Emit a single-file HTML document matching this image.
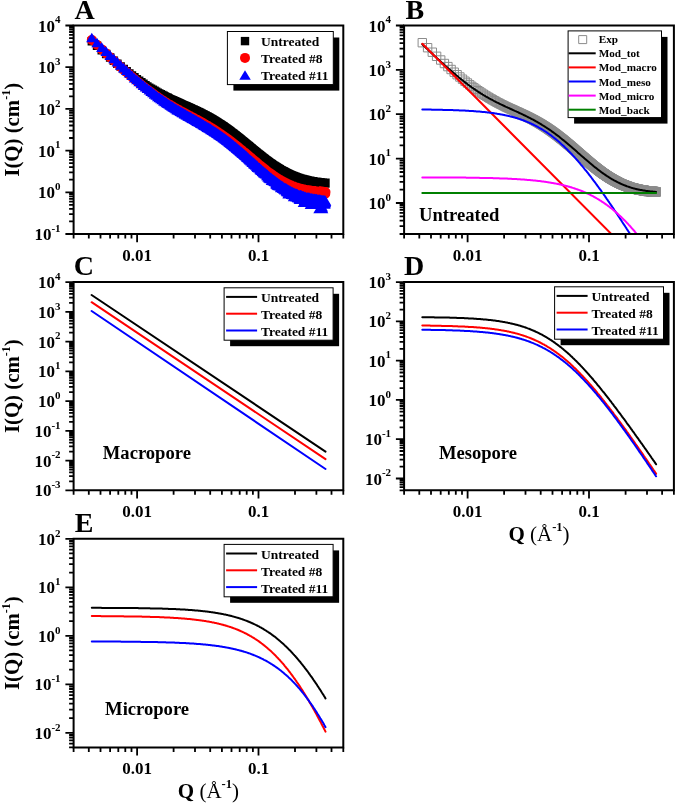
<!DOCTYPE html>
<html><head><meta charset="utf-8"><title>SAXS figure</title><style>html,body{margin:0;padding:0;background:#fff;}svg{display:block;will-change:transform;}</style></head><body>
<svg width="675" height="803" viewBox="0 0 675 803">
<rect width="675" height="803" fill="#fff"/>
<defs>
<clipPath id="cA"><rect x="74.6" y="26.5" width="267.7" height="206.5"/></clipPath>
<clipPath id="cB"><rect x="405.1" y="26.5" width="267.8" height="206.5"/></clipPath>
<clipPath id="cC"><rect x="74.6" y="283.1" width="267.7" height="206.2"/></clipPath>
<clipPath id="cD"><rect x="405.1" y="283.1" width="267.8" height="206.2"/></clipPath>
<clipPath id="cE"><rect x="74.6" y="539.8" width="267.7" height="206.6"/></clipPath>
</defs>
<path d="M87.6 36.9h8.5v8.5h-8.5zM92.8 41.6h8.5v8.5h-8.5zM97.5 45.9h8.5v8.5h-8.5zM101.9 49.8h8.5v8.5h-8.5zM105.9 53.3h8.5v8.5h-8.5zM109.6 56.5h8.5v8.5h-8.5zM113.1 59.4h8.5v8.5h-8.5zM116.4 62.2h8.5v8.5h-8.5zM119.5 64.7h8.5v8.5h-8.5zM122.4 67.1h8.5v8.5h-8.5zM125.1 69.2h8.5v8.5h-8.5zM127.7 71.3h8.5v8.5h-8.5zM130.2 73.1h8.5v8.5h-8.5zM132.6 74.9h8.5v8.5h-8.5zM134.9 76.5h8.5v8.5h-8.5zM137.1 78.1h8.5v8.5h-8.5zM139.2 79.5h8.5v8.5h-8.5zM141.2 80.9h8.5v8.5h-8.5zM143.1 82.2h8.5v8.5h-8.5zM145 83.4h8.5v8.5h-8.5zM146.8 84.5h8.5v8.5h-8.5zM148.6 85.5h8.5v8.5h-8.5zM150.3 86.6h8.5v8.5h-8.5zM151.9 87.5h8.5v8.5h-8.5zM153.5 88.4h8.5v8.5h-8.5zM155 89.2h8.5v8.5h-8.5zM156.5 90.1h8.5v8.5h-8.5zM158 90.8h8.5v8.5h-8.5zM159.4 91.6h8.5v8.5h-8.5zM160.8 92.3h8.5v8.5h-8.5zM162.1 93h8.5v8.5h-8.5zM163.5 93.6h8.5v8.5h-8.5zM164.7 94.3h8.5v8.5h-8.5zM166 94.9h8.5v8.5h-8.5zM167.2 95.5h8.5v8.5h-8.5zM168.4 96h8.5v8.5h-8.5zM169.6 96.5h8.5v8.5h-8.5zM170.7 97.1h8.5v8.5h-8.5zM171.8 97.6h8.5v8.5h-8.5zM172.9 98.1h8.5v8.5h-8.5zM174 98.6h8.5v8.5h-8.5zM175.1 99h8.5v8.5h-8.5zM176.1 99.5h8.5v8.5h-8.5zM177.1 99.9h8.5v8.5h-8.5zM178.1 100.4h8.5v8.5h-8.5zM179.1 100.9h8.5v8.5h-8.5zM180 101.3h8.5v8.5h-8.5zM181 101.7h8.5v8.5h-8.5zM181.9 102.1h8.5v8.5h-8.5zM182.8 102.6h8.5v8.5h-8.5zM183.7 102.9h8.5v8.5h-8.5zM184.6 103.3h8.5v8.5h-8.5zM185.4 103.7h8.5v8.5h-8.5zM186.3 104.1h8.5v8.5h-8.5zM187.1 104.5h8.5v8.5h-8.5zM187.9 104.9h8.5v8.5h-8.5zM188.7 105.2h8.5v8.5h-8.5zM189.5 105.6h8.5v8.5h-8.5zM190.3 106h8.5v8.5h-8.5zM191.1 106.3h8.5v8.5h-8.5zM191.8 106.7h8.5v8.5h-8.5zM192.6 107.1h8.5v8.5h-8.5zM193.3 107.4h8.5v8.5h-8.5zM194.1 107.8h8.5v8.5h-8.5zM194.8 108.1h8.5v8.5h-8.5zM195.5 108.5h8.5v8.5h-8.5zM196.2 108.8h8.5v8.5h-8.5zM196.9 109.2h8.5v8.5h-8.5zM197.6 109.6h8.5v8.5h-8.5zM198.3 109.9h8.5v8.5h-8.5zM198.9 110.2h8.5v8.5h-8.5zM199.6 110.6h8.5v8.5h-8.5zM200.2 110.9h8.5v8.5h-8.5zM200.9 111.2h8.5v8.5h-8.5zM201.5 111.6h8.5v8.5h-8.5zM202.1 111.9h8.5v8.5h-8.5zM202.8 112.3h8.5v8.5h-8.5zM203.4 112.6h8.5v8.5h-8.5zM204 112.9h8.5v8.5h-8.5zM204.6 113.3h8.5v8.5h-8.5zM205.2 113.6h8.5v8.5h-8.5zM205.7 113.9h8.5v8.5h-8.5zM206.3 114.3h8.5v8.5h-8.5zM206.9 114.6h8.5v8.5h-8.5zM207.5 114.9h8.5v8.5h-8.5zM208 115.3h8.5v8.5h-8.5zM208.6 115.6h8.5v8.5h-8.5zM209.1 115.9h8.5v8.5h-8.5zM209.7 116.3h8.5v8.5h-8.5zM210.2 116.6h8.5v8.5h-8.5zM210.7 116.9h8.5v8.5h-8.5zM211.3 117.2h8.5v8.5h-8.5zM211.8 117.6h8.5v8.5h-8.5zM212.3 117.9h8.5v8.5h-8.5zM212.8 118.2h8.5v8.5h-8.5zM213.3 118.5h8.5v8.5h-8.5zM213.8 118.9h8.5v8.5h-8.5zM214.3 119.2h8.5v8.5h-8.5zM214.8 119.5h8.5v8.5h-8.5zM215.3 119.9h8.5v8.5h-8.5zM215.8 120.1h8.5v8.5h-8.5zM216.3 120.5h8.5v8.5h-8.5zM216.7 120.8h8.5v8.5h-8.5zM217.2 121.1h8.5v8.5h-8.5zM217.7 121.4h8.5v8.5h-8.5zM218.1 121.7h8.5v8.5h-8.5zM218.6 122h8.5v8.5h-8.5zM219 122.3h8.5v8.5h-8.5zM219.5 122.6h8.5v8.5h-8.5zM219.9 123h8.5v8.5h-8.5zM220.4 123.3h8.5v8.5h-8.5zM220.8 123.6h8.5v8.5h-8.5zM221.3 123.9h8.5v8.5h-8.5zM221.7 124.2h8.5v8.5h-8.5zM222.1 124.5h8.5v8.5h-8.5zM222.5 124.8h8.5v8.5h-8.5zM223 125.1h8.5v8.5h-8.5zM223.4 125.4h8.5v8.5h-8.5zM223.8 125.7h8.5v8.5h-8.5zM224.2 126h8.5v8.5h-8.5zM224.6 126.3h8.5v8.5h-8.5zM225 126.6h8.5v8.5h-8.5zM225.4 126.9h8.5v8.5h-8.5zM225.8 127.3h8.5v8.5h-8.5zM226.2 127.5h8.5v8.5h-8.5zM226.6 127.8h8.5v8.5h-8.5zM227 128.2h8.5v8.5h-8.5zM227.4 128.4h8.5v8.5h-8.5zM227.8 128.7h8.5v8.5h-8.5zM228.1 129h8.5v8.5h-8.5zM228.5 129.3h8.5v8.5h-8.5zM228.9 129.6h8.5v8.5h-8.5zM229.3 129.8h8.5v8.5h-8.5zM229.6 130.2h8.5v8.5h-8.5zM230 130.5h8.5v8.5h-8.5zM230.4 130.7h8.5v8.5h-8.5zM230.7 131h8.5v8.5h-8.5zM231.1 131.3h8.5v8.5h-8.5zM231.5 131.6h8.5v8.5h-8.5zM231.8 131.9h8.5v8.5h-8.5zM232.2 132.1h8.5v8.5h-8.5zM232.5 132.4h8.5v8.5h-8.5zM232.9 132.7h8.5v8.5h-8.5zM233.2 133h8.5v8.5h-8.5zM233.6 133.2h8.5v8.5h-8.5zM233.9 133.5h8.5v8.5h-8.5zM234.2 133.8h8.5v8.5h-8.5zM234.6 134h8.5v8.5h-8.5zM234.9 134.3h8.5v8.5h-8.5zM235.3 134.6h8.5v8.5h-8.5zM235.6 134.9h8.5v8.5h-8.5zM235.9 135.1h8.5v8.5h-8.5zM236.2 135.4h8.5v8.5h-8.5zM236.6 135.6h8.5v8.5h-8.5zM236.9 135.9h8.5v8.5h-8.5zM237.2 136.2h8.5v8.5h-8.5zM237.5 136.5h8.5v8.5h-8.5zM237.8 136.7h8.5v8.5h-8.5zM238.2 137h8.5v8.5h-8.5zM238.5 137.2h8.5v8.5h-8.5zM238.8 137.5h8.5v8.5h-8.5zM239.1 137.7h8.5v8.5h-8.5zM239.4 138h8.5v8.5h-8.5zM239.7 138.3h8.5v8.5h-8.5zM240 138.5h8.5v8.5h-8.5zM240.3 138.7h8.5v8.5h-8.5zM240.6 139h8.5v8.5h-8.5zM240.9 139.2h8.5v8.5h-8.5zM241.2 139.4h8.5v8.5h-8.5zM241.5 139.7h8.5v8.5h-8.5zM241.8 140h8.5v8.5h-8.5zM242.1 140.2h8.5v8.5h-8.5zM242.4 140.4h8.5v8.5h-8.5zM242.7 140.6h8.5v8.5h-8.5zM243 140.9h8.5v8.5h-8.5zM243.3 141.2h8.5v8.5h-8.5zM243.5 141.4h8.5v8.5h-8.5zM243.8 141.6h8.5v8.5h-8.5zM244.1 141.8h8.5v8.5h-8.5zM244.4 142h8.5v8.5h-8.5zM244.7 142.3h8.5v8.5h-8.5zM244.9 142.5h8.5v8.5h-8.5zM245.2 142.8h8.5v8.5h-8.5zM245.5 143h8.5v8.5h-8.5zM245.8 143.2h8.5v8.5h-8.5zM246 143.4h8.5v8.5h-8.5zM246.3 143.7h8.5v8.5h-8.5zM246.6 143.9h8.5v8.5h-8.5zM246.8 144.1h8.5v8.5h-8.5zM247.1 144.3h8.5v8.5h-8.5zM247.4 144.6h8.5v8.5h-8.5zM247.6 144.8h8.5v8.5h-8.5zM247.9 145h8.5v8.5h-8.5zM248.2 145.2h8.5v8.5h-8.5zM248.4 145.4h8.5v8.5h-8.5zM248.7 145.7h8.5v8.5h-8.5zM248.9 145.9h8.5v8.5h-8.5zM249.2 146.1h8.5v8.5h-8.5zM249.4 146.3h8.5v8.5h-8.5zM249.7 146.6h8.5v8.5h-8.5zM249.9 146.7h8.5v8.5h-8.5zM250.2 146.9h8.5v8.5h-8.5zM250.4 147.1h8.5v8.5h-8.5zM250.7 147.3h8.5v8.5h-8.5zM250.9 147.6h8.5v8.5h-8.5zM251.2 147.8h8.5v8.5h-8.5zM251.4 148h8.5v8.5h-8.5zM251.7 148.2h8.5v8.5h-8.5zM251.9 148.3h8.5v8.5h-8.5zM252.2 148.5h8.5v8.5h-8.5zM252.4 148.6h8.5v8.5h-8.5zM252.6 148.9h8.5v8.5h-8.5zM252.9 149.2h8.5v8.5h-8.5zM253.1 149.4h8.5v8.5h-8.5zM253.4 149.4h8.5v8.5h-8.5zM253.6 149.6h8.5v8.5h-8.5zM253.8 149.8h8.5v8.5h-8.5zM254.1 150h8.5v8.5h-8.5zM254.3 150.2h8.5v8.5h-8.5zM254.5 150.5h8.5v8.5h-8.5zM254.8 150.5h8.5v8.5h-8.5zM255 150.8h8.5v8.5h-8.5zM255.2 151.1h8.5v8.5h-8.5zM255.4 151.1h8.5v8.5h-8.5zM255.7 151.2h8.5v8.5h-8.5zM255.9 151.5h8.5v8.5h-8.5zM256.1 151.7h8.5v8.5h-8.5zM256.3 151.8h8.5v8.5h-8.5zM256.6 152.1h8.5v8.5h-8.5zM256.8 152.2h8.5v8.5h-8.5zM257 152.3h8.5v8.5h-8.5zM257.2 152.6h8.5v8.5h-8.5zM257.4 152.7h8.5v8.5h-8.5zM257.7 152.8h8.5v8.5h-8.5zM257.9 153.2h8.5v8.5h-8.5zM258.1 153.3h8.5v8.5h-8.5zM258.3 153.4h8.5v8.5h-8.5zM258.5 153.5h8.5v8.5h-8.5zM258.7 153.6h8.5v8.5h-8.5zM258.9 154h8.5v8.5h-8.5zM259.2 154h8.5v8.5h-8.5zM259.4 154.2h8.5v8.5h-8.5zM259.6 154.3h8.5v8.5h-8.5zM259.8 154.5h8.5v8.5h-8.5zM260 154.6h8.5v8.5h-8.5zM260.2 154.9h8.5v8.5h-8.5zM260.4 154.9h8.5v8.5h-8.5zM260.6 155.4h8.5v8.5h-8.5zM260.8 155.3h8.5v8.5h-8.5zM261 155.7h8.5v8.5h-8.5zM261.2 156h8.5v8.5h-8.5zM261.4 155.8h8.5v8.5h-8.5zM261.6 156h8.5v8.5h-8.5zM261.8 156h8.5v8.5h-8.5zM262 156.3h8.5v8.5h-8.5zM262.2 156.4h8.5v8.5h-8.5zM262.4 156.6h8.5v8.5h-8.5zM262.6 156.6h8.5v8.5h-8.5zM262.8 156.7h8.5v8.5h-8.5zM263 156.9h8.5v8.5h-8.5zM263.2 157h8.5v8.5h-8.5zM263.4 157.3h8.5v8.5h-8.5zM263.6 157.4h8.5v8.5h-8.5zM263.8 157.5h8.5v8.5h-8.5zM264 157.7h8.5v8.5h-8.5zM264.2 157.8h8.5v8.5h-8.5zM264.4 158h8.5v8.5h-8.5zM264.6 158.2h8.5v8.5h-8.5zM264.8 158.3h8.5v8.5h-8.5zM264.9 158.3h8.5v8.5h-8.5zM265.1 158.4h8.5v8.5h-8.5zM265.3 158.7h8.5v8.5h-8.5zM265.5 158.9h8.5v8.5h-8.5zM265.7 159h8.5v8.5h-8.5zM265.9 159h8.5v8.5h-8.5zM266.1 159.2h8.5v8.5h-8.5zM266.3 159.2h8.5v8.5h-8.5zM266.4 159.7h8.5v8.5h-8.5zM266.6 159.5h8.5v8.5h-8.5zM266.8 159.6h8.5v8.5h-8.5zM267 159.7h8.5v8.5h-8.5zM267.2 160h8.5v8.5h-8.5zM267.4 160h8.5v8.5h-8.5zM267.5 160.1h8.5v8.5h-8.5zM267.7 160.4h8.5v8.5h-8.5zM267.9 160.4h8.5v8.5h-8.5zM268.1 160.4h8.5v8.5h-8.5zM268.2 160.8h8.5v8.5h-8.5zM268.4 160.8h8.5v8.5h-8.5zM268.6 160.9h8.5v8.5h-8.5zM268.8 161.2h8.5v8.5h-8.5zM269 161.3h8.5v8.5h-8.5zM269.1 161.3h8.5v8.5h-8.5zM269.3 161.4h8.5v8.5h-8.5zM269.5 161.5h8.5v8.5h-8.5zM269.6 161.5h8.5v8.5h-8.5zM269.8 161.6h8.5v8.5h-8.5zM270 161.8h8.5v8.5h-8.5zM270.2 161.9h8.5v8.5h-8.5zM270.3 162h8.5v8.5h-8.5zM270.5 162.3h8.5v8.5h-8.5zM270.7 162.3h8.5v8.5h-8.5zM270.8 162.3h8.5v8.5h-8.5zM271 162.5h8.5v8.5h-8.5zM271.2 162.6h8.5v8.5h-8.5zM271.4 162.9h8.5v8.5h-8.5zM271.5 162.8h8.5v8.5h-8.5zM271.7 162.8h8.5v8.5h-8.5zM271.9 163h8.5v8.5h-8.5zM272 163.2h8.5v8.5h-8.5zM272.2 163.1h8.5v8.5h-8.5zM272.3 163.4h8.5v8.5h-8.5zM272.5 163.4h8.5v8.5h-8.5zM272.7 163.5h8.5v8.5h-8.5zM272.8 163.6h8.5v8.5h-8.5zM273 163.7h8.5v8.5h-8.5zM273.2 164.1h8.5v8.5h-8.5zM273.3 163.9h8.5v8.5h-8.5zM273.5 164.1h8.5v8.5h-8.5zM273.6 164.2h8.5v8.5h-8.5zM273.8 164.3h8.5v8.5h-8.5zM274 164.3h8.5v8.5h-8.5zM274.1 164.6h8.5v8.5h-8.5zM274.3 164.5h8.5v8.5h-8.5zM274.4 164.6h8.5v8.5h-8.5zM274.6 164.6h8.5v8.5h-8.5zM274.8 164.7h8.5v8.5h-8.5zM274.9 165h8.5v8.5h-8.5zM275.1 165h8.5v8.5h-8.5zM275.2 165.4h8.5v8.5h-8.5zM275.4 165.1h8.5v8.5h-8.5zM275.5 165.2h8.5v8.5h-8.5zM275.7 165.5h8.5v8.5h-8.5zM275.8 165.4h8.5v8.5h-8.5zM276 165.7h8.5v8.5h-8.5zM276.2 165.8h8.5v8.5h-8.5zM276.3 165.9h8.5v8.5h-8.5zM276.5 165.9h8.5v8.5h-8.5zM276.6 166h8.5v8.5h-8.5zM276.8 166.2h8.5v8.5h-8.5zM276.9 166h8.5v8.5h-8.5zM277.1 166.2h8.5v8.5h-8.5zM277.2 166.6h8.5v8.5h-8.5zM277.4 166.3h8.5v8.5h-8.5zM277.5 166.4h8.5v8.5h-8.5zM277.7 166.7h8.5v8.5h-8.5zM277.8 166.5h8.5v8.5h-8.5zM278 166.9h8.5v8.5h-8.5zM278.1 166.8h8.5v8.5h-8.5zM278.3 166.9h8.5v8.5h-8.5zM278.4 167h8.5v8.5h-8.5zM278.5 167h8.5v8.5h-8.5zM278.7 167h8.5v8.5h-8.5zM278.8 167.1h8.5v8.5h-8.5zM279 167.1h8.5v8.5h-8.5zM279.1 167.2h8.5v8.5h-8.5zM279.3 167.3h8.5v8.5h-8.5zM279.4 167.3h8.5v8.5h-8.5zM279.6 167.5h8.5v8.5h-8.5zM279.7 167.5h8.5v8.5h-8.5zM279.8 167.7h8.5v8.5h-8.5zM280 168.1h8.5v8.5h-8.5zM280.1 167.8h8.5v8.5h-8.5zM280.3 167.8h8.5v8.5h-8.5zM280.4 168.3h8.5v8.5h-8.5zM280.6 168h8.5v8.5h-8.5zM280.7 168.5h8.5v8.5h-8.5zM280.8 168.4h8.5v8.5h-8.5zM281 168.3h8.5v8.5h-8.5zM281.1 168.4h8.5v8.5h-8.5zM281.3 168.3h8.5v8.5h-8.5zM281.4 168.8h8.5v8.5h-8.5zM281.5 168.5h8.5v8.5h-8.5zM281.7 168.7h8.5v8.5h-8.5zM281.8 168.7h8.5v8.5h-8.5zM281.9 169.2h8.5v8.5h-8.5zM282.1 168.8h8.5v8.5h-8.5zM282.2 169h8.5v8.5h-8.5zM282.4 169.1h8.5v8.5h-8.5zM282.5 168.9h8.5v8.5h-8.5zM282.6 169h8.5v8.5h-8.5zM282.8 169.3h8.5v8.5h-8.5zM282.9 169.1h8.5v8.5h-8.5zM283 169.5h8.5v8.5h-8.5zM283.2 169.5h8.5v8.5h-8.5zM283.3 169.6h8.5v8.5h-8.5zM283.4 169.6h8.5v8.5h-8.5zM283.6 169.5h8.5v8.5h-8.5zM283.7 169.6h8.5v8.5h-8.5zM283.8 169.6h8.5v8.5h-8.5zM284 169.7h8.5v8.5h-8.5zM284.1 169.8h8.5v8.5h-8.5zM284.2 170.1h8.5v8.5h-8.5zM284.4 170.2h8.5v8.5h-8.5zM284.5 170.1h8.5v8.5h-8.5zM284.6 170h8.5v8.5h-8.5zM284.7 170h8.5v8.5h-8.5zM284.9 170.3h8.5v8.5h-8.5zM285 170.5h8.5v8.5h-8.5zM285.1 170.3h8.5v8.5h-8.5zM285.3 170.2h8.5v8.5h-8.5zM285.4 170.4h8.5v8.5h-8.5zM285.5 170.4h8.5v8.5h-8.5zM285.6 170.6h8.5v8.5h-8.5zM285.8 170.5h8.5v8.5h-8.5zM285.9 170.8h8.5v8.5h-8.5zM286 170.8h8.5v8.5h-8.5zM286.2 170.8h8.5v8.5h-8.5zM286.3 170.8h8.5v8.5h-8.5zM286.4 171.2h8.5v8.5h-8.5zM286.5 171.1h8.5v8.5h-8.5zM286.7 171h8.5v8.5h-8.5zM286.8 171.2h8.5v8.5h-8.5zM286.9 171h8.5v8.5h-8.5zM287 171.1h8.5v8.5h-8.5zM287.2 171.3h8.5v8.5h-8.5zM287.3 171.8h8.5v8.5h-8.5zM287.4 171.2h8.5v8.5h-8.5zM287.5 171.6h8.5v8.5h-8.5zM287.7 171.4h8.5v8.5h-8.5zM287.8 171.3h8.5v8.5h-8.5zM287.9 171.8h8.5v8.5h-8.5zM288 171.5h8.5v8.5h-8.5zM288.1 171.7h8.5v8.5h-8.5zM288.3 171.8h8.5v8.5h-8.5zM288.4 171.8h8.5v8.5h-8.5zM288.5 171.7h8.5v8.5h-8.5zM288.6 171.9h8.5v8.5h-8.5zM288.7 171.8h8.5v8.5h-8.5zM288.9 171.9h8.5v8.5h-8.5zM289 171.8h8.5v8.5h-8.5zM289.1 172h8.5v8.5h-8.5zM289.2 172.1h8.5v8.5h-8.5zM289.3 172h8.5v8.5h-8.5zM289.5 172.3h8.5v8.5h-8.5zM289.6 172.4h8.5v8.5h-8.5zM289.7 172.1h8.5v8.5h-8.5zM289.8 172.4h8.5v8.5h-8.5zM289.9 172.6h8.5v8.5h-8.5zM290.1 172.2h8.5v8.5h-8.5zM290.2 172.4h8.5v8.5h-8.5zM290.3 172.6h8.5v8.5h-8.5zM290.4 172.6h8.5v8.5h-8.5zM290.5 172.5h8.5v8.5h-8.5zM290.6 172.9h8.5v8.5h-8.5zM290.8 172.7h8.5v8.5h-8.5zM290.9 172.6h8.5v8.5h-8.5zM291 172.6h8.5v8.5h-8.5zM291.1 172.8h8.5v8.5h-8.5zM291.2 172.8h8.5v8.5h-8.5zM291.3 172.7h8.5v8.5h-8.5zM291.4 172.9h8.5v8.5h-8.5zM291.6 172.8h8.5v8.5h-8.5zM291.7 173.1h8.5v8.5h-8.5zM291.8 172.9h8.5v8.5h-8.5zM291.9 172.9h8.5v8.5h-8.5zM292 173.2h8.5v8.5h-8.5zM292.1 173.2h8.5v8.5h-8.5zM292.2 173h8.5v8.5h-8.5zM292.4 173.6h8.5v8.5h-8.5zM292.5 173.3h8.5v8.5h-8.5zM292.6 173.4h8.5v8.5h-8.5zM292.7 173.7h8.5v8.5h-8.5zM292.8 173.2h8.5v8.5h-8.5zM292.9 173.6h8.5v8.5h-8.5zM293 173.7h8.5v8.5h-8.5zM293.1 173.6h8.5v8.5h-8.5zM293.2 173.6h8.5v8.5h-8.5zM293.4 173.7h8.5v8.5h-8.5zM293.5 173.5h8.5v8.5h-8.5zM293.6 173.7h8.5v8.5h-8.5zM293.7 173.7h8.5v8.5h-8.5zM293.8 173.7h8.5v8.5h-8.5zM293.9 173.8h8.5v8.5h-8.5zM294 173.7h8.5v8.5h-8.5zM294.1 173.9h8.5v8.5h-8.5zM294.2 174h8.5v8.5h-8.5zM294.3 174.3h8.5v8.5h-8.5zM294.5 174.3h8.5v8.5h-8.5zM294.6 173.9h8.5v8.5h-8.5zM294.7 173.9h8.5v8.5h-8.5zM294.8 173.8h8.5v8.5h-8.5zM294.9 173.9h8.5v8.5h-8.5zM295 173.9h8.5v8.5h-8.5zM295.1 174.6h8.5v8.5h-8.5zM295.2 174.3h8.5v8.5h-8.5zM295.3 174.5h8.5v8.5h-8.5zM295.4 174.4h8.5v8.5h-8.5zM295.5 174.5h8.5v8.5h-8.5zM295.6 174.3h8.5v8.5h-8.5zM295.7 174.4h8.5v8.5h-8.5zM295.8 174.5h8.5v8.5h-8.5zM295.9 174.7h8.5v8.5h-8.5zM296 174.3h8.5v8.5h-8.5zM296.2 174.7h8.5v8.5h-8.5zM296.3 175.2h8.5v8.5h-8.5zM296.4 174.5h8.5v8.5h-8.5zM296.5 174.7h8.5v8.5h-8.5zM296.6 174.7h8.5v8.5h-8.5zM296.7 174.8h8.5v8.5h-8.5zM296.8 174.5h8.5v8.5h-8.5zM296.9 175h8.5v8.5h-8.5zM297 174.8h8.5v8.5h-8.5zM297.1 175h8.5v8.5h-8.5zM297.2 174.8h8.5v8.5h-8.5zM297.3 174.7h8.5v8.5h-8.5zM297.4 174.9h8.5v8.5h-8.5zM297.5 175.3h8.5v8.5h-8.5zM297.6 174.8h8.5v8.5h-8.5zM297.7 174.7h8.5v8.5h-8.5zM297.8 174.8h8.5v8.5h-8.5zM297.9 174.8h8.5v8.5h-8.5zM298 175.2h8.5v8.5h-8.5zM298.1 174.8h8.5v8.5h-8.5zM298.2 174.9h8.5v8.5h-8.5zM298.3 175.3h8.5v8.5h-8.5zM298.4 175.6h8.5v8.5h-8.5zM298.5 175h8.5v8.5h-8.5zM298.6 175.2h8.5v8.5h-8.5zM298.7 175h8.5v8.5h-8.5zM298.8 175.2h8.5v8.5h-8.5zM298.9 175.3h8.5v8.5h-8.5zM299 175.1h8.5v8.5h-8.5zM299.1 175.5h8.5v8.5h-8.5zM299.2 175.3h8.5v8.5h-8.5zM299.3 175.2h8.5v8.5h-8.5zM299.4 175.2h8.5v8.5h-8.5zM299.5 175.2h8.5v8.5h-8.5zM299.6 175.5h8.5v8.5h-8.5zM299.7 175.6h8.5v8.5h-8.5zM299.8 175.3h8.5v8.5h-8.5zM299.9 175.5h8.5v8.5h-8.5zM300 175.4h8.5v8.5h-8.5zM300.1 175.3h8.5v8.5h-8.5zM300.2 175.8h8.5v8.5h-8.5zM300.3 175.4h8.5v8.5h-8.5zM300.4 175.9h8.5v8.5h-8.5zM300.5 175.6h8.5v8.5h-8.5zM300.6 175.6h8.5v8.5h-8.5zM300.7 176.2h8.5v8.5h-8.5zM300.8 175.5h8.5v8.5h-8.5zM300.9 175.6h8.5v8.5h-8.5zM301 175.6h8.5v8.5h-8.5zM301 175.7h8.5v8.5h-8.5zM301.1 175.7h8.5v8.5h-8.5zM301.2 176h8.5v8.5h-8.5zM301.3 175.7h8.5v8.5h-8.5zM301.4 175.9h8.5v8.5h-8.5zM301.5 175.7h8.5v8.5h-8.5zM301.6 176.1h8.5v8.5h-8.5zM301.7 175.8h8.5v8.5h-8.5zM301.8 175.8h8.5v8.5h-8.5zM301.9 175.8h8.5v8.5h-8.5zM302 175.9h8.5v8.5h-8.5zM302.1 176h8.5v8.5h-8.5zM302.2 176.5h8.5v8.5h-8.5zM302.3 176h8.5v8.5h-8.5zM302.4 176h8.5v8.5h-8.5zM302.5 176h8.5v8.5h-8.5zM302.6 176.1h8.5v8.5h-8.5zM302.6 176.2h8.5v8.5h-8.5zM302.7 176h8.5v8.5h-8.5zM302.8 176.2h8.5v8.5h-8.5zM302.9 176.2h8.5v8.5h-8.5zM303 176.1h8.5v8.5h-8.5zM303.1 176.6h8.5v8.5h-8.5zM303.2 176.3h8.5v8.5h-8.5zM303.3 176.5h8.5v8.5h-8.5zM303.4 176.5h8.5v8.5h-8.5zM303.5 176.2h8.5v8.5h-8.5zM303.6 176.7h8.5v8.5h-8.5zM303.7 176.5h8.5v8.5h-8.5zM303.7 176.2h8.5v8.5h-8.5zM303.8 177.2h8.5v8.5h-8.5zM303.9 176.3h8.5v8.5h-8.5zM304 176.8h8.5v8.5h-8.5zM304.1 176.7h8.5v8.5h-8.5zM304.2 176.5h8.5v8.5h-8.5zM304.3 176.8h8.5v8.5h-8.5zM304.4 176.4h8.5v8.5h-8.5zM304.5 176.4h8.5v8.5h-8.5zM304.6 177h8.5v8.5h-8.5zM304.6 177h8.5v8.5h-8.5zM304.7 176.4h8.5v8.5h-8.5zM304.8 176.5h8.5v8.5h-8.5zM304.9 176.9h8.5v8.5h-8.5zM305 176.7h8.5v8.5h-8.5zM305.1 176.6h8.5v8.5h-8.5zM305.2 176.6h8.5v8.5h-8.5zM305.3 176.5h8.5v8.5h-8.5zM305.3 176.9h8.5v8.5h-8.5zM305.4 176.8h8.5v8.5h-8.5zM305.5 176.5h8.5v8.5h-8.5zM305.6 176.8h8.5v8.5h-8.5zM305.7 176.8h8.5v8.5h-8.5zM305.8 177h8.5v8.5h-8.5zM305.9 176.7h8.5v8.5h-8.5zM306 176.7h8.5v8.5h-8.5zM306 176.8h8.5v8.5h-8.5zM306.1 177h8.5v8.5h-8.5zM306.2 177.3h8.5v8.5h-8.5zM306.3 176.9h8.5v8.5h-8.5zM306.4 176.7h8.5v8.5h-8.5zM306.5 176.8h8.5v8.5h-8.5zM306.6 177.4h8.5v8.5h-8.5zM306.7 176.9h8.5v8.5h-8.5zM306.7 177h8.5v8.5h-8.5zM306.8 177.1h8.5v8.5h-8.5zM306.9 177.7h8.5v8.5h-8.5zM307 176.9h8.5v8.5h-8.5zM307.1 177.2h8.5v8.5h-8.5zM307.2 177h8.5v8.5h-8.5zM307.2 177.1h8.5v8.5h-8.5zM307.3 176.9h8.5v8.5h-8.5zM307.4 177.2h8.5v8.5h-8.5zM307.5 178h8.5v8.5h-8.5zM307.6 177h8.5v8.5h-8.5zM307.7 177.1h8.5v8.5h-8.5zM307.8 177.2h8.5v8.5h-8.5zM307.8 177.6h8.5v8.5h-8.5zM307.9 177.4h8.5v8.5h-8.5zM308 177.1h8.5v8.5h-8.5zM308.1 177.1h8.5v8.5h-8.5zM308.2 177.3h8.5v8.5h-8.5zM308.3 177.2h8.5v8.5h-8.5zM308.3 177h8.5v8.5h-8.5zM308.4 177.4h8.5v8.5h-8.5zM308.5 177.8h8.5v8.5h-8.5zM308.6 177.1h8.5v8.5h-8.5zM308.7 177.1h8.5v8.5h-8.5zM308.8 177.2h8.5v8.5h-8.5zM308.8 177.6h8.5v8.5h-8.5zM308.9 177.1h8.5v8.5h-8.5zM309 177.7h8.5v8.5h-8.5zM309.1 177.5h8.5v8.5h-8.5zM309.2 177.2h8.5v8.5h-8.5zM309.2 177.3h8.5v8.5h-8.5zM309.3 177.5h8.5v8.5h-8.5zM309.4 177.6h8.5v8.5h-8.5zM309.5 177.8h8.5v8.5h-8.5zM309.6 177.6h8.5v8.5h-8.5zM309.7 177.4h8.5v8.5h-8.5zM309.7 177.5h8.5v8.5h-8.5zM309.8 177.9h8.5v8.5h-8.5zM309.9 177.7h8.5v8.5h-8.5zM310 177.5h8.5v8.5h-8.5zM310.1 177.5h8.5v8.5h-8.5zM310.1 177.5h8.5v8.5h-8.5zM310.2 177.7h8.5v8.5h-8.5zM310.3 177.4h8.5v8.5h-8.5zM310.4 177.8h8.5v8.5h-8.5zM310.5 177.7h8.5v8.5h-8.5zM310.5 177.7h8.5v8.5h-8.5zM310.6 177.5h8.5v8.5h-8.5zM310.7 177.7h8.5v8.5h-8.5zM310.8 177.7h8.5v8.5h-8.5zM310.9 177.5h8.5v8.5h-8.5zM310.9 177.8h8.5v8.5h-8.5zM311 177.5h8.5v8.5h-8.5zM311.1 177.6h8.5v8.5h-8.5zM311.2 177.8h8.5v8.5h-8.5zM311.2 177.7h8.5v8.5h-8.5zM311.3 177.7h8.5v8.5h-8.5zM311.4 178h8.5v8.5h-8.5zM311.5 178.4h8.5v8.5h-8.5zM311.6 178.3h8.5v8.5h-8.5zM311.6 177.6h8.5v8.5h-8.5zM311.7 177.6h8.5v8.5h-8.5zM311.8 178.2h8.5v8.5h-8.5zM311.9 177.6h8.5v8.5h-8.5zM312 178h8.5v8.5h-8.5zM312 177.6h8.5v8.5h-8.5zM312.1 177.8h8.5v8.5h-8.5zM312.2 177.9h8.5v8.5h-8.5zM312.3 178.3h8.5v8.5h-8.5zM312.3 178.2h8.5v8.5h-8.5zM312.4 177.9h8.5v8.5h-8.5zM312.5 178h8.5v8.5h-8.5zM312.6 177.7h8.5v8.5h-8.5zM312.6 177.8h8.5v8.5h-8.5zM312.7 177.9h8.5v8.5h-8.5zM312.8 177.8h8.5v8.5h-8.5zM312.9 177.9h8.5v8.5h-8.5zM313 178.1h8.5v8.5h-8.5zM313 177.9h8.5v8.5h-8.5zM313.1 178.1h8.5v8.5h-8.5zM313.2 178.2h8.5v8.5h-8.5zM313.3 177.8h8.5v8.5h-8.5zM313.3 178.1h8.5v8.5h-8.5zM313.4 177.9h8.5v8.5h-8.5zM313.5 177.9h8.5v8.5h-8.5zM313.6 178.1h8.5v8.5h-8.5zM313.6 178.4h8.5v8.5h-8.5zM313.7 178.2h8.5v8.5h-8.5zM313.8 178h8.5v8.5h-8.5zM313.9 178.8h8.5v8.5h-8.5zM313.9 178.2h8.5v8.5h-8.5zM314 177.9h8.5v8.5h-8.5zM314.1 178.1h8.5v8.5h-8.5zM314.2 178.7h8.5v8.5h-8.5zM314.2 178h8.5v8.5h-8.5zM314.3 178h8.5v8.5h-8.5zM314.4 178.4h8.5v8.5h-8.5zM314.5 178.1h8.5v8.5h-8.5zM314.5 178.2h8.5v8.5h-8.5zM314.6 178.1h8.5v8.5h-8.5zM314.7 178.7h8.5v8.5h-8.5zM314.7 178.6h8.5v8.5h-8.5zM314.8 178.2h8.5v8.5h-8.5zM314.9 178.2h8.5v8.5h-8.5zM315 178.8h8.5v8.5h-8.5zM315 178.2h8.5v8.5h-8.5zM315.1 178.1h8.5v8.5h-8.5zM315.2 178.2h8.5v8.5h-8.5zM315.3 178.3h8.5v8.5h-8.5zM315.3 178.1h8.5v8.5h-8.5zM315.4 178.7h8.5v8.5h-8.5zM315.5 178.2h8.5v8.5h-8.5zM315.5 178.3h8.5v8.5h-8.5zM315.6 178.2h8.5v8.5h-8.5zM315.7 178.3h8.5v8.5h-8.5zM315.8 178.2h8.5v8.5h-8.5zM315.8 179h8.5v8.5h-8.5zM315.9 178.6h8.5v8.5h-8.5zM316 178.2h8.5v8.5h-8.5zM316.1 178.5h8.5v8.5h-8.5zM316.1 178.9h8.5v8.5h-8.5zM316.2 178.1h8.5v8.5h-8.5zM316.3 178.8h8.5v8.5h-8.5zM316.3 178.5h8.5v8.5h-8.5zM316.4 178.6h8.5v8.5h-8.5zM316.5 178.3h8.5v8.5h-8.5zM316.6 178.2h8.5v8.5h-8.5zM316.6 178.9h8.5v8.5h-8.5zM316.7 178.3h8.5v8.5h-8.5zM316.8 178.8h8.5v8.5h-8.5zM316.8 178.3h8.5v8.5h-8.5zM316.9 178.2h8.5v8.5h-8.5zM317 178.3h8.5v8.5h-8.5zM317 178.2h8.5v8.5h-8.5zM317.1 178.4h8.5v8.5h-8.5zM317.2 178.4h8.5v8.5h-8.5zM317.3 178.9h8.5v8.5h-8.5zM317.3 178.2h8.5v8.5h-8.5zM317.4 179h8.5v8.5h-8.5zM317.5 179h8.5v8.5h-8.5zM317.5 178.8h8.5v8.5h-8.5zM317.6 178.5h8.5v8.5h-8.5zM317.7 178.5h8.5v8.5h-8.5zM317.7 178.8h8.5v8.5h-8.5zM317.8 178.3h8.5v8.5h-8.5zM317.9 178.3h8.5v8.5h-8.5zM318 178.4h8.5v8.5h-8.5zM318 178.3h8.5v8.5h-8.5zM318.1 178.5h8.5v8.5h-8.5zM318.2 178.3h8.5v8.5h-8.5zM318.2 178.7h8.5v8.5h-8.5zM318.3 178.5h8.5v8.5h-8.5zM318.4 179.2h8.5v8.5h-8.5zM318.4 178.3h8.5v8.5h-8.5zM318.5 178.4h8.5v8.5h-8.5zM318.6 178.5h8.5v8.5h-8.5zM318.6 178.6h8.5v8.5h-8.5zM318.7 178.8h8.5v8.5h-8.5zM318.8 178.4h8.5v8.5h-8.5zM318.8 178.7h8.5v8.5h-8.5zM318.9 178.5h8.5v8.5h-8.5zM319 178.4h8.5v8.5h-8.5zM319.1 179h8.5v8.5h-8.5zM319.1 178.6h8.5v8.5h-8.5zM319.2 178.4h8.5v8.5h-8.5zM319.3 178.6h8.5v8.5h-8.5zM319.3 179h8.5v8.5h-8.5zM319.4 179.2h8.5v8.5h-8.5zM319.5 178.7h8.5v8.5h-8.5zM319.5 178.6h8.5v8.5h-8.5zM319.6 178.7h8.5v8.5h-8.5zM319.7 178.7h8.5v8.5h-8.5zM319.7 179h8.5v8.5h-8.5zM319.8 179.1h8.5v8.5h-8.5zM319.9 178.7h8.5v8.5h-8.5zM319.9 178.6h8.5v8.5h-8.5zM320 178.7h8.5v8.5h-8.5zM320.1 178.7h8.5v8.5h-8.5zM320.1 178.8h8.5v8.5h-8.5zM320.2 179.3h8.5v8.5h-8.5zM320.3 178.6h8.5v8.5h-8.5zM320.3 179.1h8.5v8.5h-8.5zM320.4 178.7h8.5v8.5h-8.5zM320.5 178.6h8.5v8.5h-8.5zM320.5 178.6h8.5v8.5h-8.5zM320.6 179.1h8.5v8.5h-8.5zM320.7 178.6h8.5v8.5h-8.5zM320.7 179.1h8.5v8.5h-8.5zM320.8 178.8h8.5v8.5h-8.5zM320.9 178.9h8.5v8.5h-8.5zM320.9 179h8.5v8.5h-8.5zM321 178.7h8.5v8.5h-8.5zM321 178.8h8.5v8.5h-8.5zM321.1 179.3h8.5v8.5h-8.5zM321.2 178.8h8.5v8.5h-8.5zM321.2 178.6h8.5v8.5h-8.5z" fill="#000"/>
<path d="M86.8 39.9a5 5 0 1 0 10 0a5 5 0 1 0 -10 0zM92 44.8a5 5 0 1 0 10 0a5 5 0 1 0 -10 0zM96.8 49.4a5 5 0 1 0 10 0a5 5 0 1 0 -10 0zM101.1 53.4a5 5 0 1 0 10 0a5 5 0 1 0 -10 0zM105.1 57.3a5 5 0 1 0 10 0a5 5 0 1 0 -10 0zM108.9 60.7a5 5 0 1 0 10 0a5 5 0 1 0 -10 0zM112.4 63.9a5 5 0 1 0 10 0a5 5 0 1 0 -10 0zM115.6 66.9a5 5 0 1 0 10 0a5 5 0 1 0 -10 0zM118.7 69.7a5 5 0 1 0 10 0a5 5 0 1 0 -10 0zM121.6 72.2a5 5 0 1 0 10 0a5 5 0 1 0 -10 0zM124.4 74.6a5 5 0 1 0 10 0a5 5 0 1 0 -10 0zM127 76.9a5 5 0 1 0 10 0a5 5 0 1 0 -10 0zM129.5 79.1a5 5 0 1 0 10 0a5 5 0 1 0 -10 0zM131.9 81.2a5 5 0 1 0 10 0a5 5 0 1 0 -10 0zM134.1 82.9a5 5 0 1 0 10 0a5 5 0 1 0 -10 0zM136.3 84.8a5 5 0 1 0 10 0a5 5 0 1 0 -10 0zM138.4 86.5a5 5 0 1 0 10 0a5 5 0 1 0 -10 0zM140.4 88a5 5 0 1 0 10 0a5 5 0 1 0 -10 0zM142.4 89.5a5 5 0 1 0 10 0a5 5 0 1 0 -10 0zM144.3 91a5 5 0 1 0 10 0a5 5 0 1 0 -10 0zM146.1 92.3a5 5 0 1 0 10 0a5 5 0 1 0 -10 0zM147.8 93.6a5 5 0 1 0 10 0a5 5 0 1 0 -10 0zM149.5 94.8a5 5 0 1 0 10 0a5 5 0 1 0 -10 0zM151.1 96a5 5 0 1 0 10 0a5 5 0 1 0 -10 0zM152.7 97.1a5 5 0 1 0 10 0a5 5 0 1 0 -10 0zM154.3 98.2a5 5 0 1 0 10 0a5 5 0 1 0 -10 0zM155.8 99.3a5 5 0 1 0 10 0a5 5 0 1 0 -10 0zM157.2 100.2a5 5 0 1 0 10 0a5 5 0 1 0 -10 0zM158.7 101a5 5 0 1 0 10 0a5 5 0 1 0 -10 0zM160 102a5 5 0 1 0 10 0a5 5 0 1 0 -10 0zM161.4 102.8a5 5 0 1 0 10 0a5 5 0 1 0 -10 0zM162.7 103.7a5 5 0 1 0 10 0a5 5 0 1 0 -10 0zM164 104.4a5 5 0 1 0 10 0a5 5 0 1 0 -10 0zM165.2 105.1a5 5 0 1 0 10 0a5 5 0 1 0 -10 0zM166.5 105.9a5 5 0 1 0 10 0a5 5 0 1 0 -10 0zM167.7 106.6a5 5 0 1 0 10 0a5 5 0 1 0 -10 0zM168.8 107.2a5 5 0 1 0 10 0a5 5 0 1 0 -10 0zM170 108a5 5 0 1 0 10 0a5 5 0 1 0 -10 0zM171.1 108.6a5 5 0 1 0 10 0a5 5 0 1 0 -10 0zM172.2 109.2a5 5 0 1 0 10 0a5 5 0 1 0 -10 0zM173.3 109.7a5 5 0 1 0 10 0a5 5 0 1 0 -10 0zM174.3 110.3a5 5 0 1 0 10 0a5 5 0 1 0 -10 0zM175.3 111a5 5 0 1 0 10 0a5 5 0 1 0 -10 0zM176.3 111.5a5 5 0 1 0 10 0a5 5 0 1 0 -10 0zM177.3 112a5 5 0 1 0 10 0a5 5 0 1 0 -10 0zM178.3 112.5a5 5 0 1 0 10 0a5 5 0 1 0 -10 0zM179.3 113a5 5 0 1 0 10 0a5 5 0 1 0 -10 0zM180.2 113.6a5 5 0 1 0 10 0a5 5 0 1 0 -10 0zM181.1 114a5 5 0 1 0 10 0a5 5 0 1 0 -10 0zM182 114.5a5 5 0 1 0 10 0a5 5 0 1 0 -10 0zM182.9 115a5 5 0 1 0 10 0a5 5 0 1 0 -10 0zM183.8 115.5a5 5 0 1 0 10 0a5 5 0 1 0 -10 0zM184.7 116a5 5 0 1 0 10 0a5 5 0 1 0 -10 0zM185.5 116.3a5 5 0 1 0 10 0a5 5 0 1 0 -10 0zM186.3 116.9a5 5 0 1 0 10 0a5 5 0 1 0 -10 0zM187.2 117.2a5 5 0 1 0 10 0a5 5 0 1 0 -10 0zM188 117.7a5 5 0 1 0 10 0a5 5 0 1 0 -10 0zM188.8 118.1a5 5 0 1 0 10 0a5 5 0 1 0 -10 0zM189.6 118.5a5 5 0 1 0 10 0a5 5 0 1 0 -10 0zM190.3 119.1a5 5 0 1 0 10 0a5 5 0 1 0 -10 0zM191.1 119.4a5 5 0 1 0 10 0a5 5 0 1 0 -10 0zM191.8 119.8a5 5 0 1 0 10 0a5 5 0 1 0 -10 0zM192.6 120.1a5 5 0 1 0 10 0a5 5 0 1 0 -10 0zM193.3 120.5a5 5 0 1 0 10 0a5 5 0 1 0 -10 0zM194 121a5 5 0 1 0 10 0a5 5 0 1 0 -10 0zM194.8 121.3a5 5 0 1 0 10 0a5 5 0 1 0 -10 0zM195.5 121.8a5 5 0 1 0 10 0a5 5 0 1 0 -10 0zM196.1 122.1a5 5 0 1 0 10 0a5 5 0 1 0 -10 0zM196.8 122.4a5 5 0 1 0 10 0a5 5 0 1 0 -10 0zM197.5 122.8a5 5 0 1 0 10 0a5 5 0 1 0 -10 0zM198.2 123.3a5 5 0 1 0 10 0a5 5 0 1 0 -10 0zM198.8 123.6a5 5 0 1 0 10 0a5 5 0 1 0 -10 0zM199.5 124a5 5 0 1 0 10 0a5 5 0 1 0 -10 0zM200.1 124.4a5 5 0 1 0 10 0a5 5 0 1 0 -10 0zM200.8 124.7a5 5 0 1 0 10 0a5 5 0 1 0 -10 0zM201.4 125.2a5 5 0 1 0 10 0a5 5 0 1 0 -10 0zM202 125.5a5 5 0 1 0 10 0a5 5 0 1 0 -10 0zM202.6 125.8a5 5 0 1 0 10 0a5 5 0 1 0 -10 0zM203.2 126.1a5 5 0 1 0 10 0a5 5 0 1 0 -10 0zM203.8 126.6a5 5 0 1 0 10 0a5 5 0 1 0 -10 0zM204.4 126.9a5 5 0 1 0 10 0a5 5 0 1 0 -10 0zM205 127.2a5 5 0 1 0 10 0a5 5 0 1 0 -10 0zM205.6 127.6a5 5 0 1 0 10 0a5 5 0 1 0 -10 0zM206.1 127.9a5 5 0 1 0 10 0a5 5 0 1 0 -10 0zM206.7 128.3a5 5 0 1 0 10 0a5 5 0 1 0 -10 0zM207.3 128.6a5 5 0 1 0 10 0a5 5 0 1 0 -10 0zM207.8 128.9a5 5 0 1 0 10 0a5 5 0 1 0 -10 0zM208.4 129.3a5 5 0 1 0 10 0a5 5 0 1 0 -10 0zM208.9 129.6a5 5 0 1 0 10 0a5 5 0 1 0 -10 0zM209.5 130a5 5 0 1 0 10 0a5 5 0 1 0 -10 0zM210 130.3a5 5 0 1 0 10 0a5 5 0 1 0 -10 0zM210.5 130.7a5 5 0 1 0 10 0a5 5 0 1 0 -10 0zM211 131a5 5 0 1 0 10 0a5 5 0 1 0 -10 0zM211.5 131.3a5 5 0 1 0 10 0a5 5 0 1 0 -10 0zM212.1 131.7a5 5 0 1 0 10 0a5 5 0 1 0 -10 0zM212.6 132a5 5 0 1 0 10 0a5 5 0 1 0 -10 0zM213.1 132.3a5 5 0 1 0 10 0a5 5 0 1 0 -10 0zM213.6 132.7a5 5 0 1 0 10 0a5 5 0 1 0 -10 0zM214.1 133a5 5 0 1 0 10 0a5 5 0 1 0 -10 0zM214.5 133.4a5 5 0 1 0 10 0a5 5 0 1 0 -10 0zM215 133.7a5 5 0 1 0 10 0a5 5 0 1 0 -10 0zM215.5 133.9a5 5 0 1 0 10 0a5 5 0 1 0 -10 0zM216 134.3a5 5 0 1 0 10 0a5 5 0 1 0 -10 0zM216.4 134.6a5 5 0 1 0 10 0a5 5 0 1 0 -10 0zM216.9 134.9a5 5 0 1 0 10 0a5 5 0 1 0 -10 0zM217.4 135.3a5 5 0 1 0 10 0a5 5 0 1 0 -10 0zM217.8 135.6a5 5 0 1 0 10 0a5 5 0 1 0 -10 0zM218.3 135.9a5 5 0 1 0 10 0a5 5 0 1 0 -10 0zM218.7 136.2a5 5 0 1 0 10 0a5 5 0 1 0 -10 0zM219.2 136.6a5 5 0 1 0 10 0a5 5 0 1 0 -10 0zM219.6 136.8a5 5 0 1 0 10 0a5 5 0 1 0 -10 0zM220.1 137.2a5 5 0 1 0 10 0a5 5 0 1 0 -10 0zM220.5 137.4a5 5 0 1 0 10 0a5 5 0 1 0 -10 0zM220.9 137.8a5 5 0 1 0 10 0a5 5 0 1 0 -10 0zM221.4 138a5 5 0 1 0 10 0a5 5 0 1 0 -10 0zM221.8 138.4a5 5 0 1 0 10 0a5 5 0 1 0 -10 0zM222.2 138.7a5 5 0 1 0 10 0a5 5 0 1 0 -10 0zM222.6 139.1a5 5 0 1 0 10 0a5 5 0 1 0 -10 0zM223 139.3a5 5 0 1 0 10 0a5 5 0 1 0 -10 0zM223.5 139.6a5 5 0 1 0 10 0a5 5 0 1 0 -10 0zM223.9 139.9a5 5 0 1 0 10 0a5 5 0 1 0 -10 0zM224.3 140.2a5 5 0 1 0 10 0a5 5 0 1 0 -10 0zM224.7 140.6a5 5 0 1 0 10 0a5 5 0 1 0 -10 0zM225.1 140.8a5 5 0 1 0 10 0a5 5 0 1 0 -10 0zM225.5 141.1a5 5 0 1 0 10 0a5 5 0 1 0 -10 0zM225.9 141.4a5 5 0 1 0 10 0a5 5 0 1 0 -10 0zM226.2 141.8a5 5 0 1 0 10 0a5 5 0 1 0 -10 0zM226.6 142.1a5 5 0 1 0 10 0a5 5 0 1 0 -10 0zM227 142.4a5 5 0 1 0 10 0a5 5 0 1 0 -10 0zM227.4 142.6a5 5 0 1 0 10 0a5 5 0 1 0 -10 0zM227.8 143a5 5 0 1 0 10 0a5 5 0 1 0 -10 0zM228.2 143.3a5 5 0 1 0 10 0a5 5 0 1 0 -10 0zM228.5 143.5a5 5 0 1 0 10 0a5 5 0 1 0 -10 0zM228.9 143.8a5 5 0 1 0 10 0a5 5 0 1 0 -10 0zM229.3 144.1a5 5 0 1 0 10 0a5 5 0 1 0 -10 0zM229.6 144.4a5 5 0 1 0 10 0a5 5 0 1 0 -10 0zM230 144.7a5 5 0 1 0 10 0a5 5 0 1 0 -10 0zM230.4 144.9a5 5 0 1 0 10 0a5 5 0 1 0 -10 0zM230.7 145.2a5 5 0 1 0 10 0a5 5 0 1 0 -10 0zM231.1 145.5a5 5 0 1 0 10 0a5 5 0 1 0 -10 0zM231.4 145.8a5 5 0 1 0 10 0a5 5 0 1 0 -10 0zM231.8 146.1a5 5 0 1 0 10 0a5 5 0 1 0 -10 0zM232.1 146.3a5 5 0 1 0 10 0a5 5 0 1 0 -10 0zM232.5 146.6a5 5 0 1 0 10 0a5 5 0 1 0 -10 0zM232.8 146.9a5 5 0 1 0 10 0a5 5 0 1 0 -10 0zM233.2 147.2a5 5 0 1 0 10 0a5 5 0 1 0 -10 0zM233.5 147.4a5 5 0 1 0 10 0a5 5 0 1 0 -10 0zM233.8 147.7a5 5 0 1 0 10 0a5 5 0 1 0 -10 0zM234.2 148a5 5 0 1 0 10 0a5 5 0 1 0 -10 0zM234.5 148.3a5 5 0 1 0 10 0a5 5 0 1 0 -10 0zM234.8 148.5a5 5 0 1 0 10 0a5 5 0 1 0 -10 0zM235.2 148.9a5 5 0 1 0 10 0a5 5 0 1 0 -10 0zM235.5 149.2a5 5 0 1 0 10 0a5 5 0 1 0 -10 0zM235.8 149.4a5 5 0 1 0 10 0a5 5 0 1 0 -10 0zM236.1 149.8a5 5 0 1 0 10 0a5 5 0 1 0 -10 0zM236.5 149.9a5 5 0 1 0 10 0a5 5 0 1 0 -10 0zM236.8 150.2a5 5 0 1 0 10 0a5 5 0 1 0 -10 0zM237.1 150.4a5 5 0 1 0 10 0a5 5 0 1 0 -10 0zM237.4 150.8a5 5 0 1 0 10 0a5 5 0 1 0 -10 0zM237.7 151.1a5 5 0 1 0 10 0a5 5 0 1 0 -10 0zM238 151.4a5 5 0 1 0 10 0a5 5 0 1 0 -10 0zM238.3 151.5a5 5 0 1 0 10 0a5 5 0 1 0 -10 0zM238.7 151.7a5 5 0 1 0 10 0a5 5 0 1 0 -10 0zM239 152a5 5 0 1 0 10 0a5 5 0 1 0 -10 0zM239.3 152.2a5 5 0 1 0 10 0a5 5 0 1 0 -10 0zM239.6 152.4a5 5 0 1 0 10 0a5 5 0 1 0 -10 0zM239.9 152.7a5 5 0 1 0 10 0a5 5 0 1 0 -10 0zM240.2 153a5 5 0 1 0 10 0a5 5 0 1 0 -10 0zM240.5 153.1a5 5 0 1 0 10 0a5 5 0 1 0 -10 0zM240.8 153.5a5 5 0 1 0 10 0a5 5 0 1 0 -10 0zM241.1 154a5 5 0 1 0 10 0a5 5 0 1 0 -10 0zM241.3 154a5 5 0 1 0 10 0a5 5 0 1 0 -10 0zM241.6 154.3a5 5 0 1 0 10 0a5 5 0 1 0 -10 0zM241.9 154.5a5 5 0 1 0 10 0a5 5 0 1 0 -10 0zM242.2 154.6a5 5 0 1 0 10 0a5 5 0 1 0 -10 0zM242.5 155a5 5 0 1 0 10 0a5 5 0 1 0 -10 0zM242.8 155.1a5 5 0 1 0 10 0a5 5 0 1 0 -10 0zM243.1 155.5a5 5 0 1 0 10 0a5 5 0 1 0 -10 0zM243.4 155.7a5 5 0 1 0 10 0a5 5 0 1 0 -10 0zM243.6 156.1a5 5 0 1 0 10 0a5 5 0 1 0 -10 0zM243.9 156a5 5 0 1 0 10 0a5 5 0 1 0 -10 0zM244.2 156.3a5 5 0 1 0 10 0a5 5 0 1 0 -10 0zM244.5 156.7a5 5 0 1 0 10 0a5 5 0 1 0 -10 0zM244.7 156.7a5 5 0 1 0 10 0a5 5 0 1 0 -10 0zM245 157.1a5 5 0 1 0 10 0a5 5 0 1 0 -10 0zM245.3 157.2a5 5 0 1 0 10 0a5 5 0 1 0 -10 0zM245.6 157.4a5 5 0 1 0 10 0a5 5 0 1 0 -10 0zM245.8 157.7a5 5 0 1 0 10 0a5 5 0 1 0 -10 0zM246.1 158.1a5 5 0 1 0 10 0a5 5 0 1 0 -10 0zM246.4 158.1a5 5 0 1 0 10 0a5 5 0 1 0 -10 0zM246.6 158.4a5 5 0 1 0 10 0a5 5 0 1 0 -10 0zM246.9 158.6a5 5 0 1 0 10 0a5 5 0 1 0 -10 0zM247.1 158.8a5 5 0 1 0 10 0a5 5 0 1 0 -10 0zM247.4 159.2a5 5 0 1 0 10 0a5 5 0 1 0 -10 0zM247.7 159.4a5 5 0 1 0 10 0a5 5 0 1 0 -10 0zM247.9 159.5a5 5 0 1 0 10 0a5 5 0 1 0 -10 0zM248.2 159.7a5 5 0 1 0 10 0a5 5 0 1 0 -10 0zM248.4 160a5 5 0 1 0 10 0a5 5 0 1 0 -10 0zM248.7 160.1a5 5 0 1 0 10 0a5 5 0 1 0 -10 0zM248.9 160.3a5 5 0 1 0 10 0a5 5 0 1 0 -10 0zM249.2 160.6a5 5 0 1 0 10 0a5 5 0 1 0 -10 0zM249.4 161.2a5 5 0 1 0 10 0a5 5 0 1 0 -10 0zM249.7 161a5 5 0 1 0 10 0a5 5 0 1 0 -10 0zM249.9 161.5a5 5 0 1 0 10 0a5 5 0 1 0 -10 0zM250.2 161.5a5 5 0 1 0 10 0a5 5 0 1 0 -10 0zM250.4 161.7a5 5 0 1 0 10 0a5 5 0 1 0 -10 0zM250.7 161.8a5 5 0 1 0 10 0a5 5 0 1 0 -10 0zM250.9 162a5 5 0 1 0 10 0a5 5 0 1 0 -10 0zM251.2 162.1a5 5 0 1 0 10 0a5 5 0 1 0 -10 0zM251.4 162.3a5 5 0 1 0 10 0a5 5 0 1 0 -10 0zM251.7 162.6a5 5 0 1 0 10 0a5 5 0 1 0 -10 0zM251.9 163.2a5 5 0 1 0 10 0a5 5 0 1 0 -10 0zM252.1 163a5 5 0 1 0 10 0a5 5 0 1 0 -10 0zM252.4 163.7a5 5 0 1 0 10 0a5 5 0 1 0 -10 0zM252.6 163.4a5 5 0 1 0 10 0a5 5 0 1 0 -10 0zM252.8 163.7a5 5 0 1 0 10 0a5 5 0 1 0 -10 0zM253.1 163.9a5 5 0 1 0 10 0a5 5 0 1 0 -10 0zM253.3 164a5 5 0 1 0 10 0a5 5 0 1 0 -10 0zM253.5 164.2a5 5 0 1 0 10 0a5 5 0 1 0 -10 0zM253.8 164.7a5 5 0 1 0 10 0a5 5 0 1 0 -10 0zM254 165a5 5 0 1 0 10 0a5 5 0 1 0 -10 0zM254.2 165a5 5 0 1 0 10 0a5 5 0 1 0 -10 0zM254.5 165.4a5 5 0 1 0 10 0a5 5 0 1 0 -10 0zM254.7 165.3a5 5 0 1 0 10 0a5 5 0 1 0 -10 0zM254.9 165.7a5 5 0 1 0 10 0a5 5 0 1 0 -10 0zM255.1 165.7a5 5 0 1 0 10 0a5 5 0 1 0 -10 0zM255.4 165.8a5 5 0 1 0 10 0a5 5 0 1 0 -10 0zM255.6 166.2a5 5 0 1 0 10 0a5 5 0 1 0 -10 0zM255.8 166a5 5 0 1 0 10 0a5 5 0 1 0 -10 0zM256 166.2a5 5 0 1 0 10 0a5 5 0 1 0 -10 0zM256.2 166.3a5 5 0 1 0 10 0a5 5 0 1 0 -10 0zM256.5 166.7a5 5 0 1 0 10 0a5 5 0 1 0 -10 0zM256.7 167.2a5 5 0 1 0 10 0a5 5 0 1 0 -10 0zM256.9 166.9a5 5 0 1 0 10 0a5 5 0 1 0 -10 0zM257.1 167.1a5 5 0 1 0 10 0a5 5 0 1 0 -10 0zM257.3 167.5a5 5 0 1 0 10 0a5 5 0 1 0 -10 0zM257.6 167.6a5 5 0 1 0 10 0a5 5 0 1 0 -10 0zM257.8 167.6a5 5 0 1 0 10 0a5 5 0 1 0 -10 0zM258 168a5 5 0 1 0 10 0a5 5 0 1 0 -10 0zM258.2 167.9a5 5 0 1 0 10 0a5 5 0 1 0 -10 0zM258.4 168.6a5 5 0 1 0 10 0a5 5 0 1 0 -10 0zM258.6 168.9a5 5 0 1 0 10 0a5 5 0 1 0 -10 0zM258.8 168.5a5 5 0 1 0 10 0a5 5 0 1 0 -10 0zM259 168.8a5 5 0 1 0 10 0a5 5 0 1 0 -10 0zM259.2 168.8a5 5 0 1 0 10 0a5 5 0 1 0 -10 0zM259.4 169.2a5 5 0 1 0 10 0a5 5 0 1 0 -10 0zM259.7 169.1a5 5 0 1 0 10 0a5 5 0 1 0 -10 0zM259.9 169.7a5 5 0 1 0 10 0a5 5 0 1 0 -10 0zM260.1 169.4a5 5 0 1 0 10 0a5 5 0 1 0 -10 0zM260.3 170.4a5 5 0 1 0 10 0a5 5 0 1 0 -10 0zM260.5 170.1a5 5 0 1 0 10 0a5 5 0 1 0 -10 0zM260.7 170.2a5 5 0 1 0 10 0a5 5 0 1 0 -10 0zM260.9 170.3a5 5 0 1 0 10 0a5 5 0 1 0 -10 0zM261.1 170.3a5 5 0 1 0 10 0a5 5 0 1 0 -10 0zM261.3 170.7a5 5 0 1 0 10 0a5 5 0 1 0 -10 0zM261.5 170.8a5 5 0 1 0 10 0a5 5 0 1 0 -10 0zM261.7 170.9a5 5 0 1 0 10 0a5 5 0 1 0 -10 0zM261.9 171.1a5 5 0 1 0 10 0a5 5 0 1 0 -10 0zM262.1 171.2a5 5 0 1 0 10 0a5 5 0 1 0 -10 0zM262.3 171.2a5 5 0 1 0 10 0a5 5 0 1 0 -10 0zM262.5 171.6a5 5 0 1 0 10 0a5 5 0 1 0 -10 0zM262.7 172a5 5 0 1 0 10 0a5 5 0 1 0 -10 0zM262.9 171.8a5 5 0 1 0 10 0a5 5 0 1 0 -10 0zM263 172.5a5 5 0 1 0 10 0a5 5 0 1 0 -10 0zM263.2 172.1a5 5 0 1 0 10 0a5 5 0 1 0 -10 0zM263.4 172.2a5 5 0 1 0 10 0a5 5 0 1 0 -10 0zM263.6 172.3a5 5 0 1 0 10 0a5 5 0 1 0 -10 0zM263.8 173a5 5 0 1 0 10 0a5 5 0 1 0 -10 0zM264 172.9a5 5 0 1 0 10 0a5 5 0 1 0 -10 0zM264.2 173a5 5 0 1 0 10 0a5 5 0 1 0 -10 0zM264.4 173a5 5 0 1 0 10 0a5 5 0 1 0 -10 0zM264.6 173.3a5 5 0 1 0 10 0a5 5 0 1 0 -10 0zM264.8 173.3a5 5 0 1 0 10 0a5 5 0 1 0 -10 0zM264.9 173.5a5 5 0 1 0 10 0a5 5 0 1 0 -10 0zM265.1 173.3a5 5 0 1 0 10 0a5 5 0 1 0 -10 0zM265.3 174a5 5 0 1 0 10 0a5 5 0 1 0 -10 0zM265.5 174.1a5 5 0 1 0 10 0a5 5 0 1 0 -10 0zM265.7 174.6a5 5 0 1 0 10 0a5 5 0 1 0 -10 0zM265.9 174.2a5 5 0 1 0 10 0a5 5 0 1 0 -10 0zM266.1 174a5 5 0 1 0 10 0a5 5 0 1 0 -10 0zM266.2 174.1a5 5 0 1 0 10 0a5 5 0 1 0 -10 0zM266.4 174.2a5 5 0 1 0 10 0a5 5 0 1 0 -10 0zM266.6 174.4a5 5 0 1 0 10 0a5 5 0 1 0 -10 0zM266.8 174.5a5 5 0 1 0 10 0a5 5 0 1 0 -10 0zM267 175a5 5 0 1 0 10 0a5 5 0 1 0 -10 0zM267.1 175.6a5 5 0 1 0 10 0a5 5 0 1 0 -10 0zM267.3 174.8a5 5 0 1 0 10 0a5 5 0 1 0 -10 0zM267.5 175.3a5 5 0 1 0 10 0a5 5 0 1 0 -10 0zM267.7 175.1a5 5 0 1 0 10 0a5 5 0 1 0 -10 0zM267.9 175.3a5 5 0 1 0 10 0a5 5 0 1 0 -10 0zM268 175.7a5 5 0 1 0 10 0a5 5 0 1 0 -10 0zM268.2 175.7a5 5 0 1 0 10 0a5 5 0 1 0 -10 0zM268.4 175.9a5 5 0 1 0 10 0a5 5 0 1 0 -10 0zM268.6 175.8a5 5 0 1 0 10 0a5 5 0 1 0 -10 0zM268.7 176.1a5 5 0 1 0 10 0a5 5 0 1 0 -10 0zM268.9 176.8a5 5 0 1 0 10 0a5 5 0 1 0 -10 0zM269.1 177.1a5 5 0 1 0 10 0a5 5 0 1 0 -10 0zM269.2 176.8a5 5 0 1 0 10 0a5 5 0 1 0 -10 0zM269.4 176.4a5 5 0 1 0 10 0a5 5 0 1 0 -10 0zM269.6 177.6a5 5 0 1 0 10 0a5 5 0 1 0 -10 0zM269.8 176.9a5 5 0 1 0 10 0a5 5 0 1 0 -10 0zM269.9 176.7a5 5 0 1 0 10 0a5 5 0 1 0 -10 0zM270.1 176.8a5 5 0 1 0 10 0a5 5 0 1 0 -10 0zM270.3 177.1a5 5 0 1 0 10 0a5 5 0 1 0 -10 0zM270.4 177.1a5 5 0 1 0 10 0a5 5 0 1 0 -10 0zM270.6 177.3a5 5 0 1 0 10 0a5 5 0 1 0 -10 0zM270.8 177.5a5 5 0 1 0 10 0a5 5 0 1 0 -10 0zM270.9 177.5a5 5 0 1 0 10 0a5 5 0 1 0 -10 0zM271.1 177.6a5 5 0 1 0 10 0a5 5 0 1 0 -10 0zM271.3 178.1a5 5 0 1 0 10 0a5 5 0 1 0 -10 0zM271.4 177.7a5 5 0 1 0 10 0a5 5 0 1 0 -10 0zM271.6 178.2a5 5 0 1 0 10 0a5 5 0 1 0 -10 0zM271.8 177.9a5 5 0 1 0 10 0a5 5 0 1 0 -10 0zM271.9 178.5a5 5 0 1 0 10 0a5 5 0 1 0 -10 0zM272.1 178.2a5 5 0 1 0 10 0a5 5 0 1 0 -10 0zM272.3 178.4a5 5 0 1 0 10 0a5 5 0 1 0 -10 0zM272.4 178.4a5 5 0 1 0 10 0a5 5 0 1 0 -10 0zM272.6 178.4a5 5 0 1 0 10 0a5 5 0 1 0 -10 0zM272.7 178.5a5 5 0 1 0 10 0a5 5 0 1 0 -10 0zM272.9 178.7a5 5 0 1 0 10 0a5 5 0 1 0 -10 0zM273.1 179.1a5 5 0 1 0 10 0a5 5 0 1 0 -10 0zM273.2 179.3a5 5 0 1 0 10 0a5 5 0 1 0 -10 0zM273.4 179.6a5 5 0 1 0 10 0a5 5 0 1 0 -10 0zM273.5 179a5 5 0 1 0 10 0a5 5 0 1 0 -10 0zM273.7 179.5a5 5 0 1 0 10 0a5 5 0 1 0 -10 0zM273.9 179.4a5 5 0 1 0 10 0a5 5 0 1 0 -10 0zM274 179.6a5 5 0 1 0 10 0a5 5 0 1 0 -10 0zM274.2 179.4a5 5 0 1 0 10 0a5 5 0 1 0 -10 0zM274.3 179.8a5 5 0 1 0 10 0a5 5 0 1 0 -10 0zM274.5 180.2a5 5 0 1 0 10 0a5 5 0 1 0 -10 0zM274.6 180.1a5 5 0 1 0 10 0a5 5 0 1 0 -10 0zM274.8 180.9a5 5 0 1 0 10 0a5 5 0 1 0 -10 0zM274.9 180.2a5 5 0 1 0 10 0a5 5 0 1 0 -10 0zM275.1 181a5 5 0 1 0 10 0a5 5 0 1 0 -10 0zM275.3 180a5 5 0 1 0 10 0a5 5 0 1 0 -10 0zM275.4 180.7a5 5 0 1 0 10 0a5 5 0 1 0 -10 0zM275.6 180.6a5 5 0 1 0 10 0a5 5 0 1 0 -10 0zM275.7 181a5 5 0 1 0 10 0a5 5 0 1 0 -10 0zM275.9 180.8a5 5 0 1 0 10 0a5 5 0 1 0 -10 0zM276 181.4a5 5 0 1 0 10 0a5 5 0 1 0 -10 0zM276.2 180.7a5 5 0 1 0 10 0a5 5 0 1 0 -10 0zM276.3 180.7a5 5 0 1 0 10 0a5 5 0 1 0 -10 0zM276.5 181.3a5 5 0 1 0 10 0a5 5 0 1 0 -10 0zM276.6 182.2a5 5 0 1 0 10 0a5 5 0 1 0 -10 0zM276.8 181.6a5 5 0 1 0 10 0a5 5 0 1 0 -10 0zM276.9 181.1a5 5 0 1 0 10 0a5 5 0 1 0 -10 0zM277.1 181.3a5 5 0 1 0 10 0a5 5 0 1 0 -10 0zM277.2 181.5a5 5 0 1 0 10 0a5 5 0 1 0 -10 0zM277.4 181.6a5 5 0 1 0 10 0a5 5 0 1 0 -10 0zM277.5 181.9a5 5 0 1 0 10 0a5 5 0 1 0 -10 0zM277.6 181.4a5 5 0 1 0 10 0a5 5 0 1 0 -10 0zM277.8 182a5 5 0 1 0 10 0a5 5 0 1 0 -10 0zM277.9 181.6a5 5 0 1 0 10 0a5 5 0 1 0 -10 0zM278.1 181.7a5 5 0 1 0 10 0a5 5 0 1 0 -10 0zM278.2 183.1a5 5 0 1 0 10 0a5 5 0 1 0 -10 0zM278.4 182.3a5 5 0 1 0 10 0a5 5 0 1 0 -10 0zM278.5 182a5 5 0 1 0 10 0a5 5 0 1 0 -10 0zM278.7 182.1a5 5 0 1 0 10 0a5 5 0 1 0 -10 0zM278.8 182.3a5 5 0 1 0 10 0a5 5 0 1 0 -10 0zM279 182.7a5 5 0 1 0 10 0a5 5 0 1 0 -10 0zM279.1 182.5a5 5 0 1 0 10 0a5 5 0 1 0 -10 0zM279.2 182.8a5 5 0 1 0 10 0a5 5 0 1 0 -10 0zM279.4 183.3a5 5 0 1 0 10 0a5 5 0 1 0 -10 0zM279.5 183a5 5 0 1 0 10 0a5 5 0 1 0 -10 0zM279.7 182.8a5 5 0 1 0 10 0a5 5 0 1 0 -10 0zM279.8 182.6a5 5 0 1 0 10 0a5 5 0 1 0 -10 0zM279.9 183.2a5 5 0 1 0 10 0a5 5 0 1 0 -10 0zM280.1 182.9a5 5 0 1 0 10 0a5 5 0 1 0 -10 0zM280.2 182.8a5 5 0 1 0 10 0a5 5 0 1 0 -10 0zM280.4 183.2a5 5 0 1 0 10 0a5 5 0 1 0 -10 0zM280.5 183.3a5 5 0 1 0 10 0a5 5 0 1 0 -10 0zM280.6 183.1a5 5 0 1 0 10 0a5 5 0 1 0 -10 0zM280.8 184.2a5 5 0 1 0 10 0a5 5 0 1 0 -10 0zM280.9 183.8a5 5 0 1 0 10 0a5 5 0 1 0 -10 0zM281.1 184.2a5 5 0 1 0 10 0a5 5 0 1 0 -10 0zM281.2 184.6a5 5 0 1 0 10 0a5 5 0 1 0 -10 0zM281.3 183.5a5 5 0 1 0 10 0a5 5 0 1 0 -10 0zM281.5 183.5a5 5 0 1 0 10 0a5 5 0 1 0 -10 0zM281.6 183.7a5 5 0 1 0 10 0a5 5 0 1 0 -10 0zM281.7 184a5 5 0 1 0 10 0a5 5 0 1 0 -10 0zM281.9 183.6a5 5 0 1 0 10 0a5 5 0 1 0 -10 0zM282 183.7a5 5 0 1 0 10 0a5 5 0 1 0 -10 0zM282.1 183.8a5 5 0 1 0 10 0a5 5 0 1 0 -10 0zM282.3 185a5 5 0 1 0 10 0a5 5 0 1 0 -10 0zM282.4 184a5 5 0 1 0 10 0a5 5 0 1 0 -10 0zM282.5 184.5a5 5 0 1 0 10 0a5 5 0 1 0 -10 0zM282.7 184.3a5 5 0 1 0 10 0a5 5 0 1 0 -10 0zM282.8 184.2a5 5 0 1 0 10 0a5 5 0 1 0 -10 0zM282.9 184.5a5 5 0 1 0 10 0a5 5 0 1 0 -10 0zM283.1 184.8a5 5 0 1 0 10 0a5 5 0 1 0 -10 0zM283.2 184.6a5 5 0 1 0 10 0a5 5 0 1 0 -10 0zM283.3 184.9a5 5 0 1 0 10 0a5 5 0 1 0 -10 0zM283.5 185.1a5 5 0 1 0 10 0a5 5 0 1 0 -10 0zM283.6 185.2a5 5 0 1 0 10 0a5 5 0 1 0 -10 0zM283.7 185.4a5 5 0 1 0 10 0a5 5 0 1 0 -10 0zM283.9 184.6a5 5 0 1 0 10 0a5 5 0 1 0 -10 0zM284 184.7a5 5 0 1 0 10 0a5 5 0 1 0 -10 0zM284.1 185.2a5 5 0 1 0 10 0a5 5 0 1 0 -10 0zM284.3 185.6a5 5 0 1 0 10 0a5 5 0 1 0 -10 0zM284.4 184.9a5 5 0 1 0 10 0a5 5 0 1 0 -10 0zM284.5 185.2a5 5 0 1 0 10 0a5 5 0 1 0 -10 0zM284.6 185.1a5 5 0 1 0 10 0a5 5 0 1 0 -10 0zM284.8 186.1a5 5 0 1 0 10 0a5 5 0 1 0 -10 0zM284.9 185.6a5 5 0 1 0 10 0a5 5 0 1 0 -10 0zM285 185.1a5 5 0 1 0 10 0a5 5 0 1 0 -10 0zM285.2 185.7a5 5 0 1 0 10 0a5 5 0 1 0 -10 0zM285.3 185.8a5 5 0 1 0 10 0a5 5 0 1 0 -10 0zM285.4 185.3a5 5 0 1 0 10 0a5 5 0 1 0 -10 0zM285.5 185.4a5 5 0 1 0 10 0a5 5 0 1 0 -10 0zM285.7 185.9a5 5 0 1 0 10 0a5 5 0 1 0 -10 0zM285.8 185.6a5 5 0 1 0 10 0a5 5 0 1 0 -10 0zM285.9 185.6a5 5 0 1 0 10 0a5 5 0 1 0 -10 0zM286 185.9a5 5 0 1 0 10 0a5 5 0 1 0 -10 0zM286.2 186.7a5 5 0 1 0 10 0a5 5 0 1 0 -10 0zM286.3 185.6a5 5 0 1 0 10 0a5 5 0 1 0 -10 0zM286.4 186.7a5 5 0 1 0 10 0a5 5 0 1 0 -10 0zM286.5 186.3a5 5 0 1 0 10 0a5 5 0 1 0 -10 0zM286.7 186.7a5 5 0 1 0 10 0a5 5 0 1 0 -10 0zM286.8 186.6a5 5 0 1 0 10 0a5 5 0 1 0 -10 0zM286.9 186.7a5 5 0 1 0 10 0a5 5 0 1 0 -10 0zM287 186a5 5 0 1 0 10 0a5 5 0 1 0 -10 0zM287.1 187a5 5 0 1 0 10 0a5 5 0 1 0 -10 0zM287.3 186.4a5 5 0 1 0 10 0a5 5 0 1 0 -10 0zM287.4 186.9a5 5 0 1 0 10 0a5 5 0 1 0 -10 0zM287.5 186.3a5 5 0 1 0 10 0a5 5 0 1 0 -10 0zM287.6 186.6a5 5 0 1 0 10 0a5 5 0 1 0 -10 0zM287.8 186.4a5 5 0 1 0 10 0a5 5 0 1 0 -10 0zM287.9 186.4a5 5 0 1 0 10 0a5 5 0 1 0 -10 0zM288 186.7a5 5 0 1 0 10 0a5 5 0 1 0 -10 0zM288.1 187.1a5 5 0 1 0 10 0a5 5 0 1 0 -10 0zM288.2 187.2a5 5 0 1 0 10 0a5 5 0 1 0 -10 0zM288.4 187.2a5 5 0 1 0 10 0a5 5 0 1 0 -10 0zM288.5 187.4a5 5 0 1 0 10 0a5 5 0 1 0 -10 0zM288.6 186.9a5 5 0 1 0 10 0a5 5 0 1 0 -10 0zM288.7 187.6a5 5 0 1 0 10 0a5 5 0 1 0 -10 0zM288.8 186.6a5 5 0 1 0 10 0a5 5 0 1 0 -10 0zM289 186.8a5 5 0 1 0 10 0a5 5 0 1 0 -10 0zM289.1 186.9a5 5 0 1 0 10 0a5 5 0 1 0 -10 0zM289.2 187.4a5 5 0 1 0 10 0a5 5 0 1 0 -10 0zM289.3 187a5 5 0 1 0 10 0a5 5 0 1 0 -10 0zM289.4 187.5a5 5 0 1 0 10 0a5 5 0 1 0 -10 0zM289.5 187.9a5 5 0 1 0 10 0a5 5 0 1 0 -10 0zM289.7 187.3a5 5 0 1 0 10 0a5 5 0 1 0 -10 0zM289.8 187.1a5 5 0 1 0 10 0a5 5 0 1 0 -10 0zM289.9 187.6a5 5 0 1 0 10 0a5 5 0 1 0 -10 0zM290 187.8a5 5 0 1 0 10 0a5 5 0 1 0 -10 0zM290.1 187.3a5 5 0 1 0 10 0a5 5 0 1 0 -10 0zM290.2 188.9a5 5 0 1 0 10 0a5 5 0 1 0 -10 0zM290.4 187.6a5 5 0 1 0 10 0a5 5 0 1 0 -10 0zM290.5 187.5a5 5 0 1 0 10 0a5 5 0 1 0 -10 0zM290.6 187.9a5 5 0 1 0 10 0a5 5 0 1 0 -10 0zM290.7 187.4a5 5 0 1 0 10 0a5 5 0 1 0 -10 0zM290.8 188.2a5 5 0 1 0 10 0a5 5 0 1 0 -10 0zM290.9 187.6a5 5 0 1 0 10 0a5 5 0 1 0 -10 0zM291 188.2a5 5 0 1 0 10 0a5 5 0 1 0 -10 0zM291.2 188.9a5 5 0 1 0 10 0a5 5 0 1 0 -10 0zM291.3 187.7a5 5 0 1 0 10 0a5 5 0 1 0 -10 0zM291.4 188.4a5 5 0 1 0 10 0a5 5 0 1 0 -10 0zM291.5 187.6a5 5 0 1 0 10 0a5 5 0 1 0 -10 0zM291.6 187.8a5 5 0 1 0 10 0a5 5 0 1 0 -10 0zM291.7 188.1a5 5 0 1 0 10 0a5 5 0 1 0 -10 0zM291.8 188.2a5 5 0 1 0 10 0a5 5 0 1 0 -10 0zM291.9 188a5 5 0 1 0 10 0a5 5 0 1 0 -10 0zM292.1 188.4a5 5 0 1 0 10 0a5 5 0 1 0 -10 0zM292.2 187.8a5 5 0 1 0 10 0a5 5 0 1 0 -10 0zM292.3 188.3a5 5 0 1 0 10 0a5 5 0 1 0 -10 0zM292.4 188.2a5 5 0 1 0 10 0a5 5 0 1 0 -10 0zM292.5 188a5 5 0 1 0 10 0a5 5 0 1 0 -10 0zM292.6 187.9a5 5 0 1 0 10 0a5 5 0 1 0 -10 0zM292.7 190.1a5 5 0 1 0 10 0a5 5 0 1 0 -10 0zM292.8 188.4a5 5 0 1 0 10 0a5 5 0 1 0 -10 0zM292.9 189a5 5 0 1 0 10 0a5 5 0 1 0 -10 0zM293 188a5 5 0 1 0 10 0a5 5 0 1 0 -10 0zM293.2 188.1a5 5 0 1 0 10 0a5 5 0 1 0 -10 0zM293.3 188.6a5 5 0 1 0 10 0a5 5 0 1 0 -10 0zM293.4 188.8a5 5 0 1 0 10 0a5 5 0 1 0 -10 0zM293.5 189.1a5 5 0 1 0 10 0a5 5 0 1 0 -10 0zM293.6 188.4a5 5 0 1 0 10 0a5 5 0 1 0 -10 0zM293.7 188.6a5 5 0 1 0 10 0a5 5 0 1 0 -10 0zM293.8 188.6a5 5 0 1 0 10 0a5 5 0 1 0 -10 0zM293.9 188.6a5 5 0 1 0 10 0a5 5 0 1 0 -10 0zM294 188.7a5 5 0 1 0 10 0a5 5 0 1 0 -10 0zM294.1 189.4a5 5 0 1 0 10 0a5 5 0 1 0 -10 0zM294.2 188.6a5 5 0 1 0 10 0a5 5 0 1 0 -10 0zM294.3 189.2a5 5 0 1 0 10 0a5 5 0 1 0 -10 0zM294.5 189.6a5 5 0 1 0 10 0a5 5 0 1 0 -10 0zM294.6 188.5a5 5 0 1 0 10 0a5 5 0 1 0 -10 0zM294.7 189.6a5 5 0 1 0 10 0a5 5 0 1 0 -10 0zM294.8 189.4a5 5 0 1 0 10 0a5 5 0 1 0 -10 0zM294.9 189.6a5 5 0 1 0 10 0a5 5 0 1 0 -10 0zM295 189.8a5 5 0 1 0 10 0a5 5 0 1 0 -10 0zM295.1 189.2a5 5 0 1 0 10 0a5 5 0 1 0 -10 0zM295.2 189.6a5 5 0 1 0 10 0a5 5 0 1 0 -10 0zM295.3 189.1a5 5 0 1 0 10 0a5 5 0 1 0 -10 0zM295.4 190a5 5 0 1 0 10 0a5 5 0 1 0 -10 0zM295.5 189.5a5 5 0 1 0 10 0a5 5 0 1 0 -10 0zM295.6 188.7a5 5 0 1 0 10 0a5 5 0 1 0 -10 0zM295.7 188.8a5 5 0 1 0 10 0a5 5 0 1 0 -10 0zM295.8 188.8a5 5 0 1 0 10 0a5 5 0 1 0 -10 0zM295.9 188.9a5 5 0 1 0 10 0a5 5 0 1 0 -10 0zM296 189.2a5 5 0 1 0 10 0a5 5 0 1 0 -10 0zM296.1 188.8a5 5 0 1 0 10 0a5 5 0 1 0 -10 0zM296.2 190.2a5 5 0 1 0 10 0a5 5 0 1 0 -10 0zM296.3 190.3a5 5 0 1 0 10 0a5 5 0 1 0 -10 0zM296.4 189.1a5 5 0 1 0 10 0a5 5 0 1 0 -10 0zM296.5 189.7a5 5 0 1 0 10 0a5 5 0 1 0 -10 0zM296.6 189.1a5 5 0 1 0 10 0a5 5 0 1 0 -10 0zM296.7 189.6a5 5 0 1 0 10 0a5 5 0 1 0 -10 0zM296.8 189a5 5 0 1 0 10 0a5 5 0 1 0 -10 0zM296.9 189.6a5 5 0 1 0 10 0a5 5 0 1 0 -10 0zM297.1 190.4a5 5 0 1 0 10 0a5 5 0 1 0 -10 0zM297.2 190a5 5 0 1 0 10 0a5 5 0 1 0 -10 0zM297.3 189.6a5 5 0 1 0 10 0a5 5 0 1 0 -10 0zM297.4 189.6a5 5 0 1 0 10 0a5 5 0 1 0 -10 0zM297.5 189.2a5 5 0 1 0 10 0a5 5 0 1 0 -10 0zM297.6 191.4a5 5 0 1 0 10 0a5 5 0 1 0 -10 0zM297.7 189.8a5 5 0 1 0 10 0a5 5 0 1 0 -10 0zM297.8 189.4a5 5 0 1 0 10 0a5 5 0 1 0 -10 0zM297.9 190.6a5 5 0 1 0 10 0a5 5 0 1 0 -10 0zM298 189.5a5 5 0 1 0 10 0a5 5 0 1 0 -10 0zM298.1 189.5a5 5 0 1 0 10 0a5 5 0 1 0 -10 0zM298.2 190.5a5 5 0 1 0 10 0a5 5 0 1 0 -10 0zM298.3 190.5a5 5 0 1 0 10 0a5 5 0 1 0 -10 0zM298.4 190.9a5 5 0 1 0 10 0a5 5 0 1 0 -10 0zM298.5 189.3a5 5 0 1 0 10 0a5 5 0 1 0 -10 0zM298.6 189.5a5 5 0 1 0 10 0a5 5 0 1 0 -10 0zM298.6 190.8a5 5 0 1 0 10 0a5 5 0 1 0 -10 0zM298.7 190.2a5 5 0 1 0 10 0a5 5 0 1 0 -10 0zM298.8 191.8a5 5 0 1 0 10 0a5 5 0 1 0 -10 0zM298.9 190.1a5 5 0 1 0 10 0a5 5 0 1 0 -10 0zM299 190.6a5 5 0 1 0 10 0a5 5 0 1 0 -10 0zM299.1 189.9a5 5 0 1 0 10 0a5 5 0 1 0 -10 0zM299.2 190.4a5 5 0 1 0 10 0a5 5 0 1 0 -10 0zM299.3 190.7a5 5 0 1 0 10 0a5 5 0 1 0 -10 0zM299.4 190.6a5 5 0 1 0 10 0a5 5 0 1 0 -10 0zM299.5 189.7a5 5 0 1 0 10 0a5 5 0 1 0 -10 0zM299.6 189.8a5 5 0 1 0 10 0a5 5 0 1 0 -10 0zM299.7 190.4a5 5 0 1 0 10 0a5 5 0 1 0 -10 0zM299.8 190a5 5 0 1 0 10 0a5 5 0 1 0 -10 0zM299.9 190a5 5 0 1 0 10 0a5 5 0 1 0 -10 0zM300 190.3a5 5 0 1 0 10 0a5 5 0 1 0 -10 0zM300.1 190.8a5 5 0 1 0 10 0a5 5 0 1 0 -10 0zM300.2 189.7a5 5 0 1 0 10 0a5 5 0 1 0 -10 0zM300.3 190.3a5 5 0 1 0 10 0a5 5 0 1 0 -10 0zM300.4 190.9a5 5 0 1 0 10 0a5 5 0 1 0 -10 0zM300.5 190.9a5 5 0 1 0 10 0a5 5 0 1 0 -10 0zM300.6 190.2a5 5 0 1 0 10 0a5 5 0 1 0 -10 0zM300.7 191.5a5 5 0 1 0 10 0a5 5 0 1 0 -10 0zM300.8 191a5 5 0 1 0 10 0a5 5 0 1 0 -10 0zM300.9 191.3a5 5 0 1 0 10 0a5 5 0 1 0 -10 0zM301 190a5 5 0 1 0 10 0a5 5 0 1 0 -10 0zM301.1 190.2a5 5 0 1 0 10 0a5 5 0 1 0 -10 0zM301.1 191.7a5 5 0 1 0 10 0a5 5 0 1 0 -10 0zM301.2 191.3a5 5 0 1 0 10 0a5 5 0 1 0 -10 0zM301.3 190.5a5 5 0 1 0 10 0a5 5 0 1 0 -10 0zM301.4 190.8a5 5 0 1 0 10 0a5 5 0 1 0 -10 0zM301.5 190.1a5 5 0 1 0 10 0a5 5 0 1 0 -10 0zM301.6 190.2a5 5 0 1 0 10 0a5 5 0 1 0 -10 0zM301.7 191.6a5 5 0 1 0 10 0a5 5 0 1 0 -10 0zM301.8 190.3a5 5 0 1 0 10 0a5 5 0 1 0 -10 0zM301.9 191.1a5 5 0 1 0 10 0a5 5 0 1 0 -10 0zM302 191.3a5 5 0 1 0 10 0a5 5 0 1 0 -10 0zM302.1 190.3a5 5 0 1 0 10 0a5 5 0 1 0 -10 0zM302.2 190.3a5 5 0 1 0 10 0a5 5 0 1 0 -10 0zM302.3 191.4a5 5 0 1 0 10 0a5 5 0 1 0 -10 0zM302.4 191a5 5 0 1 0 10 0a5 5 0 1 0 -10 0zM302.4 190.6a5 5 0 1 0 10 0a5 5 0 1 0 -10 0zM302.5 190.6a5 5 0 1 0 10 0a5 5 0 1 0 -10 0zM302.6 190.7a5 5 0 1 0 10 0a5 5 0 1 0 -10 0zM302.7 190.7a5 5 0 1 0 10 0a5 5 0 1 0 -10 0zM302.8 190.7a5 5 0 1 0 10 0a5 5 0 1 0 -10 0zM302.9 191.9a5 5 0 1 0 10 0a5 5 0 1 0 -10 0zM303 190.5a5 5 0 1 0 10 0a5 5 0 1 0 -10 0zM303.1 190.6a5 5 0 1 0 10 0a5 5 0 1 0 -10 0zM303.2 190.8a5 5 0 1 0 10 0a5 5 0 1 0 -10 0zM303.3 192.3a5 5 0 1 0 10 0a5 5 0 1 0 -10 0zM303.4 190.5a5 5 0 1 0 10 0a5 5 0 1 0 -10 0zM303.4 191a5 5 0 1 0 10 0a5 5 0 1 0 -10 0zM303.5 191.8a5 5 0 1 0 10 0a5 5 0 1 0 -10 0zM303.6 192.4a5 5 0 1 0 10 0a5 5 0 1 0 -10 0zM303.7 192.9a5 5 0 1 0 10 0a5 5 0 1 0 -10 0zM303.8 191.4a5 5 0 1 0 10 0a5 5 0 1 0 -10 0zM303.9 191.3a5 5 0 1 0 10 0a5 5 0 1 0 -10 0zM304 191.5a5 5 0 1 0 10 0a5 5 0 1 0 -10 0zM304.1 191.3a5 5 0 1 0 10 0a5 5 0 1 0 -10 0zM304.2 190.5a5 5 0 1 0 10 0a5 5 0 1 0 -10 0zM304.2 191.5a5 5 0 1 0 10 0a5 5 0 1 0 -10 0zM304.3 191a5 5 0 1 0 10 0a5 5 0 1 0 -10 0zM304.4 191.1a5 5 0 1 0 10 0a5 5 0 1 0 -10 0zM304.5 192.9a5 5 0 1 0 10 0a5 5 0 1 0 -10 0zM304.6 193.2a5 5 0 1 0 10 0a5 5 0 1 0 -10 0zM304.7 191.1a5 5 0 1 0 10 0a5 5 0 1 0 -10 0zM304.8 192.3a5 5 0 1 0 10 0a5 5 0 1 0 -10 0zM304.9 191.4a5 5 0 1 0 10 0a5 5 0 1 0 -10 0zM305 191.9a5 5 0 1 0 10 0a5 5 0 1 0 -10 0zM305 192.1a5 5 0 1 0 10 0a5 5 0 1 0 -10 0zM305.1 192.1a5 5 0 1 0 10 0a5 5 0 1 0 -10 0zM305.2 190.5a5 5 0 1 0 10 0a5 5 0 1 0 -10 0zM305.3 191.7a5 5 0 1 0 10 0a5 5 0 1 0 -10 0zM305.4 190.7a5 5 0 1 0 10 0a5 5 0 1 0 -10 0zM305.5 192.8a5 5 0 1 0 10 0a5 5 0 1 0 -10 0zM305.6 192.3a5 5 0 1 0 10 0a5 5 0 1 0 -10 0zM305.6 190.7a5 5 0 1 0 10 0a5 5 0 1 0 -10 0zM305.7 191.6a5 5 0 1 0 10 0a5 5 0 1 0 -10 0zM305.8 190.8a5 5 0 1 0 10 0a5 5 0 1 0 -10 0zM305.9 190.7a5 5 0 1 0 10 0a5 5 0 1 0 -10 0zM306 192.6a5 5 0 1 0 10 0a5 5 0 1 0 -10 0zM306.1 191.9a5 5 0 1 0 10 0a5 5 0 1 0 -10 0zM306.2 190.7a5 5 0 1 0 10 0a5 5 0 1 0 -10 0zM306.2 191.9a5 5 0 1 0 10 0a5 5 0 1 0 -10 0zM306.3 191.5a5 5 0 1 0 10 0a5 5 0 1 0 -10 0zM306.4 191a5 5 0 1 0 10 0a5 5 0 1 0 -10 0zM306.5 191.6a5 5 0 1 0 10 0a5 5 0 1 0 -10 0zM306.6 192a5 5 0 1 0 10 0a5 5 0 1 0 -10 0zM306.7 191a5 5 0 1 0 10 0a5 5 0 1 0 -10 0zM306.8 192.1a5 5 0 1 0 10 0a5 5 0 1 0 -10 0zM306.8 190.9a5 5 0 1 0 10 0a5 5 0 1 0 -10 0zM306.9 192.4a5 5 0 1 0 10 0a5 5 0 1 0 -10 0zM307 191.5a5 5 0 1 0 10 0a5 5 0 1 0 -10 0zM307.1 191a5 5 0 1 0 10 0a5 5 0 1 0 -10 0zM307.2 191.7a5 5 0 1 0 10 0a5 5 0 1 0 -10 0zM307.3 192a5 5 0 1 0 10 0a5 5 0 1 0 -10 0zM307.3 192.1a5 5 0 1 0 10 0a5 5 0 1 0 -10 0zM307.4 192.3a5 5 0 1 0 10 0a5 5 0 1 0 -10 0zM307.5 193.2a5 5 0 1 0 10 0a5 5 0 1 0 -10 0zM307.6 191.3a5 5 0 1 0 10 0a5 5 0 1 0 -10 0zM307.7 191.6a5 5 0 1 0 10 0a5 5 0 1 0 -10 0zM307.8 191.6a5 5 0 1 0 10 0a5 5 0 1 0 -10 0zM307.8 191.2a5 5 0 1 0 10 0a5 5 0 1 0 -10 0zM307.9 191.7a5 5 0 1 0 10 0a5 5 0 1 0 -10 0zM308 191.2a5 5 0 1 0 10 0a5 5 0 1 0 -10 0zM308.1 191.2a5 5 0 1 0 10 0a5 5 0 1 0 -10 0zM308.2 191.5a5 5 0 1 0 10 0a5 5 0 1 0 -10 0zM308.3 191.5a5 5 0 1 0 10 0a5 5 0 1 0 -10 0zM308.3 191.4a5 5 0 1 0 10 0a5 5 0 1 0 -10 0zM308.4 192.7a5 5 0 1 0 10 0a5 5 0 1 0 -10 0zM308.5 191.4a5 5 0 1 0 10 0a5 5 0 1 0 -10 0zM308.6 192.4a5 5 0 1 0 10 0a5 5 0 1 0 -10 0zM308.7 191.1a5 5 0 1 0 10 0a5 5 0 1 0 -10 0zM308.7 192a5 5 0 1 0 10 0a5 5 0 1 0 -10 0zM308.8 191.1a5 5 0 1 0 10 0a5 5 0 1 0 -10 0zM308.9 191.5a5 5 0 1 0 10 0a5 5 0 1 0 -10 0zM309 192.4a5 5 0 1 0 10 0a5 5 0 1 0 -10 0zM309.1 191.9a5 5 0 1 0 10 0a5 5 0 1 0 -10 0zM309.1 192a5 5 0 1 0 10 0a5 5 0 1 0 -10 0zM309.2 191.8a5 5 0 1 0 10 0a5 5 0 1 0 -10 0zM309.3 192.8a5 5 0 1 0 10 0a5 5 0 1 0 -10 0zM309.4 191.9a5 5 0 1 0 10 0a5 5 0 1 0 -10 0zM309.5 191.4a5 5 0 1 0 10 0a5 5 0 1 0 -10 0zM309.5 192.6a5 5 0 1 0 10 0a5 5 0 1 0 -10 0zM309.6 192.6a5 5 0 1 0 10 0a5 5 0 1 0 -10 0zM309.7 192.6a5 5 0 1 0 10 0a5 5 0 1 0 -10 0zM309.8 191.8a5 5 0 1 0 10 0a5 5 0 1 0 -10 0zM309.9 193.9a5 5 0 1 0 10 0a5 5 0 1 0 -10 0zM309.9 193.8a5 5 0 1 0 10 0a5 5 0 1 0 -10 0zM310 192.7a5 5 0 1 0 10 0a5 5 0 1 0 -10 0zM310.1 192.2a5 5 0 1 0 10 0a5 5 0 1 0 -10 0zM310.2 191.3a5 5 0 1 0 10 0a5 5 0 1 0 -10 0zM310.3 191.4a5 5 0 1 0 10 0a5 5 0 1 0 -10 0zM310.3 191.3a5 5 0 1 0 10 0a5 5 0 1 0 -10 0zM310.4 192.7a5 5 0 1 0 10 0a5 5 0 1 0 -10 0zM310.5 191.9a5 5 0 1 0 10 0a5 5 0 1 0 -10 0zM310.6 191.7a5 5 0 1 0 10 0a5 5 0 1 0 -10 0zM310.7 191.4a5 5 0 1 0 10 0a5 5 0 1 0 -10 0zM310.7 192.4a5 5 0 1 0 10 0a5 5 0 1 0 -10 0zM310.8 191.3a5 5 0 1 0 10 0a5 5 0 1 0 -10 0zM310.9 193.6a5 5 0 1 0 10 0a5 5 0 1 0 -10 0zM311 192a5 5 0 1 0 10 0a5 5 0 1 0 -10 0zM311 191.5a5 5 0 1 0 10 0a5 5 0 1 0 -10 0zM311.1 193.2a5 5 0 1 0 10 0a5 5 0 1 0 -10 0zM311.2 192.5a5 5 0 1 0 10 0a5 5 0 1 0 -10 0zM311.3 192.6a5 5 0 1 0 10 0a5 5 0 1 0 -10 0zM311.4 192.2a5 5 0 1 0 10 0a5 5 0 1 0 -10 0zM311.4 191.8a5 5 0 1 0 10 0a5 5 0 1 0 -10 0zM311.5 191.4a5 5 0 1 0 10 0a5 5 0 1 0 -10 0zM311.6 192.4a5 5 0 1 0 10 0a5 5 0 1 0 -10 0zM311.7 191.7a5 5 0 1 0 10 0a5 5 0 1 0 -10 0zM311.7 191.8a5 5 0 1 0 10 0a5 5 0 1 0 -10 0zM311.8 191.8a5 5 0 1 0 10 0a5 5 0 1 0 -10 0zM311.9 192.1a5 5 0 1 0 10 0a5 5 0 1 0 -10 0zM312 192a5 5 0 1 0 10 0a5 5 0 1 0 -10 0zM312 191.9a5 5 0 1 0 10 0a5 5 0 1 0 -10 0zM312.1 192.3a5 5 0 1 0 10 0a5 5 0 1 0 -10 0zM312.2 191.7a5 5 0 1 0 10 0a5 5 0 1 0 -10 0zM312.3 191.5a5 5 0 1 0 10 0a5 5 0 1 0 -10 0zM312.4 192.4a5 5 0 1 0 10 0a5 5 0 1 0 -10 0zM312.4 194.1a5 5 0 1 0 10 0a5 5 0 1 0 -10 0zM312.5 192.2a5 5 0 1 0 10 0a5 5 0 1 0 -10 0zM312.6 191.4a5 5 0 1 0 10 0a5 5 0 1 0 -10 0zM312.7 191.6a5 5 0 1 0 10 0a5 5 0 1 0 -10 0zM312.7 192.3a5 5 0 1 0 10 0a5 5 0 1 0 -10 0zM312.8 192.3a5 5 0 1 0 10 0a5 5 0 1 0 -10 0zM312.9 192.4a5 5 0 1 0 10 0a5 5 0 1 0 -10 0zM313 191.8a5 5 0 1 0 10 0a5 5 0 1 0 -10 0zM313 191.9a5 5 0 1 0 10 0a5 5 0 1 0 -10 0zM313.1 192.2a5 5 0 1 0 10 0a5 5 0 1 0 -10 0zM313.2 191.9a5 5 0 1 0 10 0a5 5 0 1 0 -10 0zM313.3 191.7a5 5 0 1 0 10 0a5 5 0 1 0 -10 0zM313.3 192.7a5 5 0 1 0 10 0a5 5 0 1 0 -10 0zM313.4 193.1a5 5 0 1 0 10 0a5 5 0 1 0 -10 0zM313.5 192a5 5 0 1 0 10 0a5 5 0 1 0 -10 0zM313.6 193.3a5 5 0 1 0 10 0a5 5 0 1 0 -10 0zM313.6 192.3a5 5 0 1 0 10 0a5 5 0 1 0 -10 0zM313.7 193a5 5 0 1 0 10 0a5 5 0 1 0 -10 0zM313.8 191.8a5 5 0 1 0 10 0a5 5 0 1 0 -10 0zM313.8 192.2a5 5 0 1 0 10 0a5 5 0 1 0 -10 0zM313.9 194.2a5 5 0 1 0 10 0a5 5 0 1 0 -10 0zM314 192.8a5 5 0 1 0 10 0a5 5 0 1 0 -10 0zM314.1 192.7a5 5 0 1 0 10 0a5 5 0 1 0 -10 0zM314.1 193.3a5 5 0 1 0 10 0a5 5 0 1 0 -10 0zM314.2 192a5 5 0 1 0 10 0a5 5 0 1 0 -10 0zM314.3 192.3a5 5 0 1 0 10 0a5 5 0 1 0 -10 0zM314.4 192.9a5 5 0 1 0 10 0a5 5 0 1 0 -10 0zM314.4 192.2a5 5 0 1 0 10 0a5 5 0 1 0 -10 0zM314.5 192a5 5 0 1 0 10 0a5 5 0 1 0 -10 0zM314.6 192.5a5 5 0 1 0 10 0a5 5 0 1 0 -10 0zM314.7 192.3a5 5 0 1 0 10 0a5 5 0 1 0 -10 0zM314.7 192.2a5 5 0 1 0 10 0a5 5 0 1 0 -10 0zM314.8 191.8a5 5 0 1 0 10 0a5 5 0 1 0 -10 0zM314.9 191.8a5 5 0 1 0 10 0a5 5 0 1 0 -10 0zM314.9 192.1a5 5 0 1 0 10 0a5 5 0 1 0 -10 0zM315 193.1a5 5 0 1 0 10 0a5 5 0 1 0 -10 0zM315.1 193.7a5 5 0 1 0 10 0a5 5 0 1 0 -10 0zM315.2 192.8a5 5 0 1 0 10 0a5 5 0 1 0 -10 0zM315.2 192.4a5 5 0 1 0 10 0a5 5 0 1 0 -10 0zM315.3 192a5 5 0 1 0 10 0a5 5 0 1 0 -10 0zM315.4 191.7a5 5 0 1 0 10 0a5 5 0 1 0 -10 0zM315.4 192.2a5 5 0 1 0 10 0a5 5 0 1 0 -10 0zM315.5 192.1a5 5 0 1 0 10 0a5 5 0 1 0 -10 0zM315.6 193.4a5 5 0 1 0 10 0a5 5 0 1 0 -10 0zM315.7 192.4a5 5 0 1 0 10 0a5 5 0 1 0 -10 0zM315.7 194.7a5 5 0 1 0 10 0a5 5 0 1 0 -10 0zM315.8 193.6a5 5 0 1 0 10 0a5 5 0 1 0 -10 0zM315.9 192.7a5 5 0 1 0 10 0a5 5 0 1 0 -10 0zM315.9 192.1a5 5 0 1 0 10 0a5 5 0 1 0 -10 0zM316 191.8a5 5 0 1 0 10 0a5 5 0 1 0 -10 0zM316.1 193.1a5 5 0 1 0 10 0a5 5 0 1 0 -10 0zM316.2 192.9a5 5 0 1 0 10 0a5 5 0 1 0 -10 0zM316.2 191.9a5 5 0 1 0 10 0a5 5 0 1 0 -10 0zM316.3 193.2a5 5 0 1 0 10 0a5 5 0 1 0 -10 0zM316.4 191.9a5 5 0 1 0 10 0a5 5 0 1 0 -10 0zM316.4 192.2a5 5 0 1 0 10 0a5 5 0 1 0 -10 0zM316.5 191.9a5 5 0 1 0 10 0a5 5 0 1 0 -10 0zM316.6 192.2a5 5 0 1 0 10 0a5 5 0 1 0 -10 0zM316.7 193.3a5 5 0 1 0 10 0a5 5 0 1 0 -10 0zM316.7 192.7a5 5 0 1 0 10 0a5 5 0 1 0 -10 0zM316.8 192.7a5 5 0 1 0 10 0a5 5 0 1 0 -10 0zM316.9 193a5 5 0 1 0 10 0a5 5 0 1 0 -10 0zM316.9 192.5a5 5 0 1 0 10 0a5 5 0 1 0 -10 0zM317 191.9a5 5 0 1 0 10 0a5 5 0 1 0 -10 0zM317.1 194.4a5 5 0 1 0 10 0a5 5 0 1 0 -10 0zM317.1 191.8a5 5 0 1 0 10 0a5 5 0 1 0 -10 0zM317.2 192.9a5 5 0 1 0 10 0a5 5 0 1 0 -10 0zM317.3 192.2a5 5 0 1 0 10 0a5 5 0 1 0 -10 0zM317.3 193.4a5 5 0 1 0 10 0a5 5 0 1 0 -10 0zM317.4 192.9a5 5 0 1 0 10 0a5 5 0 1 0 -10 0zM317.5 192.9a5 5 0 1 0 10 0a5 5 0 1 0 -10 0zM317.6 193.3a5 5 0 1 0 10 0a5 5 0 1 0 -10 0zM317.6 191.9a5 5 0 1 0 10 0a5 5 0 1 0 -10 0zM317.7 193.4a5 5 0 1 0 10 0a5 5 0 1 0 -10 0zM317.8 192.2a5 5 0 1 0 10 0a5 5 0 1 0 -10 0zM317.8 192.7a5 5 0 1 0 10 0a5 5 0 1 0 -10 0zM317.9 191.9a5 5 0 1 0 10 0a5 5 0 1 0 -10 0zM318 193.1a5 5 0 1 0 10 0a5 5 0 1 0 -10 0zM318 192.8a5 5 0 1 0 10 0a5 5 0 1 0 -10 0zM318.1 191.8a5 5 0 1 0 10 0a5 5 0 1 0 -10 0zM318.2 191.9a5 5 0 1 0 10 0a5 5 0 1 0 -10 0zM318.2 192a5 5 0 1 0 10 0a5 5 0 1 0 -10 0zM318.3 192.5a5 5 0 1 0 10 0a5 5 0 1 0 -10 0zM318.4 193.8a5 5 0 1 0 10 0a5 5 0 1 0 -10 0zM318.4 191.9a5 5 0 1 0 10 0a5 5 0 1 0 -10 0zM318.5 193a5 5 0 1 0 10 0a5 5 0 1 0 -10 0zM318.6 192.4a5 5 0 1 0 10 0a5 5 0 1 0 -10 0zM318.6 192.6a5 5 0 1 0 10 0a5 5 0 1 0 -10 0zM318.7 192.5a5 5 0 1 0 10 0a5 5 0 1 0 -10 0zM318.8 192a5 5 0 1 0 10 0a5 5 0 1 0 -10 0zM318.8 192.6a5 5 0 1 0 10 0a5 5 0 1 0 -10 0zM318.9 191.9a5 5 0 1 0 10 0a5 5 0 1 0 -10 0zM319 193.6a5 5 0 1 0 10 0a5 5 0 1 0 -10 0zM319 193.2a5 5 0 1 0 10 0a5 5 0 1 0 -10 0zM319.1 192.7a5 5 0 1 0 10 0a5 5 0 1 0 -10 0zM319.2 192.4a5 5 0 1 0 10 0a5 5 0 1 0 -10 0zM319.2 192.3a5 5 0 1 0 10 0a5 5 0 1 0 -10 0zM319.3 193.2a5 5 0 1 0 10 0a5 5 0 1 0 -10 0zM319.4 192.6a5 5 0 1 0 10 0a5 5 0 1 0 -10 0zM319.4 191.9a5 5 0 1 0 10 0a5 5 0 1 0 -10 0zM319.5 194.1a5 5 0 1 0 10 0a5 5 0 1 0 -10 0zM319.6 192.6a5 5 0 1 0 10 0a5 5 0 1 0 -10 0zM319.6 192.3a5 5 0 1 0 10 0a5 5 0 1 0 -10 0zM319.7 192.7a5 5 0 1 0 10 0a5 5 0 1 0 -10 0zM319.8 192.4a5 5 0 1 0 10 0a5 5 0 1 0 -10 0zM319.8 192.8a5 5 0 1 0 10 0a5 5 0 1 0 -10 0zM319.9 192a5 5 0 1 0 10 0a5 5 0 1 0 -10 0zM320 192.1a5 5 0 1 0 10 0a5 5 0 1 0 -10 0zM320 194a5 5 0 1 0 10 0a5 5 0 1 0 -10 0zM320.1 192.1a5 5 0 1 0 10 0a5 5 0 1 0 -10 0zM320.2 192.3a5 5 0 1 0 10 0a5 5 0 1 0 -10 0zM320.2 192.4a5 5 0 1 0 10 0a5 5 0 1 0 -10 0zM320.3 193.7a5 5 0 1 0 10 0a5 5 0 1 0 -10 0zM320.4 192.3a5 5 0 1 0 10 0a5 5 0 1 0 -10 0zM320.4 192a5 5 0 1 0 10 0a5 5 0 1 0 -10 0zM320.5 192.1a5 5 0 1 0 10 0a5 5 0 1 0 -10 0z" fill="#f00"/>
<path d="M91.8 32.7l5.8 9.6h-11.5zM97 37.7l5.8 9.6h-11.5zM101.8 42.3l5.8 9.6h-11.5zM106.1 46.3l5.8 9.6h-11.5zM110.1 50.3l5.8 9.6h-11.5zM113.9 53.7l5.8 9.6h-11.5zM117.4 57l5.8 9.6h-11.5zM120.6 60.1l5.8 9.6h-11.5zM123.7 62.8l5.8 9.6h-11.5zM126.6 65.4l5.8 9.6h-11.5zM129.4 67.9l5.8 9.6h-11.5zM132 70.4l5.8 9.6h-11.5zM134.5 72.9l5.8 9.6h-11.5zM136.9 74.7l5.8 9.6h-11.5zM139.1 76.7l5.8 9.6h-11.5zM141.3 78.6l5.8 9.6h-11.5zM143.4 80.3l5.8 9.6h-11.5zM145.4 81.9l5.8 9.6h-11.5zM147.4 83.4l5.8 9.6h-11.5zM149.3 85l5.8 9.6h-11.5zM151.1 86.3l5.8 9.6h-11.5zM152.8 87.7l5.8 9.6h-11.5zM154.5 89.1l5.8 9.6h-11.5zM156.1 90.2l5.8 9.6h-11.5zM157.7 91.7l5.8 9.6h-11.5zM159.3 92.6l5.8 9.6h-11.5zM160.8 93.7l5.8 9.6h-11.5zM162.2 94.6l5.8 9.6h-11.5zM163.7 95.8l5.8 9.6h-11.5zM165 96.6l5.8 9.6h-11.5zM166.4 97.6l5.8 9.6h-11.5zM167.7 98.5l5.8 9.6h-11.5zM169 99.2l5.8 9.6h-11.5zM170.2 100.2l5.8 9.6h-11.5zM171.5 100.9l5.8 9.6h-11.5zM172.7 101.6l5.8 9.6h-11.5zM173.8 102.5l5.8 9.6h-11.5zM175 103.2l5.8 9.6h-11.5zM176.1 103.8l5.8 9.6h-11.5zM177.2 104.8l5.8 9.6h-11.5zM178.3 105.1l5.8 9.6h-11.5zM179.3 105.7l5.8 9.6h-11.5zM180.3 106.4l5.8 9.6h-11.5zM181.3 106.9l5.8 9.6h-11.5zM182.3 107.6l5.8 9.6h-11.5zM183.3 108l5.8 9.6h-11.5zM184.3 109l5.8 9.6h-11.5zM185.2 109.1l5.8 9.6h-11.5zM186.1 109.9l5.8 9.6h-11.5zM187 110.2l5.8 9.6h-11.5zM187.9 110.8l5.8 9.6h-11.5zM188.8 111.4l5.8 9.6h-11.5zM189.7 111.7l5.8 9.6h-11.5zM190.5 112.1l5.8 9.6h-11.5zM191.3 112.6l5.8 9.6h-11.5zM192.2 113.5l5.8 9.6h-11.5zM193 113.7l5.8 9.6h-11.5zM193.8 114l5.8 9.6h-11.5zM194.6 114.5l5.8 9.6h-11.5zM195.3 114.9l5.8 9.6h-11.5zM196.1 115.3l5.8 9.6h-11.5zM196.8 115.8l5.8 9.6h-11.5zM197.6 116.4l5.8 9.6h-11.5zM198.3 116.7l5.8 9.6h-11.5zM199 117l5.8 9.6h-11.5zM199.8 117.4l5.8 9.6h-11.5zM200.5 117.8l5.8 9.6h-11.5zM201.1 118.3l5.8 9.6h-11.5zM201.8 118.7l5.8 9.6h-11.5zM202.5 119l5.8 9.6h-11.5zM203.2 119.6l5.8 9.6h-11.5zM203.8 119.9l5.8 9.6h-11.5zM204.5 120.4l5.8 9.6h-11.5zM205.1 120.7l5.8 9.6h-11.5zM205.8 121l5.8 9.6h-11.5zM206.4 121.4l5.8 9.6h-11.5zM207 121.9l5.8 9.6h-11.5zM207.6 122.3l5.8 9.6h-11.5zM208.2 122.6l5.8 9.6h-11.5zM208.8 122.8l5.8 9.6h-11.5zM209.4 123.2l5.8 9.6h-11.5zM210 123.6l5.8 9.6h-11.5zM210.6 123.8l5.8 9.6h-11.5zM211.1 124.6l5.8 9.6h-11.5zM211.7 124.6l5.8 9.6h-11.5zM212.3 125.2l5.8 9.6h-11.5zM212.8 125.4l5.8 9.6h-11.5zM213.4 125.7l5.8 9.6h-11.5zM213.9 126.2l5.8 9.6h-11.5zM214.5 126.6l5.8 9.6h-11.5zM215 126.8l5.8 9.6h-11.5zM215.5 127l5.8 9.6h-11.5zM216 127.4l5.8 9.6h-11.5zM216.5 127.8l5.8 9.6h-11.5zM217.1 128.2l5.8 9.6h-11.5zM217.6 128.5l5.8 9.6h-11.5zM218.1 128.9l5.8 9.6h-11.5zM218.6 129.1l5.8 9.6h-11.5zM219.1 129.8l5.8 9.6h-11.5zM219.5 129.9l5.8 9.6h-11.5zM220 130.1l5.8 9.6h-11.5zM220.5 130.5l5.8 9.6h-11.5zM221 130.8l5.8 9.6h-11.5zM221.4 131.2l5.8 9.6h-11.5zM221.9 131.4l5.8 9.6h-11.5zM222.4 131.9l5.8 9.6h-11.5zM222.8 132l5.8 9.6h-11.5zM223.3 132.6l5.8 9.6h-11.5zM223.7 132.9l5.8 9.6h-11.5zM224.2 133l5.8 9.6h-11.5zM224.6 133.6l5.8 9.6h-11.5zM225.1 133.7l5.8 9.6h-11.5zM225.5 134l5.8 9.6h-11.5zM225.9 134.5l5.8 9.6h-11.5zM226.4 134.7l5.8 9.6h-11.5zM226.8 135.1l5.8 9.6h-11.5zM227.2 135.5l5.8 9.6h-11.5zM227.6 135.7l5.8 9.6h-11.5zM228 135.9l5.8 9.6h-11.5zM228.5 136.2l5.8 9.6h-11.5zM228.9 136.9l5.8 9.6h-11.5zM229.3 136.8l5.8 9.6h-11.5zM229.7 137.3l5.8 9.6h-11.5zM230.1 137.6l5.8 9.6h-11.5zM230.5 137.8l5.8 9.6h-11.5zM230.9 138.5l5.8 9.6h-11.5zM231.2 138.5l5.8 9.6h-11.5zM231.6 138.8l5.8 9.6h-11.5zM232 139.1l5.8 9.6h-11.5zM232.4 139.6l5.8 9.6h-11.5zM232.8 139.7l5.8 9.6h-11.5zM233.2 139.9l5.8 9.6h-11.5zM233.5 140.3l5.8 9.6h-11.5zM233.9 140.7l5.8 9.6h-11.5zM234.3 140.9l5.8 9.6h-11.5zM234.6 141.5l5.8 9.6h-11.5zM235 141.6l5.8 9.6h-11.5zM235.4 141.8l5.8 9.6h-11.5zM235.7 142l5.8 9.6h-11.5zM236.1 142.5l5.8 9.6h-11.5zM236.4 142.8l5.8 9.6h-11.5zM236.8 143.2l5.8 9.6h-11.5zM237.1 143.3l5.8 9.6h-11.5zM237.5 143.8l5.8 9.6h-11.5zM237.8 144l5.8 9.6h-11.5zM238.2 144.2l5.8 9.6h-11.5zM238.5 144.5l5.8 9.6h-11.5zM238.8 144.8l5.8 9.6h-11.5zM239.2 145.1l5.8 9.6h-11.5zM239.5 145.2l5.8 9.6h-11.5zM239.8 145.7l5.8 9.6h-11.5zM240.2 146l5.8 9.6h-11.5zM240.5 146.2l5.8 9.6h-11.5zM240.8 146.4l5.8 9.6h-11.5zM241.1 147.1l5.8 9.6h-11.5zM241.5 146.8l5.8 9.6h-11.5zM241.8 147.2l5.8 9.6h-11.5zM242.1 147.6l5.8 9.6h-11.5zM242.4 148.1l5.8 9.6h-11.5zM242.7 148l5.8 9.6h-11.5zM243 148.5l5.8 9.6h-11.5zM243.3 148.5l5.8 9.6h-11.5zM243.7 149.1l5.8 9.6h-11.5zM244 149.1l5.8 9.6h-11.5zM244.3 149.4l5.8 9.6h-11.5zM244.6 149.8l5.8 9.6h-11.5zM244.9 149.8l5.8 9.6h-11.5zM245.2 150.4l5.8 9.6h-11.5zM245.5 150.4l5.8 9.6h-11.5zM245.8 150.8l5.8 9.6h-11.5zM246.1 150.8l5.8 9.6h-11.5zM246.3 151l5.8 9.6h-11.5zM246.6 151.7l5.8 9.6h-11.5zM246.9 151.8l5.8 9.6h-11.5zM247.2 152.4l5.8 9.6h-11.5zM247.5 152.2l5.8 9.6h-11.5zM247.8 152.6l5.8 9.6h-11.5zM248.1 152.7l5.8 9.6h-11.5zM248.4 153.2l5.8 9.6h-11.5zM248.6 153.2l5.8 9.6h-11.5zM248.9 153.7l5.8 9.6h-11.5zM249.2 153.9l5.8 9.6h-11.5zM249.5 154.2l5.8 9.6h-11.5zM249.7 155l5.8 9.6h-11.5zM250 154.7l5.8 9.6h-11.5zM250.3 154.8l5.8 9.6h-11.5zM250.6 154.9l5.8 9.6h-11.5zM250.8 155.7l5.8 9.6h-11.5zM251.1 155.9l5.8 9.6h-11.5zM251.4 156l5.8 9.6h-11.5zM251.6 155.8l5.8 9.6h-11.5zM251.9 156.1l5.8 9.6h-11.5zM252.1 157.4l5.8 9.6h-11.5zM252.4 156.8l5.8 9.6h-11.5zM252.7 157.2l5.8 9.6h-11.5zM252.9 157.4l5.8 9.6h-11.5zM253.2 157.4l5.8 9.6h-11.5zM253.4 157.3l5.8 9.6h-11.5zM253.7 158.4l5.8 9.6h-11.5zM253.9 158.8l5.8 9.6h-11.5zM254.2 158.5l5.8 9.6h-11.5zM254.4 158.3l5.8 9.6h-11.5zM254.7 158.5l5.8 9.6h-11.5zM254.9 159.5l5.8 9.6h-11.5zM255.2 159.1l5.8 9.6h-11.5zM255.4 159.7l5.8 9.6h-11.5zM255.7 159.8l5.8 9.6h-11.5zM255.9 160.2l5.8 9.6h-11.5zM256.2 160.2l5.8 9.6h-11.5zM256.4 160.2l5.8 9.6h-11.5zM256.7 161.4l5.8 9.6h-11.5zM256.9 160.6l5.8 9.6h-11.5zM257.1 160.6l5.8 9.6h-11.5zM257.4 162.3l5.8 9.6h-11.5zM257.6 161.2l5.8 9.6h-11.5zM257.8 161.8l5.8 9.6h-11.5zM258.1 161.9l5.8 9.6h-11.5zM258.3 162.5l5.8 9.6h-11.5zM258.5 162.6l5.8 9.6h-11.5zM258.8 162.9l5.8 9.6h-11.5zM259 162.7l5.8 9.6h-11.5zM259.2 162.9l5.8 9.6h-11.5zM259.5 162.8l5.8 9.6h-11.5zM259.7 162.9l5.8 9.6h-11.5zM259.9 163.8l5.8 9.6h-11.5zM260.1 163.7l5.8 9.6h-11.5zM260.4 165l5.8 9.6h-11.5zM260.6 164l5.8 9.6h-11.5zM260.8 164.2l5.8 9.6h-11.5zM261 164.3l5.8 9.6h-11.5zM261.2 164.5l5.8 9.6h-11.5zM261.5 165.4l5.8 9.6h-11.5zM261.7 165.1l5.8 9.6h-11.5zM261.9 165l5.8 9.6h-11.5zM262.1 165.5l5.8 9.6h-11.5zM262.3 166.3l5.8 9.6h-11.5zM262.6 166.4l5.8 9.6h-11.5zM262.8 165.9l5.8 9.6h-11.5zM263 166.6l5.8 9.6h-11.5zM263.2 166l5.8 9.6h-11.5zM263.4 167l5.8 9.6h-11.5zM263.6 167.2l5.8 9.6h-11.5zM263.8 167.8l5.8 9.6h-11.5zM264 166.9l5.8 9.6h-11.5zM264.2 167.8l5.8 9.6h-11.5zM264.4 167.9l5.8 9.6h-11.5zM264.7 167.5l5.8 9.6h-11.5zM264.9 168.4l5.8 9.6h-11.5zM265.1 167.6l5.8 9.6h-11.5zM265.3 168.8l5.8 9.6h-11.5zM265.5 168.7l5.8 9.6h-11.5zM265.7 168.8l5.8 9.6h-11.5zM265.9 168.7l5.8 9.6h-11.5zM266.1 168.8l5.8 9.6h-11.5zM266.3 168.8l5.8 9.6h-11.5zM266.5 169l5.8 9.6h-11.5zM266.7 169.9l5.8 9.6h-11.5zM266.9 169.6l5.8 9.6h-11.5zM267.1 171l5.8 9.6h-11.5zM267.3 169.6l5.8 9.6h-11.5zM267.5 170.6l5.8 9.6h-11.5zM267.7 169.9l5.8 9.6h-11.5zM267.9 170.2l5.8 9.6h-11.5zM268 172.1l5.8 9.6h-11.5zM268.2 170.6l5.8 9.6h-11.5zM268.4 171.7l5.8 9.6h-11.5zM268.6 171.3l5.8 9.6h-11.5zM268.8 171.1l5.8 9.6h-11.5zM269 173.1l5.8 9.6h-11.5zM269.2 171.3l5.8 9.6h-11.5zM269.4 172.2l5.8 9.6h-11.5zM269.6 172.4l5.8 9.6h-11.5zM269.8 171.9l5.8 9.6h-11.5zM269.9 172.4l5.8 9.6h-11.5zM270.1 173.7l5.8 9.6h-11.5zM270.3 172.7l5.8 9.6h-11.5zM270.5 172.8l5.8 9.6h-11.5zM270.7 172.6l5.8 9.6h-11.5zM270.9 173.5l5.8 9.6h-11.5zM271.1 172.6l5.8 9.6h-11.5zM271.2 173l5.8 9.6h-11.5zM271.4 175.4l5.8 9.6h-11.5zM271.6 173.7l5.8 9.6h-11.5zM271.8 173.8l5.8 9.6h-11.5zM272 173.8l5.8 9.6h-11.5zM272.1 175l5.8 9.6h-11.5zM272.3 175.3l5.8 9.6h-11.5zM272.5 174.1l5.8 9.6h-11.5zM272.7 175l5.8 9.6h-11.5zM272.9 175.6l5.8 9.6h-11.5zM273 174.8l5.8 9.6h-11.5zM273.2 175.2l5.8 9.6h-11.5zM273.4 174.7l5.8 9.6h-11.5zM273.6 174.7l5.8 9.6h-11.5zM273.7 174.8l5.8 9.6h-11.5zM273.9 174.9l5.8 9.6h-11.5zM274.1 176.3l5.8 9.6h-11.5zM274.2 175.3l5.8 9.6h-11.5zM274.4 175.4l5.8 9.6h-11.5zM274.6 175.7l5.8 9.6h-11.5zM274.8 175.9l5.8 9.6h-11.5zM274.9 176.7l5.8 9.6h-11.5zM275.1 176.4l5.8 9.6h-11.5zM275.3 176l5.8 9.6h-11.5zM275.4 176.7l5.8 9.6h-11.5zM275.6 176.3l5.8 9.6h-11.5zM275.8 177l5.8 9.6h-11.5zM275.9 178.9l5.8 9.6h-11.5zM276.1 178.2l5.8 9.6h-11.5zM276.3 177.2l5.8 9.6h-11.5zM276.4 176.9l5.8 9.6h-11.5zM276.6 179.7l5.8 9.6h-11.5zM276.8 177.4l5.8 9.6h-11.5zM276.9 177.3l5.8 9.6h-11.5zM277.1 177.7l5.8 9.6h-11.5zM277.3 177.8l5.8 9.6h-11.5zM277.4 179.3l5.8 9.6h-11.5zM277.6 177.7l5.8 9.6h-11.5zM277.7 180.5l5.8 9.6h-11.5zM277.9 179l5.8 9.6h-11.5zM278.1 178.9l5.8 9.6h-11.5zM278.2 179.4l5.8 9.6h-11.5zM278.4 180.6l5.8 9.6h-11.5zM278.5 178.8l5.8 9.6h-11.5zM278.7 178.5l5.8 9.6h-11.5zM278.9 179.8l5.8 9.6h-11.5zM279 180.3l5.8 9.6h-11.5zM279.2 180.3l5.8 9.6h-11.5zM279.3 179.4l5.8 9.6h-11.5zM279.5 180.9l5.8 9.6h-11.5zM279.6 179.3l5.8 9.6h-11.5zM279.8 179.3l5.8 9.6h-11.5zM279.9 179.8l5.8 9.6h-11.5zM280.1 180.4l5.8 9.6h-11.5zM280.3 180.1l5.8 9.6h-11.5zM280.4 180.7l5.8 9.6h-11.5zM280.6 180.5l5.8 9.6h-11.5zM280.7 182l5.8 9.6h-11.5zM280.9 182.7l5.8 9.6h-11.5zM281 180.2l5.8 9.6h-11.5zM281.2 180.7l5.8 9.6h-11.5zM281.3 181l5.8 9.6h-11.5zM281.5 181.7l5.8 9.6h-11.5zM281.6 180.7l5.8 9.6h-11.5zM281.8 182l5.8 9.6h-11.5zM281.9 181.7l5.8 9.6h-11.5zM282.1 180.9l5.8 9.6h-11.5zM282.2 181.1l5.8 9.6h-11.5zM282.4 181.5l5.8 9.6h-11.5zM282.5 181.4l5.8 9.6h-11.5zM282.6 183.4l5.8 9.6h-11.5zM282.8 182.1l5.8 9.6h-11.5zM282.9 181.8l5.8 9.6h-11.5zM283.1 181.6l5.8 9.6h-11.5zM283.2 183l5.8 9.6h-11.5zM283.4 183.4l5.8 9.6h-11.5zM283.5 183.3l5.8 9.6h-11.5zM283.7 183l5.8 9.6h-11.5zM283.8 184.2l5.8 9.6h-11.5zM284 184.1l5.8 9.6h-11.5zM284.1 183.2l5.8 9.6h-11.5zM284.2 184l5.8 9.6h-11.5zM284.4 183.2l5.8 9.6h-11.5zM284.5 183.1l5.8 9.6h-11.5zM284.7 184.9l5.8 9.6h-11.5zM284.8 182.5l5.8 9.6h-11.5zM284.9 184.6l5.8 9.6h-11.5zM285.1 184.6l5.8 9.6h-11.5zM285.2 184.2l5.8 9.6h-11.5zM285.4 183.9l5.8 9.6h-11.5zM285.5 183l5.8 9.6h-11.5zM285.6 184l5.8 9.6h-11.5zM285.8 184.4l5.8 9.6h-11.5zM285.9 183.7l5.8 9.6h-11.5zM286.1 183.3l5.8 9.6h-11.5zM286.2 184.7l5.8 9.6h-11.5zM286.3 186.2l5.8 9.6h-11.5zM286.5 184.5l5.8 9.6h-11.5zM286.6 185.4l5.8 9.6h-11.5zM286.7 183.7l5.8 9.6h-11.5zM286.9 184.9l5.8 9.6h-11.5zM287 184.6l5.8 9.6h-11.5zM287.1 186.9l5.8 9.6h-11.5zM287.3 186.2l5.8 9.6h-11.5zM287.4 184.9l5.8 9.6h-11.5zM287.5 184.3l5.8 9.6h-11.5zM287.7 186.3l5.8 9.6h-11.5zM287.8 184.7l5.8 9.6h-11.5zM287.9 184.6l5.8 9.6h-11.5zM288.1 188.9l5.8 9.6h-11.5zM288.2 184.7l5.8 9.6h-11.5zM288.3 188.1l5.8 9.6h-11.5zM288.5 185.8l5.8 9.6h-11.5zM288.6 184.9l5.8 9.6h-11.5zM288.7 186.9l5.8 9.6h-11.5zM288.9 186.3l5.8 9.6h-11.5zM289 185.5l5.8 9.6h-11.5zM289.1 185.6l5.8 9.6h-11.5zM289.3 185.3l5.8 9.6h-11.5zM289.4 186.7l5.8 9.6h-11.5zM289.5 186.6l5.8 9.6h-11.5zM289.6 186.2l5.8 9.6h-11.5zM289.8 186.2l5.8 9.6h-11.5zM289.9 187.8l5.8 9.6h-11.5zM290 186.8l5.8 9.6h-11.5zM290.2 186.7l5.8 9.6h-11.5zM290.3 188.4l5.8 9.6h-11.5zM290.4 185.8l5.8 9.6h-11.5zM290.5 187l5.8 9.6h-11.5zM290.7 186.5l5.8 9.6h-11.5zM290.8 186.3l5.8 9.6h-11.5zM290.9 187.9l5.8 9.6h-11.5zM291 188.3l5.8 9.6h-11.5zM291.2 188l5.8 9.6h-11.5zM291.3 186.5l5.8 9.6h-11.5zM291.4 189.3l5.8 9.6h-11.5zM291.5 188.1l5.8 9.6h-11.5zM291.7 188.1l5.8 9.6h-11.5zM291.8 189.5l5.8 9.6h-11.5zM291.9 187l5.8 9.6h-11.5zM292 188.8l5.8 9.6h-11.5zM292.1 187.6l5.8 9.6h-11.5zM292.3 186.9l5.8 9.6h-11.5zM292.4 186.7l5.8 9.6h-11.5zM292.5 187.5l5.8 9.6h-11.5zM292.6 189.6l5.8 9.6h-11.5zM292.8 188.6l5.8 9.6h-11.5zM292.9 189.3l5.8 9.6h-11.5zM293 189.1l5.8 9.6h-11.5zM293.1 189.5l5.8 9.6h-11.5zM293.2 187.7l5.8 9.6h-11.5zM293.4 188.3l5.8 9.6h-11.5zM293.5 191.6l5.8 9.6h-11.5zM293.6 188.7l5.8 9.6h-11.5zM293.7 187.6l5.8 9.6h-11.5zM293.8 188.2l5.8 9.6h-11.5zM294 191.4l5.8 9.6h-11.5zM294.1 187.7l5.8 9.6h-11.5zM294.2 188.9l5.8 9.6h-11.5zM294.3 187.7l5.8 9.6h-11.5zM294.4 189.6l5.8 9.6h-11.5zM294.5 189.1l5.8 9.6h-11.5zM294.7 188.4l5.8 9.6h-11.5zM294.8 188.8l5.8 9.6h-11.5zM294.9 188.7l5.8 9.6h-11.5zM295 191.1l5.8 9.6h-11.5zM295.1 189.6l5.8 9.6h-11.5zM295.2 189.5l5.8 9.6h-11.5zM295.4 189l5.8 9.6h-11.5zM295.5 189l5.8 9.6h-11.5zM295.6 191l5.8 9.6h-11.5zM295.7 188.2l5.8 9.6h-11.5zM295.8 191.9l5.8 9.6h-11.5zM295.9 190.1l5.8 9.6h-11.5zM296 188.8l5.8 9.6h-11.5zM296.2 191.1l5.8 9.6h-11.5zM296.3 189.1l5.8 9.6h-11.5zM296.4 189.5l5.8 9.6h-11.5zM296.5 191.4l5.8 9.6h-11.5zM296.6 189.9l5.8 9.6h-11.5zM296.7 188.6l5.8 9.6h-11.5zM296.8 189.3l5.8 9.6h-11.5zM296.9 190.2l5.8 9.6h-11.5zM297.1 191.1l5.8 9.6h-11.5zM297.2 188.9l5.8 9.6h-11.5zM297.3 192.3l5.8 9.6h-11.5zM297.4 189l5.8 9.6h-11.5zM297.5 188.9l5.8 9.6h-11.5zM297.6 190.3l5.8 9.6h-11.5zM297.7 191l5.8 9.6h-11.5zM297.8 191.9l5.8 9.6h-11.5zM297.9 192.9l5.8 9.6h-11.5zM298 191.9l5.8 9.6h-11.5zM298.2 192.4l5.8 9.6h-11.5zM298.3 190.4l5.8 9.6h-11.5zM298.4 190l5.8 9.6h-11.5zM298.5 191.7l5.8 9.6h-11.5zM298.6 191.5l5.8 9.6h-11.5zM298.7 193l5.8 9.6h-11.5zM298.8 191.3l5.8 9.6h-11.5zM298.9 190l5.8 9.6h-11.5zM299 191.7l5.8 9.6h-11.5zM299.1 190.2l5.8 9.6h-11.5zM299.2 193.8l5.8 9.6h-11.5zM299.3 190.8l5.8 9.6h-11.5zM299.5 190.8l5.8 9.6h-11.5zM299.6 192.3l5.8 9.6h-11.5zM299.7 194.2l5.8 9.6h-11.5zM299.8 191.3l5.8 9.6h-11.5zM299.9 194.5l5.8 9.6h-11.5zM300 190l5.8 9.6h-11.5zM300.1 190.1l5.8 9.6h-11.5zM300.2 194l5.8 9.6h-11.5zM300.3 190.6l5.8 9.6h-11.5zM300.4 189.9l5.8 9.6h-11.5zM300.5 191.3l5.8 9.6h-11.5zM300.6 193.5l5.8 9.6h-11.5zM300.7 190.2l5.8 9.6h-11.5zM300.8 192.4l5.8 9.6h-11.5zM300.9 191.2l5.8 9.6h-11.5zM301 190.8l5.8 9.6h-11.5zM301.1 190.3l5.8 9.6h-11.5zM301.2 190.3l5.8 9.6h-11.5zM301.3 192.3l5.8 9.6h-11.5zM301.4 193l5.8 9.6h-11.5zM301.5 193.4l5.8 9.6h-11.5zM301.6 193l5.8 9.6h-11.5zM301.7 192.5l5.8 9.6h-11.5zM301.8 190.6l5.8 9.6h-11.5zM301.9 192.2l5.8 9.6h-11.5zM302.1 191l5.8 9.6h-11.5zM302.2 191.6l5.8 9.6h-11.5zM302.3 192.2l5.8 9.6h-11.5zM302.4 191.2l5.8 9.6h-11.5zM302.5 192.9l5.8 9.6h-11.5zM302.6 191.9l5.8 9.6h-11.5zM302.7 191.2l5.8 9.6h-11.5zM302.8 194.3l5.8 9.6h-11.5zM302.9 192.5l5.8 9.6h-11.5zM303 191.1l5.8 9.6h-11.5zM303.1 191.7l5.8 9.6h-11.5zM303.2 193.5l5.8 9.6h-11.5zM303.3 192.4l5.8 9.6h-11.5zM303.4 197.4l5.8 9.6h-11.5zM303.5 191l5.8 9.6h-11.5zM303.6 194.3l5.8 9.6h-11.5zM303.6 193.4l5.8 9.6h-11.5zM303.7 196.8l5.8 9.6h-11.5zM303.8 192.2l5.8 9.6h-11.5zM303.9 191.2l5.8 9.6h-11.5zM304 191.6l5.8 9.6h-11.5zM304.1 191.9l5.8 9.6h-11.5zM304.2 192.6l5.8 9.6h-11.5zM304.3 194.2l5.8 9.6h-11.5zM304.4 193.5l5.8 9.6h-11.5zM304.5 194.9l5.8 9.6h-11.5zM304.6 193.4l5.8 9.6h-11.5zM304.7 191.9l5.8 9.6h-11.5zM304.8 194l5.8 9.6h-11.5zM304.9 193l5.8 9.6h-11.5zM305 193.6l5.8 9.6h-11.5zM305.1 193l5.8 9.6h-11.5zM305.2 192.5l5.8 9.6h-11.5zM305.3 191.5l5.8 9.6h-11.5zM305.4 194.2l5.8 9.6h-11.5zM305.5 194.6l5.8 9.6h-11.5zM305.6 192.6l5.8 9.6h-11.5zM305.7 193l5.8 9.6h-11.5zM305.8 192.9l5.8 9.6h-11.5zM305.9 192.7l5.8 9.6h-11.5zM306 195.3l5.8 9.6h-11.5zM306.1 192.8l5.8 9.6h-11.5zM306.1 193.7l5.8 9.6h-11.5zM306.2 193l5.8 9.6h-11.5zM306.3 196.1l5.8 9.6h-11.5zM306.4 196.4l5.8 9.6h-11.5zM306.5 194.9l5.8 9.6h-11.5zM306.6 192.4l5.8 9.6h-11.5zM306.7 192.4l5.8 9.6h-11.5zM306.8 194.2l5.8 9.6h-11.5zM306.9 196.5l5.8 9.6h-11.5zM307 192.8l5.8 9.6h-11.5zM307.1 193.6l5.8 9.6h-11.5zM307.2 193.1l5.8 9.6h-11.5zM307.3 195.6l5.8 9.6h-11.5zM307.4 195.5l5.8 9.6h-11.5zM307.4 192.6l5.8 9.6h-11.5zM307.5 192.6l5.8 9.6h-11.5zM307.6 193.8l5.8 9.6h-11.5zM307.7 194l5.8 9.6h-11.5zM307.8 194.9l5.8 9.6h-11.5zM307.9 193.4l5.8 9.6h-11.5zM308 192l5.8 9.6h-11.5zM308.1 192.5l5.8 9.6h-11.5zM308.2 195.7l5.8 9.6h-11.5zM308.3 192.8l5.8 9.6h-11.5zM308.4 194.4l5.8 9.6h-11.5zM308.4 192.5l5.8 9.6h-11.5zM308.5 197l5.8 9.6h-11.5zM308.6 193.8l5.8 9.6h-11.5zM308.7 193l5.8 9.6h-11.5zM308.8 196.4l5.8 9.6h-11.5zM308.9 195.9l5.8 9.6h-11.5zM309 196.6l5.8 9.6h-11.5zM309.1 194.2l5.8 9.6h-11.5zM309.2 194.3l5.8 9.6h-11.5zM309.2 192.5l5.8 9.6h-11.5zM309.3 194l5.8 9.6h-11.5zM309.4 192.6l5.8 9.6h-11.5zM309.5 196l5.8 9.6h-11.5zM309.6 194.2l5.8 9.6h-11.5zM309.7 193.3l5.8 9.6h-11.5zM309.8 194.5l5.8 9.6h-11.5zM309.9 194.7l5.8 9.6h-11.5zM310 195.2l5.8 9.6h-11.5zM310 195.5l5.8 9.6h-11.5zM310.1 196.1l5.8 9.6h-11.5zM310.2 196.2l5.8 9.6h-11.5zM310.3 193.8l5.8 9.6h-11.5zM310.4 199.3l5.8 9.6h-11.5zM310.5 195.2l5.8 9.6h-11.5zM310.6 195.1l5.8 9.6h-11.5zM310.6 193.3l5.8 9.6h-11.5zM310.7 195.5l5.8 9.6h-11.5zM310.8 193.4l5.8 9.6h-11.5zM310.9 193.3l5.8 9.6h-11.5zM311 194.5l5.8 9.6h-11.5zM311.1 197.8l5.8 9.6h-11.5zM311.2 197.7l5.8 9.6h-11.5zM311.2 193.8l5.8 9.6h-11.5zM311.3 193.7l5.8 9.6h-11.5zM311.4 194.3l5.8 9.6h-11.5zM311.5 193.2l5.8 9.6h-11.5zM311.6 195.2l5.8 9.6h-11.5zM311.7 193.3l5.8 9.6h-11.5zM311.8 194l5.8 9.6h-11.5zM311.8 194.7l5.8 9.6h-11.5zM311.9 198.2l5.8 9.6h-11.5zM312 196.8l5.8 9.6h-11.5zM312.1 198.9l5.8 9.6h-11.5zM312.2 195.5l5.8 9.6h-11.5zM312.3 195.7l5.8 9.6h-11.5zM312.3 196.7l5.8 9.6h-11.5zM312.4 193.4l5.8 9.6h-11.5zM312.5 195.2l5.8 9.6h-11.5zM312.6 194.6l5.8 9.6h-11.5zM312.7 195.6l5.8 9.6h-11.5zM312.8 195.2l5.8 9.6h-11.5zM312.8 193.5l5.8 9.6h-11.5zM312.9 198.1l5.8 9.6h-11.5zM313 193.6l5.8 9.6h-11.5zM313.1 193.4l5.8 9.6h-11.5zM313.2 195l5.8 9.6h-11.5zM313.3 195.1l5.8 9.6h-11.5zM313.3 198.1l5.8 9.6h-11.5zM313.4 196.4l5.8 9.6h-11.5zM313.5 196l5.8 9.6h-11.5zM313.6 195.4l5.8 9.6h-11.5zM313.7 196.4l5.8 9.6h-11.5zM313.7 198.8l5.8 9.6h-11.5zM313.8 194.2l5.8 9.6h-11.5zM313.9 195.2l5.8 9.6h-11.5zM314 194.5l5.8 9.6h-11.5zM314.1 196.1l5.8 9.6h-11.5zM314.1 195.8l5.8 9.6h-11.5zM314.2 197.2l5.8 9.6h-11.5zM314.3 197.1l5.8 9.6h-11.5zM314.4 193.6l5.8 9.6h-11.5zM314.5 195.1l5.8 9.6h-11.5zM314.5 195.4l5.8 9.6h-11.5zM314.6 197.5l5.8 9.6h-11.5zM314.7 196.2l5.8 9.6h-11.5zM314.8 196.6l5.8 9.6h-11.5zM314.9 194.5l5.8 9.6h-11.5zM314.9 195.5l5.8 9.6h-11.5zM315 193.8l5.8 9.6h-11.5zM315.1 194.1l5.8 9.6h-11.5zM315.2 196.2l5.8 9.6h-11.5zM315.3 197.8l5.8 9.6h-11.5zM315.3 196.1l5.8 9.6h-11.5zM315.4 197.4l5.8 9.6h-11.5zM315.5 198.7l5.8 9.6h-11.5zM315.6 195.4l5.8 9.6h-11.5zM315.7 196.8l5.8 9.6h-11.5zM315.7 195l5.8 9.6h-11.5zM315.8 193.9l5.8 9.6h-11.5zM315.9 194.5l5.8 9.6h-11.5zM316 196.5l5.8 9.6h-11.5zM316 196.3l5.8 9.6h-11.5zM316.1 194l5.8 9.6h-11.5zM316.2 194.6l5.8 9.6h-11.5zM316.3 196.5l5.8 9.6h-11.5zM316.4 194.8l5.8 9.6h-11.5zM316.4 194.5l5.8 9.6h-11.5zM316.5 196.5l5.8 9.6h-11.5zM316.6 193.8l5.8 9.6h-11.5zM316.7 194.6l5.8 9.6h-11.5zM316.7 194.2l5.8 9.6h-11.5zM316.8 194.3l5.8 9.6h-11.5zM316.9 195.6l5.8 9.6h-11.5zM317 194.9l5.8 9.6h-11.5zM317 195.9l5.8 9.6h-11.5zM317.1 195.6l5.8 9.6h-11.5zM317.2 197.3l5.8 9.6h-11.5zM317.3 198.3l5.8 9.6h-11.5zM317.4 195l5.8 9.6h-11.5zM317.4 195l5.8 9.6h-11.5zM317.5 194.4l5.8 9.6h-11.5zM317.6 195.2l5.8 9.6h-11.5zM317.7 195.3l5.8 9.6h-11.5zM317.7 196.1l5.8 9.6h-11.5zM317.8 194.5l5.8 9.6h-11.5zM317.9 197.1l5.8 9.6h-11.5zM318 197.5l5.8 9.6h-11.5zM318 196.7l5.8 9.6h-11.5zM318.1 195.6l5.8 9.6h-11.5zM318.2 196.2l5.8 9.6h-11.5zM318.3 196l5.8 9.6h-11.5zM318.3 197l5.8 9.6h-11.5zM318.4 194.7l5.8 9.6h-11.5zM318.5 196.2l5.8 9.6h-11.5zM318.6 195.1l5.8 9.6h-11.5zM318.6 196.1l5.8 9.6h-11.5zM318.7 194.7l5.8 9.6h-11.5zM318.8 194.6l5.8 9.6h-11.5zM318.8 194.3l5.8 9.6h-11.5zM318.9 195.6l5.8 9.6h-11.5zM319 203.7l5.8 9.6h-11.5zM319.1 194.5l5.8 9.6h-11.5zM319.1 199.2l5.8 9.6h-11.5zM319.2 194.9l5.8 9.6h-11.5zM319.3 197.2l5.8 9.6h-11.5zM319.4 195l5.8 9.6h-11.5zM319.4 195.3l5.8 9.6h-11.5zM319.5 194.7l5.8 9.6h-11.5zM319.6 194.6l5.8 9.6h-11.5zM319.7 195.7l5.8 9.6h-11.5zM319.7 195.8l5.8 9.6h-11.5zM319.8 196.7l5.8 9.6h-11.5zM319.9 197.4l5.8 9.6h-11.5zM319.9 194.4l5.8 9.6h-11.5zM320 196.8l5.8 9.6h-11.5zM320.1 195l5.8 9.6h-11.5zM320.2 194.6l5.8 9.6h-11.5zM320.2 194.8l5.8 9.6h-11.5zM320.3 195.6l5.8 9.6h-11.5zM320.4 196.5l5.8 9.6h-11.5zM320.4 195l5.8 9.6h-11.5zM320.5 196.2l5.8 9.6h-11.5zM320.6 196.5l5.8 9.6h-11.5zM320.7 198.7l5.8 9.6h-11.5zM320.7 195.2l5.8 9.6h-11.5zM320.8 195.2l5.8 9.6h-11.5zM320.9 198.3l5.8 9.6h-11.5zM320.9 197.3l5.8 9.6h-11.5zM321 195.9l5.8 9.6h-11.5zM321.1 195.5l5.8 9.6h-11.5zM321.2 200.6l5.8 9.6h-11.5zM321.2 195.5l5.8 9.6h-11.5zM321.3 195.9l5.8 9.6h-11.5zM321.4 195l5.8 9.6h-11.5zM321.4 198.2l5.8 9.6h-11.5zM321.5 198l5.8 9.6h-11.5zM321.6 195.6l5.8 9.6h-11.5zM321.7 195.6l5.8 9.6h-11.5zM321.7 195.2l5.8 9.6h-11.5zM321.8 197.6l5.8 9.6h-11.5zM321.9 198.3l5.8 9.6h-11.5zM321.9 195.4l5.8 9.6h-11.5zM322 198.4l5.8 9.6h-11.5zM322.1 196.9l5.8 9.6h-11.5zM322.1 197.6l5.8 9.6h-11.5zM322.2 202l5.8 9.6h-11.5zM322.3 196.9l5.8 9.6h-11.5zM322.3 196.2l5.8 9.6h-11.5zM322.4 196.9l5.8 9.6h-11.5zM322.5 203.6l5.8 9.6h-11.5zM322.6 196.2l5.8 9.6h-11.5zM322.6 195.1l5.8 9.6h-11.5zM322.7 197.2l5.8 9.6h-11.5zM322.8 196.3l5.8 9.6h-11.5zM322.8 196.2l5.8 9.6h-11.5zM322.9 195.3l5.8 9.6h-11.5zM323 196.4l5.8 9.6h-11.5zM323 198.5l5.8 9.6h-11.5zM323.1 197.5l5.8 9.6h-11.5zM323.2 195.9l5.8 9.6h-11.5zM323.2 198.4l5.8 9.6h-11.5zM323.3 199l5.8 9.6h-11.5zM323.4 198.1l5.8 9.6h-11.5zM323.4 196.7l5.8 9.6h-11.5zM323.5 197.9l5.8 9.6h-11.5zM323.6 195.2l5.8 9.6h-11.5zM323.6 195.4l5.8 9.6h-11.5zM323.7 195l5.8 9.6h-11.5zM323.8 195.3l5.8 9.6h-11.5zM323.8 196.2l5.8 9.6h-11.5zM323.9 195.8l5.8 9.6h-11.5zM324 197l5.8 9.6h-11.5zM324 195.5l5.8 9.6h-11.5zM324.1 195.6l5.8 9.6h-11.5zM324.2 195.1l5.8 9.6h-11.5zM324.2 196l5.8 9.6h-11.5zM324.3 197l5.8 9.6h-11.5zM324.4 195.6l5.8 9.6h-11.5zM324.4 195.6l5.8 9.6h-11.5zM324.5 195.9l5.8 9.6h-11.5zM324.6 198.7l5.8 9.6h-11.5zM324.6 197.2l5.8 9.6h-11.5zM324.7 197.6l5.8 9.6h-11.5zM324.8 196.7l5.8 9.6h-11.5zM324.8 196l5.8 9.6h-11.5zM324.9 199.2l5.8 9.6h-11.5zM325 197.4l5.8 9.6h-11.5zM325 196.3l5.8 9.6h-11.5zM325.1 197.1l5.8 9.6h-11.5zM325.2 198l5.8 9.6h-11.5zM325.2 196.9l5.8 9.6h-11.5zM325.3 195.6l5.8 9.6h-11.5zM325.4 196l5.8 9.6h-11.5zM325.4 196.1l5.8 9.6h-11.5zM325.5 195.8l5.8 9.6h-11.5z" fill="#00f"/>
<path d="M418.1 38.5h8.4v8.4h-8.4zM423.4 43.5h8.4v8.4h-8.4zM428.1 48h8.4v8.4h-8.4zM432.4 52.1h8.4v8.4h-8.4zM436.5 55.8h8.4v8.4h-8.4zM440.2 59.3h8.4v8.4h-8.4zM443.7 62.4h8.4v8.4h-8.4zM446.9 65.3h8.4v8.4h-8.4zM450 68h8.4v8.4h-8.4zM452.9 70.5h8.4v8.4h-8.4zM455.7 72.8h8.4v8.4h-8.4zM458.3 75h8.4v8.4h-8.4zM460.8 77h8.4v8.4h-8.4zM463.2 78.8h8.4v8.4h-8.4zM465.5 80.6h8.4v8.4h-8.4zM467.6 82.2h8.4v8.4h-8.4zM469.7 83.7h8.4v8.4h-8.4zM471.8 85.1h8.4v8.4h-8.4zM473.7 86.5h8.4v8.4h-8.4zM475.6 87.7h8.4v8.4h-8.4zM477.4 88.9h8.4v8.4h-8.4zM479.1 90h8.4v8.4h-8.4zM480.8 91.1h8.4v8.4h-8.4zM482.5 92.1h8.4v8.4h-8.4zM484.1 93.1h8.4v8.4h-8.4zM485.6 94h8.4v8.4h-8.4zM487.1 94.8h8.4v8.4h-8.4zM488.6 95.7h8.4v8.4h-8.4zM490 96.5h8.4v8.4h-8.4zM491.4 97.2h8.4v8.4h-8.4zM492.7 98h8.4v8.4h-8.4zM494 98.7h8.4v8.4h-8.4zM495.3 99.3h8.4v8.4h-8.4zM496.6 100h8.4v8.4h-8.4zM497.8 100.6h8.4v8.4h-8.4zM499 101.2h8.4v8.4h-8.4zM500.2 101.8h8.4v8.4h-8.4zM501.3 102.4h8.4v8.4h-8.4zM502.4 102.9h8.4v8.4h-8.4zM503.5 103.4h8.4v8.4h-8.4zM504.6 103.9h8.4v8.4h-8.4zM505.6 104.4h8.4v8.4h-8.4zM506.7 104.8h8.4v8.4h-8.4zM507.7 105.3h8.4v8.4h-8.4zM508.7 105.7h8.4v8.4h-8.4zM509.7 106.2h8.4v8.4h-8.4zM510.6 106.6h8.4v8.4h-8.4zM511.5 107h8.4v8.4h-8.4zM512.5 107.5h8.4v8.4h-8.4zM513.4 107.9h8.4v8.4h-8.4zM514.3 108.3h8.4v8.4h-8.4zM515.1 108.7h8.4v8.4h-8.4zM516 109.1h8.4v8.4h-8.4zM516.9 109.5h8.4v8.4h-8.4zM517.7 109.9h8.4v8.4h-8.4zM518.5 110.3h8.4v8.4h-8.4zM519.3 110.7h8.4v8.4h-8.4zM520.1 111h8.4v8.4h-8.4zM520.9 111.4h8.4v8.4h-8.4zM521.7 111.8h8.4v8.4h-8.4zM522.4 112.2h8.4v8.4h-8.4zM523.2 112.5h8.4v8.4h-8.4zM523.9 112.9h8.4v8.4h-8.4zM524.7 113.3h8.4v8.4h-8.4zM525.4 113.7h8.4v8.4h-8.4zM526.1 114h8.4v8.4h-8.4zM526.8 114.4h8.4v8.4h-8.4zM527.5 114.8h8.4v8.4h-8.4zM528.2 115.1h8.4v8.4h-8.4zM528.9 115.5h8.4v8.4h-8.4zM529.5 115.8h8.4v8.4h-8.4zM530.2 116.2h8.4v8.4h-8.4zM530.8 116.6h8.4v8.4h-8.4zM531.5 116.9h8.4v8.4h-8.4zM532.1 117.3h8.4v8.4h-8.4zM532.7 117.6h8.4v8.4h-8.4zM533.4 118h8.4v8.4h-8.4zM534 118.3h8.4v8.4h-8.4zM534.6 118.7h8.4v8.4h-8.4zM535.2 119h8.4v8.4h-8.4zM535.8 119.4h8.4v8.4h-8.4zM536.3 119.7h8.4v8.4h-8.4zM536.9 120.1h8.4v8.4h-8.4zM537.5 120.4h8.4v8.4h-8.4zM538.1 120.8h8.4v8.4h-8.4zM538.6 121.1h8.4v8.4h-8.4zM539.2 121.5h8.4v8.4h-8.4zM539.7 121.8h8.4v8.4h-8.4zM540.3 122.2h8.4v8.4h-8.4zM540.8 122.5h8.4v8.4h-8.4zM541.3 122.9h8.4v8.4h-8.4zM541.9 123.2h8.4v8.4h-8.4zM542.4 123.5h8.4v8.4h-8.4zM542.9 123.9h8.4v8.4h-8.4zM543.4 124.2h8.4v8.4h-8.4zM543.9 124.6h8.4v8.4h-8.4zM544.4 124.9h8.4v8.4h-8.4zM544.9 125.3h8.4v8.4h-8.4zM545.4 125.6h8.4v8.4h-8.4zM545.9 125.9h8.4v8.4h-8.4zM546.4 126.3h8.4v8.4h-8.4zM546.9 126.6h8.4v8.4h-8.4zM547.3 126.9h8.4v8.4h-8.4zM547.8 127.3h8.4v8.4h-8.4zM548.3 127.6h8.4v8.4h-8.4zM548.7 127.9h8.4v8.4h-8.4zM549.2 128.3h8.4v8.4h-8.4zM549.6 128.6h8.4v8.4h-8.4zM550.1 128.9h8.4v8.4h-8.4zM550.5 129.3h8.4v8.4h-8.4zM551 129.6h8.4v8.4h-8.4zM551.4 129.9h8.4v8.4h-8.4zM551.9 130.2h8.4v8.4h-8.4zM552.3 130.6h8.4v8.4h-8.4zM552.7 130.9h8.4v8.4h-8.4zM553.1 131.2h8.4v8.4h-8.4zM553.6 131.5h8.4v8.4h-8.4zM554 131.9h8.4v8.4h-8.4zM554.4 132.2h8.4v8.4h-8.4zM554.8 132.5h8.4v8.4h-8.4zM555.2 132.8h8.4v8.4h-8.4zM555.6 133.2h8.4v8.4h-8.4zM556 133.5h8.4v8.4h-8.4zM556.4 133.8h8.4v8.4h-8.4zM556.8 134.1h8.4v8.4h-8.4zM557.2 134.4h8.4v8.4h-8.4zM557.6 134.7h8.4v8.4h-8.4zM558 135h8.4v8.4h-8.4zM558.4 135.3h8.4v8.4h-8.4zM558.8 135.6h8.4v8.4h-8.4zM559.1 135.9h8.4v8.4h-8.4zM559.5 136.3h8.4v8.4h-8.4zM559.9 136.6h8.4v8.4h-8.4zM560.3 136.9h8.4v8.4h-8.4zM560.6 137.2h8.4v8.4h-8.4zM561 137.5h8.4v8.4h-8.4zM561.4 137.8h8.4v8.4h-8.4zM561.7 138.1h8.4v8.4h-8.4zM562.1 138.4h8.4v8.4h-8.4zM562.4 138.7h8.4v8.4h-8.4zM562.8 139h8.4v8.4h-8.4zM563.1 139.3h8.4v8.4h-8.4zM563.5 139.6h8.4v8.4h-8.4zM563.8 139.9h8.4v8.4h-8.4zM564.2 140.1h8.4v8.4h-8.4zM564.5 140.4h8.4v8.4h-8.4zM564.9 140.7h8.4v8.4h-8.4zM565.2 141h8.4v8.4h-8.4zM565.5 141.3h8.4v8.4h-8.4zM565.9 141.6h8.4v8.4h-8.4zM566.2 141.9h8.4v8.4h-8.4zM566.5 142.1h8.4v8.4h-8.4zM566.9 142.4h8.4v8.4h-8.4zM567.2 142.7h8.4v8.4h-8.4zM567.5 143h8.4v8.4h-8.4zM567.8 143.3h8.4v8.4h-8.4zM568.1 143.5h8.4v8.4h-8.4zM568.5 143.8h8.4v8.4h-8.4zM568.8 144.1h8.4v8.4h-8.4zM569.1 144.4h8.4v8.4h-8.4zM569.4 144.7h8.4v8.4h-8.4zM569.7 144.9h8.4v8.4h-8.4zM570 145.2h8.4v8.4h-8.4zM570.3 145.4h8.4v8.4h-8.4zM570.6 145.7h8.4v8.4h-8.4zM570.9 146h8.4v8.4h-8.4zM571.2 146.2h8.4v8.4h-8.4zM571.5 146.5h8.4v8.4h-8.4zM571.8 146.8h8.4v8.4h-8.4zM572.1 147h8.4v8.4h-8.4zM572.4 147.3h8.4v8.4h-8.4zM572.7 147.6h8.4v8.4h-8.4zM573 147.8h8.4v8.4h-8.4zM573.3 148h8.4v8.4h-8.4zM573.6 148.3h8.4v8.4h-8.4zM573.9 148.6h8.4v8.4h-8.4zM574.2 148.8h8.4v8.4h-8.4zM574.4 149h8.4v8.4h-8.4zM574.7 149.3h8.4v8.4h-8.4zM575 149.5h8.4v8.4h-8.4zM575.3 149.8h8.4v8.4h-8.4zM575.6 150h8.4v8.4h-8.4zM575.8 150.3h8.4v8.4h-8.4zM576.1 150.5h8.4v8.4h-8.4zM576.4 150.7h8.4v8.4h-8.4zM576.6 151h8.4v8.4h-8.4zM576.9 151.2h8.4v8.4h-8.4zM577.2 151.4h8.4v8.4h-8.4zM577.5 151.7h8.4v8.4h-8.4zM577.7 152h8.4v8.4h-8.4zM578 152.2h8.4v8.4h-8.4zM578.2 152.4h8.4v8.4h-8.4zM578.5 152.7h8.4v8.4h-8.4zM578.8 152.8h8.4v8.4h-8.4zM579 153.1h8.4v8.4h-8.4zM579.3 153.3h8.4v8.4h-8.4zM579.5 153.5h8.4v8.4h-8.4zM579.8 153.7h8.4v8.4h-8.4zM580.1 153.9h8.4v8.4h-8.4zM580.3 154.2h8.4v8.4h-8.4zM580.6 154.4h8.4v8.4h-8.4zM580.8 154.6h8.4v8.4h-8.4zM581.1 154.9h8.4v8.4h-8.4zM581.3 155.1h8.4v8.4h-8.4zM581.6 155.3h8.4v8.4h-8.4zM581.8 155.5h8.4v8.4h-8.4zM582.1 155.7h8.4v8.4h-8.4zM582.3 155.9h8.4v8.4h-8.4zM582.5 156.1h8.4v8.4h-8.4zM582.8 156.3h8.4v8.4h-8.4zM583 156.5h8.4v8.4h-8.4zM583.3 156.7h8.4v8.4h-8.4zM583.5 157h8.4v8.4h-8.4zM583.7 157.1h8.4v8.4h-8.4zM584 157.3h8.4v8.4h-8.4zM584.2 157.5h8.4v8.4h-8.4zM584.4 157.7h8.4v8.4h-8.4zM584.7 158h8.4v8.4h-8.4zM584.9 158.1h8.4v8.4h-8.4zM585.1 158.3h8.4v8.4h-8.4zM585.4 158.5h8.4v8.4h-8.4zM585.6 158.7h8.4v8.4h-8.4zM585.8 158.9h8.4v8.4h-8.4zM586.1 159.1h8.4v8.4h-8.4zM586.3 159.3h8.4v8.4h-8.4zM586.5 159.5h8.4v8.4h-8.4zM586.7 159.8h8.4v8.4h-8.4zM587 159.8h8.4v8.4h-8.4zM587.2 160.1h8.4v8.4h-8.4zM587.4 160.2h8.4v8.4h-8.4zM587.6 160.4h8.4v8.4h-8.4zM587.8 160.6h8.4v8.4h-8.4zM588.1 160.9h8.4v8.4h-8.4zM588.3 160.9h8.4v8.4h-8.4zM588.5 161.1h8.4v8.4h-8.4zM588.7 161.3h8.4v8.4h-8.4zM588.9 161.6h8.4v8.4h-8.4zM589.1 161.6h8.4v8.4h-8.4zM589.3 161.9h8.4v8.4h-8.4zM589.6 162h8.4v8.4h-8.4zM589.8 162.2h8.4v8.4h-8.4zM590 162.4h8.4v8.4h-8.4zM590.2 162.6h8.4v8.4h-8.4zM590.4 162.7h8.4v8.4h-8.4zM590.6 162.8h8.4v8.4h-8.4zM590.8 163h8.4v8.4h-8.4zM591 163.2h8.4v8.4h-8.4zM591.2 163.4h8.4v8.4h-8.4zM591.4 163.5h8.4v8.4h-8.4zM591.6 163.7h8.4v8.4h-8.4zM591.8 163.8h8.4v8.4h-8.4zM592 164h8.4v8.4h-8.4zM592.2 164.1h8.4v8.4h-8.4zM592.5 164.3h8.4v8.4h-8.4zM592.7 164.5h8.4v8.4h-8.4zM592.9 164.6h8.4v8.4h-8.4zM593 164.9h8.4v8.4h-8.4zM593.2 164.9h8.4v8.4h-8.4zM593.4 165h8.4v8.4h-8.4zM593.6 165.3h8.4v8.4h-8.4zM593.8 165.4h8.4v8.4h-8.4zM594 165.5h8.4v8.4h-8.4zM594.2 165.8h8.4v8.4h-8.4zM594.4 165.8h8.4v8.4h-8.4zM594.6 166h8.4v8.4h-8.4zM594.8 166.1h8.4v8.4h-8.4zM595 166.3h8.4v8.4h-8.4zM595.2 166.4h8.4v8.4h-8.4zM595.4 166.6h8.4v8.4h-8.4zM595.6 166.9h8.4v8.4h-8.4zM595.8 166.9h8.4v8.4h-8.4zM595.9 167h8.4v8.4h-8.4zM596.1 167.1h8.4v8.4h-8.4zM596.3 167.3h8.4v8.4h-8.4zM596.5 167.4h8.4v8.4h-8.4zM596.7 167.5h8.4v8.4h-8.4zM596.9 167.7h8.4v8.4h-8.4zM597.1 167.8h8.4v8.4h-8.4zM597.2 167.9h8.4v8.4h-8.4zM597.4 168.1h8.4v8.4h-8.4zM597.6 168.3h8.4v8.4h-8.4zM597.8 168.4h8.4v8.4h-8.4zM598 168.5h8.4v8.4h-8.4zM598.2 168.6h8.4v8.4h-8.4zM598.3 168.8h8.4v8.4h-8.4zM598.5 168.9h8.4v8.4h-8.4zM598.7 169h8.4v8.4h-8.4zM598.9 169.1h8.4v8.4h-8.4zM599 169.3h8.4v8.4h-8.4zM599.2 169.5h8.4v8.4h-8.4zM599.4 169.5h8.4v8.4h-8.4zM599.6 169.6h8.4v8.4h-8.4zM599.8 169.8h8.4v8.4h-8.4zM599.9 169.8h8.4v8.4h-8.4zM600.1 170.1h8.4v8.4h-8.4zM600.3 170.1h8.4v8.4h-8.4zM600.4 170.2h8.4v8.4h-8.4zM600.6 170.3h8.4v8.4h-8.4zM600.8 170.4h8.4v8.4h-8.4zM601 170.6h8.4v8.4h-8.4zM601.1 170.7h8.4v8.4h-8.4zM601.3 170.8h8.4v8.4h-8.4zM601.5 170.9h8.4v8.4h-8.4zM601.6 171.1h8.4v8.4h-8.4zM601.8 171.1h8.4v8.4h-8.4zM602 171.3h8.4v8.4h-8.4zM602.1 171.5h8.4v8.4h-8.4zM602.3 171.5h8.4v8.4h-8.4zM602.5 171.7h8.4v8.4h-8.4zM602.6 171.7h8.4v8.4h-8.4zM602.8 171.8h8.4v8.4h-8.4zM603 172h8.4v8.4h-8.4zM603.1 172.1h8.4v8.4h-8.4zM603.3 172.1h8.4v8.4h-8.4zM603.5 172.2h8.4v8.4h-8.4zM603.6 172.4h8.4v8.4h-8.4zM603.8 172.5h8.4v8.4h-8.4zM604 172.6h8.4v8.4h-8.4zM604.1 172.6h8.4v8.4h-8.4zM604.3 172.7h8.4v8.4h-8.4zM604.4 172.9h8.4v8.4h-8.4zM604.6 173.1h8.4v8.4h-8.4zM604.8 173.2h8.4v8.4h-8.4zM604.9 173.2h8.4v8.4h-8.4zM605.1 173.2h8.4v8.4h-8.4zM605.2 173.4h8.4v8.4h-8.4zM605.4 173.6h8.4v8.4h-8.4zM605.5 173.6h8.4v8.4h-8.4zM605.7 173.6h8.4v8.4h-8.4zM605.9 173.7h8.4v8.4h-8.4zM606 173.9h8.4v8.4h-8.4zM606.2 173.9h8.4v8.4h-8.4zM606.3 174.1h8.4v8.4h-8.4zM606.5 174.1h8.4v8.4h-8.4zM606.6 174.2h8.4v8.4h-8.4zM606.8 174.4h8.4v8.4h-8.4zM606.9 174.4h8.4v8.4h-8.4zM607.1 174.4h8.4v8.4h-8.4zM607.2 174.6h8.4v8.4h-8.4zM607.4 174.8h8.4v8.4h-8.4zM607.5 174.8h8.4v8.4h-8.4zM607.7 174.8h8.4v8.4h-8.4zM607.8 174.9h8.4v8.4h-8.4zM608 175h8.4v8.4h-8.4zM608.1 175.1h8.4v8.4h-8.4zM608.3 175.2h8.4v8.4h-8.4zM608.4 175.2h8.4v8.4h-8.4zM608.6 175.4h8.4v8.4h-8.4zM608.7 175.6h8.4v8.4h-8.4zM608.9 175.5h8.4v8.4h-8.4zM609 175.7h8.4v8.4h-8.4zM609.2 175.7h8.4v8.4h-8.4zM609.3 175.8h8.4v8.4h-8.4zM609.5 175.9h8.4v8.4h-8.4zM609.6 176h8.4v8.4h-8.4zM609.8 176h8.4v8.4h-8.4zM609.9 176.1h8.4v8.4h-8.4zM610 176.2h8.4v8.4h-8.4zM610.2 176.3h8.4v8.4h-8.4zM610.3 176.3h8.4v8.4h-8.4zM610.5 176.5h8.4v8.4h-8.4zM610.6 176.4h8.4v8.4h-8.4zM610.8 176.7h8.4v8.4h-8.4zM610.9 176.7h8.4v8.4h-8.4zM611 176.8h8.4v8.4h-8.4zM611.2 176.9h8.4v8.4h-8.4zM611.3 177h8.4v8.4h-8.4zM611.5 177h8.4v8.4h-8.4zM611.6 177.2h8.4v8.4h-8.4zM611.7 177.1h8.4v8.4h-8.4zM611.9 177.1h8.4v8.4h-8.4zM612 177.2h8.4v8.4h-8.4zM612.2 177.3h8.4v8.4h-8.4zM612.3 177.3h8.4v8.4h-8.4zM612.4 177.4h8.4v8.4h-8.4zM612.6 177.6h8.4v8.4h-8.4zM612.7 177.6h8.4v8.4h-8.4zM612.8 177.7h8.4v8.4h-8.4zM613 177.8h8.4v8.4h-8.4zM613.1 177.8h8.4v8.4h-8.4zM613.3 178h8.4v8.4h-8.4zM613.4 178h8.4v8.4h-8.4zM613.5 178.1h8.4v8.4h-8.4zM613.7 178.1h8.4v8.4h-8.4zM613.8 178.3h8.4v8.4h-8.4zM613.9 178.3h8.4v8.4h-8.4zM614.1 178.2h8.4v8.4h-8.4zM614.2 178.3h8.4v8.4h-8.4zM614.3 178.5h8.4v8.4h-8.4zM614.5 178.5h8.4v8.4h-8.4zM614.6 178.6h8.4v8.4h-8.4zM614.7 178.6h8.4v8.4h-8.4zM614.9 178.7h8.4v8.4h-8.4zM615 178.8h8.4v8.4h-8.4zM615.1 178.9h8.4v8.4h-8.4zM615.2 178.9h8.4v8.4h-8.4zM615.4 178.9h8.4v8.4h-8.4zM615.5 178.9h8.4v8.4h-8.4zM615.6 179.1h8.4v8.4h-8.4zM615.8 179.1h8.4v8.4h-8.4zM615.9 179.2h8.4v8.4h-8.4zM616 179.3h8.4v8.4h-8.4zM616.1 179.4h8.4v8.4h-8.4zM616.3 179.4h8.4v8.4h-8.4zM616.4 179.7h8.4v8.4h-8.4zM616.5 179.6h8.4v8.4h-8.4zM616.7 179.6h8.4v8.4h-8.4zM616.8 179.5h8.4v8.4h-8.4zM616.9 179.6h8.4v8.4h-8.4zM617 179.6h8.4v8.4h-8.4zM617.2 179.8h8.4v8.4h-8.4zM617.3 179.7h8.4v8.4h-8.4zM617.4 179.9h8.4v8.4h-8.4zM617.5 179.8h8.4v8.4h-8.4zM617.7 180h8.4v8.4h-8.4zM617.8 180.3h8.4v8.4h-8.4zM617.9 180.1h8.4v8.4h-8.4zM618 180.2h8.4v8.4h-8.4zM618.2 180.2h8.4v8.4h-8.4zM618.3 180.2h8.4v8.4h-8.4zM618.4 180.4h8.4v8.4h-8.4zM618.5 180.4h8.4v8.4h-8.4zM618.7 180.4h8.4v8.4h-8.4zM618.8 180.5h8.4v8.4h-8.4zM618.9 180.5h8.4v8.4h-8.4zM619 180.6h8.4v8.4h-8.4zM619.1 180.7h8.4v8.4h-8.4zM619.3 180.7h8.4v8.4h-8.4zM619.4 180.6h8.4v8.4h-8.4zM619.5 180.7h8.4v8.4h-8.4zM619.6 180.9h8.4v8.4h-8.4zM619.7 180.8h8.4v8.4h-8.4zM619.9 181h8.4v8.4h-8.4zM620 180.9h8.4v8.4h-8.4zM620.1 180.9h8.4v8.4h-8.4zM620.2 181.2h8.4v8.4h-8.4zM620.3 181.2h8.4v8.4h-8.4zM620.5 181.1h8.4v8.4h-8.4zM620.6 181.3h8.4v8.4h-8.4zM620.7 181.2h8.4v8.4h-8.4zM620.8 181.3h8.4v8.4h-8.4zM620.9 181.3h8.4v8.4h-8.4zM621 181.3h8.4v8.4h-8.4zM621.2 181.4h8.4v8.4h-8.4zM621.3 181.5h8.4v8.4h-8.4zM621.4 181.4h8.4v8.4h-8.4zM621.5 181.5h8.4v8.4h-8.4zM621.6 181.5h8.4v8.4h-8.4zM621.7 181.6h8.4v8.4h-8.4zM621.9 181.6h8.4v8.4h-8.4zM622 181.7h8.4v8.4h-8.4zM622.1 181.9h8.4v8.4h-8.4zM622.2 181.7h8.4v8.4h-8.4zM622.3 181.7h8.4v8.4h-8.4zM622.4 182h8.4v8.4h-8.4zM622.5 182h8.4v8.4h-8.4zM622.6 181.9h8.4v8.4h-8.4zM622.8 182h8.4v8.4h-8.4zM622.9 182.1h8.4v8.4h-8.4zM623 182.1h8.4v8.4h-8.4zM623.1 182.4h8.4v8.4h-8.4zM623.2 182.3h8.4v8.4h-8.4zM623.3 182.4h8.4v8.4h-8.4zM623.4 182.2h8.4v8.4h-8.4zM623.5 182.3h8.4v8.4h-8.4zM623.7 182.4h8.4v8.4h-8.4zM623.8 182.3h8.4v8.4h-8.4zM623.9 182.3h8.4v8.4h-8.4zM624 182.4h8.4v8.4h-8.4zM624.1 182.7h8.4v8.4h-8.4zM624.2 182.5h8.4v8.4h-8.4zM624.3 182.6h8.4v8.4h-8.4zM624.4 182.6h8.4v8.4h-8.4zM624.5 182.6h8.4v8.4h-8.4zM624.6 182.6h8.4v8.4h-8.4zM624.8 182.7h8.4v8.4h-8.4zM624.9 182.6h8.4v8.4h-8.4zM625 182.7h8.4v8.4h-8.4zM625.1 182.7h8.4v8.4h-8.4zM625.2 182.8h8.4v8.4h-8.4zM625.3 182.9h8.4v8.4h-8.4zM625.4 182.9h8.4v8.4h-8.4zM625.5 183h8.4v8.4h-8.4zM625.6 183.2h8.4v8.4h-8.4zM625.7 183h8.4v8.4h-8.4zM625.8 183.2h8.4v8.4h-8.4zM625.9 183.4h8.4v8.4h-8.4zM626 183.1h8.4v8.4h-8.4zM626.2 183.2h8.4v8.4h-8.4zM626.3 183.3h8.4v8.4h-8.4zM626.4 183.5h8.4v8.4h-8.4zM626.5 183.6h8.4v8.4h-8.4zM626.6 183.4h8.4v8.4h-8.4zM626.7 183.5h8.4v8.4h-8.4zM626.8 183.4h8.4v8.4h-8.4zM626.9 183.3h8.4v8.4h-8.4zM627 183.4h8.4v8.4h-8.4zM627.1 183.5h8.4v8.4h-8.4zM627.2 183.5h8.4v8.4h-8.4zM627.3 183.6h8.4v8.4h-8.4zM627.4 183.5h8.4v8.4h-8.4zM627.5 183.6h8.4v8.4h-8.4zM627.6 183.7h8.4v8.4h-8.4zM627.7 183.6h8.4v8.4h-8.4zM627.8 183.6h8.4v8.4h-8.4zM627.9 183.8h8.4v8.4h-8.4zM628 183.8h8.4v8.4h-8.4zM628.1 183.7h8.4v8.4h-8.4zM628.2 183.9h8.4v8.4h-8.4zM628.3 183.7h8.4v8.4h-8.4zM628.4 183.9h8.4v8.4h-8.4zM628.5 183.9h8.4v8.4h-8.4zM628.6 183.8h8.4v8.4h-8.4zM628.7 183.9h8.4v8.4h-8.4zM628.8 184h8.4v8.4h-8.4zM628.9 184h8.4v8.4h-8.4zM629 184.1h8.4v8.4h-8.4zM629.1 183.9h8.4v8.4h-8.4zM629.2 184.1h8.4v8.4h-8.4zM629.3 184.1h8.4v8.4h-8.4zM629.4 184.1h8.4v8.4h-8.4zM629.5 184.2h8.4v8.4h-8.4zM629.6 184.2h8.4v8.4h-8.4zM629.7 184.2h8.4v8.4h-8.4zM629.8 184.5h8.4v8.4h-8.4zM629.9 184.4h8.4v8.4h-8.4zM630 184.2h8.4v8.4h-8.4zM630.1 184.2h8.4v8.4h-8.4zM630.2 184.3h8.4v8.4h-8.4zM630.3 184.2h8.4v8.4h-8.4zM630.4 184.5h8.4v8.4h-8.4zM630.5 184.5h8.4v8.4h-8.4zM630.6 184.5h8.4v8.4h-8.4zM630.7 184.5h8.4v8.4h-8.4zM630.8 184.6h8.4v8.4h-8.4zM630.9 184.4h8.4v8.4h-8.4zM631 184.4h8.4v8.4h-8.4zM631.1 184.6h8.4v8.4h-8.4zM631.2 184.5h8.4v8.4h-8.4zM631.3 184.5h8.4v8.4h-8.4zM631.4 184.6h8.4v8.4h-8.4zM631.5 184.9h8.4v8.4h-8.4zM631.6 184.7h8.4v8.4h-8.4zM631.7 184.8h8.4v8.4h-8.4zM631.8 184.7h8.4v8.4h-8.4zM631.9 184.8h8.4v8.4h-8.4zM632 184.8h8.4v8.4h-8.4zM632.1 184.7h8.4v8.4h-8.4zM632.2 184.7h8.4v8.4h-8.4zM632.3 185h8.4v8.4h-8.4zM632.3 184.7h8.4v8.4h-8.4zM632.4 185h8.4v8.4h-8.4zM632.5 184.8h8.4v8.4h-8.4zM632.6 184.9h8.4v8.4h-8.4zM632.7 184.8h8.4v8.4h-8.4zM632.8 185.2h8.4v8.4h-8.4zM632.9 185h8.4v8.4h-8.4zM633 185h8.4v8.4h-8.4zM633.1 184.9h8.4v8.4h-8.4zM633.2 185h8.4v8.4h-8.4zM633.3 185.1h8.4v8.4h-8.4zM633.4 185.2h8.4v8.4h-8.4zM633.5 185.2h8.4v8.4h-8.4zM633.6 185.2h8.4v8.4h-8.4zM633.6 185.1h8.4v8.4h-8.4zM633.7 185.2h8.4v8.4h-8.4zM633.8 185.2h8.4v8.4h-8.4zM633.9 185.3h8.4v8.4h-8.4zM634 185.3h8.4v8.4h-8.4zM634.1 185.5h8.4v8.4h-8.4zM634.2 185.2h8.4v8.4h-8.4zM634.3 185.4h8.4v8.4h-8.4zM634.4 185.2h8.4v8.4h-8.4zM634.5 185.3h8.4v8.4h-8.4zM634.6 185.6h8.4v8.4h-8.4zM634.7 185.7h8.4v8.4h-8.4zM634.7 185.6h8.4v8.4h-8.4zM634.8 185.3h8.4v8.4h-8.4zM634.9 185.3h8.4v8.4h-8.4zM635 185.4h8.4v8.4h-8.4zM635.1 185.4h8.4v8.4h-8.4zM635.2 185.5h8.4v8.4h-8.4zM635.3 185.8h8.4v8.4h-8.4zM635.4 185.4h8.4v8.4h-8.4zM635.5 185.6h8.4v8.4h-8.4zM635.5 185.7h8.4v8.4h-8.4zM635.6 185.5h8.4v8.4h-8.4zM635.7 185.5h8.4v8.4h-8.4zM635.8 185.5h8.4v8.4h-8.4zM635.9 185.8h8.4v8.4h-8.4zM636 185.6h8.4v8.4h-8.4zM636.1 185.9h8.4v8.4h-8.4zM636.2 185.7h8.4v8.4h-8.4zM636.3 185.9h8.4v8.4h-8.4zM636.3 185.6h8.4v8.4h-8.4zM636.4 185.7h8.4v8.4h-8.4zM636.5 185.7h8.4v8.4h-8.4zM636.6 185.8h8.4v8.4h-8.4zM636.7 185.8h8.4v8.4h-8.4zM636.8 185.8h8.4v8.4h-8.4zM636.9 185.9h8.4v8.4h-8.4zM636.9 185.8h8.4v8.4h-8.4zM637 185.7h8.4v8.4h-8.4zM637.1 185.9h8.4v8.4h-8.4zM637.2 185.9h8.4v8.4h-8.4zM637.3 185.8h8.4v8.4h-8.4zM637.4 186h8.4v8.4h-8.4zM637.5 185.8h8.4v8.4h-8.4zM637.5 186h8.4v8.4h-8.4zM637.6 186.1h8.4v8.4h-8.4zM637.7 186.1h8.4v8.4h-8.4zM637.8 186h8.4v8.4h-8.4zM637.9 186.1h8.4v8.4h-8.4zM638 185.9h8.4v8.4h-8.4zM638.1 185.9h8.4v8.4h-8.4zM638.1 186h8.4v8.4h-8.4zM638.2 186h8.4v8.4h-8.4zM638.3 186.2h8.4v8.4h-8.4zM638.4 186.5h8.4v8.4h-8.4zM638.5 186.1h8.4v8.4h-8.4zM638.6 186.4h8.4v8.4h-8.4zM638.6 186h8.4v8.4h-8.4zM638.7 186h8.4v8.4h-8.4zM638.8 186.2h8.4v8.4h-8.4zM638.9 186.4h8.4v8.4h-8.4zM639 186.3h8.4v8.4h-8.4zM639.1 186.1h8.4v8.4h-8.4zM639.1 186.1h8.4v8.4h-8.4zM639.2 186.2h8.4v8.4h-8.4zM639.3 186.1h8.4v8.4h-8.4zM639.4 186.2h8.4v8.4h-8.4zM639.5 186.2h8.4v8.4h-8.4zM639.6 186.2h8.4v8.4h-8.4zM639.6 186.3h8.4v8.4h-8.4zM639.7 186.3h8.4v8.4h-8.4zM639.8 186.2h8.4v8.4h-8.4zM639.9 186.2h8.4v8.4h-8.4zM640 186.4h8.4v8.4h-8.4zM640 186.5h8.4v8.4h-8.4zM640.1 186.3h8.4v8.4h-8.4zM640.2 186.5h8.4v8.4h-8.4zM640.3 186.5h8.4v8.4h-8.4zM640.4 186.4h8.4v8.4h-8.4zM640.5 186.4h8.4v8.4h-8.4zM640.5 186.3h8.4v8.4h-8.4zM640.6 186.4h8.4v8.4h-8.4zM640.7 186.4h8.4v8.4h-8.4zM640.8 186.4h8.4v8.4h-8.4zM640.9 186.4h8.4v8.4h-8.4zM640.9 186.8h8.4v8.4h-8.4zM641 186.8h8.4v8.4h-8.4zM641.1 186.4h8.4v8.4h-8.4zM641.2 186.5h8.4v8.4h-8.4zM641.3 186.6h8.4v8.4h-8.4zM641.3 186.7h8.4v8.4h-8.4zM641.4 186.9h8.4v8.4h-8.4zM641.5 186.5h8.4v8.4h-8.4zM641.6 186.9h8.4v8.4h-8.4zM641.7 186.6h8.4v8.4h-8.4zM641.7 186.5h8.4v8.4h-8.4zM641.8 186.6h8.4v8.4h-8.4zM641.9 186.6h8.4v8.4h-8.4zM642 186.7h8.4v8.4h-8.4zM642 186.6h8.4v8.4h-8.4zM642.1 186.6h8.4v8.4h-8.4zM642.2 186.6h8.4v8.4h-8.4zM642.3 186.8h8.4v8.4h-8.4zM642.4 186.7h8.4v8.4h-8.4zM642.4 186.8h8.4v8.4h-8.4zM642.5 186.7h8.4v8.4h-8.4zM642.6 186.7h8.4v8.4h-8.4zM642.7 186.7h8.4v8.4h-8.4zM642.7 186.7h8.4v8.4h-8.4zM642.8 186.8h8.4v8.4h-8.4zM642.9 186.7h8.4v8.4h-8.4zM643 186.7h8.4v8.4h-8.4zM643.1 186.9h8.4v8.4h-8.4zM643.1 186.7h8.4v8.4h-8.4zM643.2 187.1h8.4v8.4h-8.4zM643.3 186.7h8.4v8.4h-8.4zM643.4 187.3h8.4v8.4h-8.4zM643.4 186.9h8.4v8.4h-8.4zM643.5 186.8h8.4v8.4h-8.4zM643.6 186.8h8.4v8.4h-8.4zM643.7 187.3h8.4v8.4h-8.4zM643.7 186.8h8.4v8.4h-8.4zM643.8 186.8h8.4v8.4h-8.4zM643.9 187.1h8.4v8.4h-8.4zM644 187h8.4v8.4h-8.4zM644 187.2h8.4v8.4h-8.4zM644.1 186.8h8.4v8.4h-8.4zM644.2 186.9h8.4v8.4h-8.4zM644.3 187.3h8.4v8.4h-8.4zM644.3 186.8h8.4v8.4h-8.4zM644.4 186.9h8.4v8.4h-8.4zM644.5 187h8.4v8.4h-8.4zM644.6 186.9h8.4v8.4h-8.4zM644.6 187.1h8.4v8.4h-8.4zM644.7 187.1h8.4v8.4h-8.4zM644.8 187h8.4v8.4h-8.4zM644.9 187h8.4v8.4h-8.4zM644.9 187.1h8.4v8.4h-8.4zM645 187.1h8.4v8.4h-8.4zM645.1 186.9h8.4v8.4h-8.4zM645.2 187.2h8.4v8.4h-8.4zM645.2 187.2h8.4v8.4h-8.4zM645.3 187.2h8.4v8.4h-8.4zM645.4 187.1h8.4v8.4h-8.4zM645.5 187h8.4v8.4h-8.4zM645.5 187h8.4v8.4h-8.4zM645.6 187h8.4v8.4h-8.4zM645.7 187h8.4v8.4h-8.4zM645.8 187.1h8.4v8.4h-8.4zM645.8 187.1h8.4v8.4h-8.4zM645.9 187.4h8.4v8.4h-8.4zM646 187.1h8.4v8.4h-8.4zM646 187.1h8.4v8.4h-8.4zM646.1 187.3h8.4v8.4h-8.4zM646.2 187.2h8.4v8.4h-8.4zM646.3 187.2h8.4v8.4h-8.4zM646.3 187.2h8.4v8.4h-8.4zM646.4 187.1h8.4v8.4h-8.4zM646.5 187.1h8.4v8.4h-8.4zM646.6 187.1h8.4v8.4h-8.4zM646.6 187.3h8.4v8.4h-8.4zM646.7 187.3h8.4v8.4h-8.4zM646.8 187.2h8.4v8.4h-8.4zM646.8 187.6h8.4v8.4h-8.4zM646.9 187.3h8.4v8.4h-8.4zM647 187.1h8.4v8.4h-8.4zM647.1 187.3h8.4v8.4h-8.4zM647.1 187.2h8.4v8.4h-8.4zM647.2 187.4h8.4v8.4h-8.4zM647.3 187.3h8.4v8.4h-8.4zM647.3 187.2h8.4v8.4h-8.4zM647.4 187.2h8.4v8.4h-8.4zM647.5 187.2h8.4v8.4h-8.4zM647.6 187.4h8.4v8.4h-8.4zM647.6 187.4h8.4v8.4h-8.4zM647.7 187.3h8.4v8.4h-8.4zM647.8 187.2h8.4v8.4h-8.4zM647.8 187.3h8.4v8.4h-8.4zM647.9 187.3h8.4v8.4h-8.4zM648 187.4h8.4v8.4h-8.4zM648 187.2h8.4v8.4h-8.4zM648.1 187.3h8.4v8.4h-8.4zM648.2 187.3h8.4v8.4h-8.4zM648.3 187.5h8.4v8.4h-8.4zM648.3 187.5h8.4v8.4h-8.4zM648.4 187.4h8.4v8.4h-8.4zM648.5 187.4h8.4v8.4h-8.4zM648.5 187.6h8.4v8.4h-8.4zM648.6 187.3h8.4v8.4h-8.4zM648.7 187.5h8.4v8.4h-8.4zM648.7 187.6h8.4v8.4h-8.4zM648.8 187.5h8.4v8.4h-8.4zM648.9 187.4h8.4v8.4h-8.4zM648.9 187.3h8.4v8.4h-8.4zM649 187.3h8.4v8.4h-8.4zM649.1 187.5h8.4v8.4h-8.4zM649.2 187.4h8.4v8.4h-8.4zM649.2 187.5h8.4v8.4h-8.4zM649.3 187.4h8.4v8.4h-8.4zM649.4 187.7h8.4v8.4h-8.4zM649.4 187.4h8.4v8.4h-8.4zM649.5 187.4h8.4v8.4h-8.4zM649.6 187.4h8.4v8.4h-8.4zM649.6 187.5h8.4v8.4h-8.4zM649.7 187.5h8.4v8.4h-8.4zM649.8 187.4h8.4v8.4h-8.4zM649.8 187.7h8.4v8.4h-8.4zM649.9 187.5h8.4v8.4h-8.4zM650 187.5h8.4v8.4h-8.4zM650 187.4h8.4v8.4h-8.4zM650.1 187.7h8.4v8.4h-8.4zM650.2 187.4h8.4v8.4h-8.4zM650.2 187.6h8.4v8.4h-8.4zM650.3 187.6h8.4v8.4h-8.4zM650.4 187.4h8.4v8.4h-8.4zM650.4 187.8h8.4v8.4h-8.4zM650.5 187.6h8.4v8.4h-8.4zM650.6 187.6h8.4v8.4h-8.4zM650.6 187.5h8.4v8.4h-8.4zM650.7 187.5h8.4v8.4h-8.4zM650.8 187.6h8.4v8.4h-8.4zM650.8 187.7h8.4v8.4h-8.4zM650.9 187.6h8.4v8.4h-8.4zM651 187.6h8.4v8.4h-8.4zM651 188h8.4v8.4h-8.4zM651.1 187.5h8.4v8.4h-8.4zM651.2 187.5h8.4v8.4h-8.4zM651.2 187.6h8.4v8.4h-8.4zM651.3 187.8h8.4v8.4h-8.4zM651.4 187.8h8.4v8.4h-8.4zM651.4 187.5h8.4v8.4h-8.4zM651.5 187.6h8.4v8.4h-8.4zM651.6 187.9h8.4v8.4h-8.4zM651.6 188h8.4v8.4h-8.4zM651.7 187.7h8.4v8.4h-8.4zM651.8 187.8h8.4v8.4h-8.4zM651.8 187.7h8.4v8.4h-8.4zM651.9 187.6h8.4v8.4h-8.4z" fill="none" stroke="#8c8c8c" stroke-width="1"/>
<g clip-path="url(#cB)">
<path d="M422.3 44.3 L422.9 44.9 L423.5 45.4 L424.1 46 L424.7 46.5 L425.3 47.1 L425.9 47.7 L426.4 48.2 L427 48.8 L427.6 49.3 L428.2 49.9 L428.8 50.5 L429.4 51 L430 51.6 L430.5 52.1 L431.1 52.7 L431.7 53.2 L432.3 53.8 L432.9 54.3 L433.5 54.9 L434.1 55.4 L434.6 56 L435.2 56.5 L435.8 57.1 L436.4 57.6 L437 58.2 L437.6 58.7 L438.2 59.3 L438.8 59.8 L439.3 60.3 L439.9 60.9 L440.5 61.4 L441.1 61.9 L441.7 62.5 L442.3 63 L442.9 63.5 L443.4 64.1 L444 64.6 L444.6 65.1 L445.2 65.7 L445.8 66.2 L446.4 66.7 L447 67.2 L447.5 67.7 L448.1 68.3 L448.7 68.8 L449.3 69.3 L449.9 69.8 L450.5 70.3 L451.1 70.8 L451.6 71.3 L452.2 71.8 L452.8 72.3 L453.4 72.8 L454 73.3 L454.6 73.8 L455.2 74.3 L455.7 74.8 L456.3 75.3 L456.9 75.8 L457.5 76.3 L458.1 76.8 L458.7 77.3 L459.3 77.7 L459.8 78.2 L460.4 78.7 L461 79.2 L461.6 79.6 L462.2 80.1 L462.8 80.5 L463.4 81 L463.9 81.5 L464.5 81.9 L465.1 82.4 L465.7 82.8 L466.3 83.3 L466.9 83.7 L467.5 84.2 L468 84.6 L468.6 85 L469.2 85.5 L469.8 85.9 L470.4 86.3 L471 86.7 L471.6 87.2 L472.1 87.6 L472.7 88 L473.3 88.4 L473.9 88.8 L474.5 89.2 L475.1 89.6 L475.7 90 L476.3 90.4 L476.8 90.8 L477.4 91.2 L478 91.6 L478.6 92 L479.2 92.3 L479.8 92.7 L480.4 93.1 L480.9 93.5 L481.5 93.8 L482.1 94.2 L482.7 94.6 L483.3 94.9 L483.9 95.3 L484.5 95.6 L485 96 L485.6 96.3 L486.2 96.7 L486.8 97 L487.4 97.3 L488 97.7 L488.6 98 L489.1 98.3 L489.7 98.7 L490.3 99 L490.9 99.3 L491.5 99.6 L492.1 99.9 L492.7 100.2 L493.2 100.5 L493.8 100.9 L494.4 101.2 L495 101.5 L495.6 101.8 L496.2 102.1 L496.8 102.4 L497.3 102.7 L497.9 102.9 L498.5 103.2 L499.1 103.5 L499.7 103.8 L500.3 104.1 L500.9 104.4 L501.4 104.7 L502 104.9 L502.6 105.2 L503.2 105.5 L503.8 105.8 L504.4 106 L505 106.3 L505.5 106.6 L506.1 106.9 L506.7 107.1 L507.3 107.4 L507.9 107.7 L508.5 107.9 L509.1 108.2 L509.6 108.5 L510.2 108.7 L510.8 109 L511.4 109.3 L512 109.5 L512.6 109.8 L513.2 110.1 L513.8 110.3 L514.3 110.6 L514.9 110.9 L515.5 111.1 L516.1 111.4 L516.7 111.7 L517.3 111.9 L517.9 112.2 L518.4 112.5 L519 112.8 L519.6 113 L520.2 113.3 L520.8 113.6 L521.4 113.8 L522 114.1 L522.5 114.4 L523.1 114.7 L523.7 115 L524.3 115.2 L524.9 115.5 L525.5 115.8 L526.1 116.1 L526.6 116.4 L527.2 116.7 L527.8 117 L528.4 117.3 L529 117.6 L529.6 117.9 L530.2 118.2 L530.7 118.5 L531.3 118.8 L531.9 119.1 L532.5 119.4 L533.1 119.7 L533.7 120 L534.3 120.3 L534.8 120.7 L535.4 121 L536 121.3 L536.6 121.6 L537.2 122 L537.8 122.3 L538.4 122.7 L538.9 123 L539.5 123.3 L540.1 123.7 L540.7 124 L541.3 124.4 L541.9 124.8 L542.5 125.1 L543 125.5 L543.6 125.9 L544.2 126.2 L544.8 126.6 L545.4 127 L546 127.4 L546.6 127.7 L547.1 128.1 L547.7 128.5 L548.3 128.9 L548.9 129.3 L549.5 129.7 L550.1 130.1 L550.7 130.5 L551.3 130.9 L551.8 131.4 L552.4 131.8 L553 132.2 L553.6 132.6 L554.2 133.1 L554.8 133.5 L555.4 133.9 L555.9 134.4 L556.5 134.8 L557.1 135.2 L557.7 135.7 L558.3 136.1 L558.9 136.6 L559.5 137.1 L560 137.5 L560.6 138 L561.2 138.4 L561.8 138.9 L562.4 139.4 L563 139.9 L563.6 140.3 L564.1 140.8 L564.7 141.3 L565.3 141.8 L565.9 142.3 L566.5 142.8 L567.1 143.2 L567.7 143.7 L568.2 144.2 L568.8 144.7 L569.4 145.2 L570 145.7 L570.6 146.2 L571.2 146.7 L571.8 147.2 L572.3 147.8 L572.9 148.3 L573.5 148.8 L574.1 149.3 L574.7 149.8 L575.3 150.3 L575.9 150.8 L576.4 151.3 L577 151.8 L577.6 152.4 L578.2 152.9 L578.8 153.4 L579.4 153.9 L580 154.4 L580.5 154.9 L581.1 155.4 L581.7 156 L582.3 156.5 L582.9 157 L583.5 157.5 L584.1 158 L584.6 158.5 L585.2 159 L585.8 159.5 L586.4 160 L587 160.5 L587.6 161 L588.2 161.5 L588.8 162 L589.3 162.5 L589.9 163 L590.5 163.5 L591.1 164 L591.7 164.5 L592.3 165 L592.9 165.5 L593.4 166 L594 166.4 L594.6 166.9 L595.2 167.4 L595.8 167.8 L596.4 168.3 L597 168.8 L597.5 169.2 L598.1 169.7 L598.7 170.1 L599.3 170.6 L599.9 171 L600.5 171.4 L601.1 171.9 L601.6 172.3 L602.2 172.7 L602.8 173.2 L603.4 173.6 L604 174 L604.6 174.4 L605.2 174.8 L605.7 175.2 L606.3 175.6 L606.9 176 L607.5 176.4 L608.1 176.7 L608.7 177.1 L609.3 177.5 L609.8 177.9 L610.4 178.2 L611 178.6 L611.6 178.9 L612.2 179.3 L612.8 179.6 L613.4 179.9 L613.9 180.3 L614.5 180.6 L615.1 180.9 L615.7 181.2 L616.3 181.5 L616.9 181.8 L617.5 182.1 L618 182.4 L618.6 182.7 L619.2 183 L619.8 183.3 L620.4 183.5 L621 183.8 L621.6 184.1 L622.1 184.3 L622.7 184.6 L623.3 184.8 L623.9 185.1 L624.5 185.3 L625.1 185.5 L625.7 185.8 L626.3 186 L626.8 186.2 L627.4 186.4 L628 186.6 L628.6 186.8 L629.2 187 L629.8 187.2 L630.4 187.4 L630.9 187.6 L631.5 187.8 L632.1 187.9 L632.7 188.1 L633.3 188.3 L633.9 188.4 L634.5 188.6 L635 188.7 L635.6 188.9 L636.2 189 L636.8 189.2 L637.4 189.3 L638 189.4 L638.6 189.5 L639.1 189.7 L639.7 189.8 L640.3 189.9 L640.9 190 L641.5 190.1 L642.1 190.2 L642.7 190.3 L643.2 190.4 L643.8 190.5 L644.4 190.6 L645 190.7 L645.6 190.8 L646.2 190.9 L646.8 191 L647.3 191 L647.9 191.1 L648.5 191.2 L649.1 191.3 L649.7 191.3 L650.3 191.4 L650.9 191.5 L651.4 191.5 L652 191.6 L652.6 191.6 L653.2 191.7 L653.8 191.7 L654.4 191.8 L655 191.8 L655.5 191.9 L656.1 191.9" fill="none" stroke="#000" stroke-width="2.0" stroke-linejoin="round" stroke-linecap="round" />
<path d="M422.4 43.8 L672.4 295.5" fill="none" stroke="#f00" stroke-width="2.0" stroke-linejoin="round" stroke-linecap="round" />
<path d="M422.3 109.5 L422.9 109.5 L423.5 109.5 L424.1 109.6 L424.7 109.6 L425.3 109.6 L425.9 109.6 L426.4 109.6 L427 109.6 L427.6 109.6 L428.2 109.6 L428.8 109.6 L429.4 109.6 L430 109.6 L430.5 109.6 L431.1 109.6 L431.7 109.7 L432.3 109.7 L432.9 109.7 L433.5 109.7 L434.1 109.7 L434.6 109.7 L435.2 109.7 L435.8 109.7 L436.4 109.7 L437 109.7 L437.6 109.8 L438.2 109.8 L438.8 109.8 L439.3 109.8 L439.9 109.8 L440.5 109.8 L441.1 109.8 L441.7 109.8 L442.3 109.8 L442.9 109.9 L443.4 109.9 L444 109.9 L444.6 109.9 L445.2 109.9 L445.8 109.9 L446.4 109.9 L447 110 L447.5 110 L448.1 110 L448.7 110 L449.3 110 L449.9 110 L450.5 110.1 L451.1 110.1 L451.6 110.1 L452.2 110.1 L452.8 110.1 L453.4 110.2 L454 110.2 L454.6 110.2 L455.2 110.2 L455.7 110.2 L456.3 110.3 L456.9 110.3 L457.5 110.3 L458.1 110.3 L458.7 110.3 L459.3 110.4 L459.8 110.4 L460.4 110.4 L461 110.4 L461.6 110.5 L462.2 110.5 L462.8 110.5 L463.4 110.6 L463.9 110.6 L464.5 110.6 L465.1 110.6 L465.7 110.7 L466.3 110.7 L466.9 110.7 L467.5 110.8 L468 110.8 L468.6 110.8 L469.2 110.9 L469.8 110.9 L470.4 110.9 L471 111 L471.6 111 L472.1 111.1 L472.7 111.1 L473.3 111.1 L473.9 111.2 L474.5 111.2 L475.1 111.3 L475.7 111.3 L476.3 111.4 L476.8 111.4 L477.4 111.4 L478 111.5 L478.6 111.5 L479.2 111.6 L479.8 111.6 L480.4 111.7 L480.9 111.7 L481.5 111.8 L482.1 111.9 L482.7 111.9 L483.3 112 L483.9 112 L484.5 112.1 L485 112.1 L485.6 112.2 L486.2 112.3 L486.8 112.3 L487.4 112.4 L488 112.5 L488.6 112.5 L489.1 112.6 L489.7 112.7 L490.3 112.8 L490.9 112.8 L491.5 112.9 L492.1 113 L492.7 113.1 L493.2 113.1 L493.8 113.2 L494.4 113.3 L495 113.4 L495.6 113.5 L496.2 113.6 L496.8 113.7 L497.3 113.8 L497.9 113.9 L498.5 114 L499.1 114.1 L499.7 114.2 L500.3 114.3 L500.9 114.4 L501.4 114.5 L502 114.6 L502.6 114.7 L503.2 114.8 L503.8 114.9 L504.4 115 L505 115.2 L505.5 115.3 L506.1 115.4 L506.7 115.5 L507.3 115.7 L507.9 115.8 L508.5 115.9 L509.1 116.1 L509.6 116.2 L510.2 116.4 L510.8 116.5 L511.4 116.7 L512 116.8 L512.6 117 L513.2 117.1 L513.8 117.3 L514.3 117.5 L514.9 117.6 L515.5 117.8 L516.1 118 L516.7 118.1 L517.3 118.3 L517.9 118.5 L518.4 118.7 L519 118.9 L519.6 119.1 L520.2 119.3 L520.8 119.5 L521.4 119.7 L522 119.9 L522.5 120.1 L523.1 120.3 L523.7 120.5 L524.3 120.7 L524.9 121 L525.5 121.2 L526.1 121.4 L526.6 121.6 L527.2 121.9 L527.8 122.1 L528.4 122.4 L529 122.6 L529.6 122.9 L530.2 123.2 L530.7 123.4 L531.3 123.7 L531.9 124 L532.5 124.2 L533.1 124.5 L533.7 124.8 L534.3 125.1 L534.8 125.4 L535.4 125.7 L536 126 L536.6 126.3 L537.2 126.6 L537.8 126.9 L538.4 127.3 L538.9 127.6 L539.5 127.9 L540.1 128.3 L540.7 128.6 L541.3 129 L541.9 129.3 L542.5 129.7 L543 130 L543.6 130.4 L544.2 130.8 L544.8 131.1 L545.4 131.5 L546 131.9 L546.6 132.3 L547.1 132.7 L547.7 133.1 L548.3 133.5 L548.9 133.9 L549.5 134.4 L550.1 134.8 L550.7 135.2 L551.3 135.6 L551.8 136.1 L552.4 136.5 L553 137 L553.6 137.4 L554.2 137.9 L554.8 138.4 L555.4 138.8 L555.9 139.3 L556.5 139.8 L557.1 140.3 L557.7 140.8 L558.3 141.3 L558.9 141.8 L559.5 142.3 L560 142.8 L560.6 143.3 L561.2 143.9 L561.8 144.4 L562.4 144.9 L563 145.5 L563.6 146 L564.1 146.6 L564.7 147.1 L565.3 147.7 L565.9 148.3 L566.5 148.8 L567.1 149.4 L567.7 150 L568.2 150.6 L568.8 151.2 L569.4 151.8 L570 152.4 L570.6 153 L571.2 153.6 L571.8 154.2 L572.3 154.9 L572.9 155.5 L573.5 156.1 L574.1 156.8 L574.7 157.4 L575.3 158.1 L575.9 158.7 L576.4 159.4 L577 160 L577.6 160.7 L578.2 161.4 L578.8 162.1 L579.4 162.7 L580 163.4 L580.5 164.1 L581.1 164.8 L581.7 165.5 L582.3 166.2 L582.9 166.9 L583.5 167.6 L584.1 168.3 L584.6 169.1 L585.2 169.8 L585.8 170.5 L586.4 171.2 L587 172 L587.6 172.7 L588.2 173.5 L588.8 174.2 L589.3 175 L589.9 175.7 L590.5 176.5 L591.1 177.2 L591.7 178 L592.3 178.8 L592.9 179.6 L593.4 180.3 L594 181.1 L594.6 181.9 L595.2 182.7 L595.8 183.5 L596.4 184.3 L597 185.1 L597.5 185.9 L598.1 186.7 L598.7 187.5 L599.3 188.3 L599.9 189.1 L600.5 189.9 L601.1 190.7 L601.6 191.6 L602.2 192.4 L602.8 193.2 L603.4 194 L604 194.9 L604.6 195.7 L605.2 196.5 L605.7 197.4 L606.3 198.2 L606.9 199.1 L607.5 199.9 L608.1 200.8 L608.7 201.6 L609.3 202.5 L609.8 203.3 L610.4 204.2 L611 205 L611.6 205.9 L612.2 206.8 L612.8 207.6 L613.4 208.5 L613.9 209.4 L614.5 210.3 L615.1 211.1 L615.7 212 L616.3 212.9 L616.9 213.8 L617.5 214.7 L618 215.5 L618.6 216.4 L619.2 217.3 L619.8 218.2 L620.4 219.1 L621 220 L621.6 220.9 L622.1 221.8 L622.7 222.7 L623.3 223.6 L623.9 224.5 L624.5 225.4 L625.1 226.3 L625.7 227.2 L626.3 228.1 L626.8 229 L627.4 229.9 L628 230.8 L628.6 231.7 L629.2 232.6 L629.8 233.6 L630.4 234.5 L630.9 235.4 L631.5 236.3 L632.1 237.2 L632.7 238.2 L633.3 239.1 L633.9 240 L634.5 240.9 L635 241.8 L635.6 242.8 L636.2 243.7 L636.8 244.6 L637.4 245.6 L638 246.5 L638.6 247.4 L639.1 248.3 L639.7 249.3 L640.3 250.2 L640.9 251.1 L641.5 252.1 L642.1 253 L642.7 254 L643.2 254.9 L643.8 255.8 L644.4 256.8 L645 257.7 L645.6 258.6 L646.2 259.6 L646.8 260.5 L647.3 261.5 L647.9 262.4 L648.5 263.4 L649.1 264.3 L649.7 265.2 L650.3 266.2 L650.9 267.1 L651.4 268.1 L652 269 L652.6 270 L653.2 270.9 L653.8 271.9 L654.4 272.8 L655 273.8 L655.5 274.7 L656.1 275.7" fill="none" stroke="#00f" stroke-width="2.0" stroke-linejoin="round" stroke-linecap="round" />
<path d="M422.3 177.4 L422.9 177.4 L423.5 177.4 L424.1 177.4 L424.7 177.4 L425.3 177.4 L425.9 177.4 L426.4 177.4 L427 177.4 L427.6 177.4 L428.2 177.4 L428.8 177.4 L429.4 177.4 L430 177.4 L430.5 177.4 L431.1 177.4 L431.7 177.4 L432.3 177.4 L432.9 177.4 L433.5 177.4 L434.1 177.4 L434.6 177.4 L435.2 177.4 L435.8 177.4 L436.4 177.4 L437 177.4 L437.6 177.4 L438.2 177.4 L438.8 177.4 L439.3 177.4 L439.9 177.4 L440.5 177.5 L441.1 177.5 L441.7 177.5 L442.3 177.5 L442.9 177.5 L443.4 177.5 L444 177.5 L444.6 177.5 L445.2 177.5 L445.8 177.5 L446.4 177.5 L447 177.5 L447.5 177.5 L448.1 177.5 L448.7 177.5 L449.3 177.5 L449.9 177.5 L450.5 177.5 L451.1 177.5 L451.6 177.5 L452.2 177.5 L452.8 177.5 L453.4 177.5 L454 177.5 L454.6 177.5 L455.2 177.5 L455.7 177.6 L456.3 177.6 L456.9 177.6 L457.5 177.6 L458.1 177.6 L458.7 177.6 L459.3 177.6 L459.8 177.6 L460.4 177.6 L461 177.6 L461.6 177.6 L462.2 177.6 L462.8 177.6 L463.4 177.6 L463.9 177.6 L464.5 177.6 L465.1 177.6 L465.7 177.6 L466.3 177.7 L466.9 177.7 L467.5 177.7 L468 177.7 L468.6 177.7 L469.2 177.7 L469.8 177.7 L470.4 177.7 L471 177.7 L471.6 177.7 L472.1 177.7 L472.7 177.7 L473.3 177.7 L473.9 177.8 L474.5 177.8 L475.1 177.8 L475.7 177.8 L476.3 177.8 L476.8 177.8 L477.4 177.8 L478 177.8 L478.6 177.8 L479.2 177.8 L479.8 177.9 L480.4 177.9 L480.9 177.9 L481.5 177.9 L482.1 177.9 L482.7 177.9 L483.3 177.9 L483.9 177.9 L484.5 177.9 L485 178 L485.6 178 L486.2 178 L486.8 178 L487.4 178 L488 178 L488.6 178 L489.1 178 L489.7 178.1 L490.3 178.1 L490.9 178.1 L491.5 178.1 L492.1 178.1 L492.7 178.1 L493.2 178.2 L493.8 178.2 L494.4 178.2 L495 178.2 L495.6 178.2 L496.2 178.2 L496.8 178.3 L497.3 178.3 L497.9 178.3 L498.5 178.3 L499.1 178.3 L499.7 178.4 L500.3 178.4 L500.9 178.4 L501.4 178.4 L502 178.4 L502.6 178.5 L503.2 178.5 L503.8 178.5 L504.4 178.5 L505 178.5 L505.5 178.6 L506.1 178.6 L506.7 178.6 L507.3 178.6 L507.9 178.7 L508.5 178.7 L509.1 178.7 L509.6 178.8 L510.2 178.8 L510.8 178.8 L511.4 178.8 L512 178.9 L512.6 178.9 L513.2 178.9 L513.8 179 L514.3 179 L514.9 179 L515.5 179.1 L516.1 179.1 L516.7 179.1 L517.3 179.2 L517.9 179.2 L518.4 179.2 L519 179.3 L519.6 179.3 L520.2 179.3 L520.8 179.4 L521.4 179.4 L522 179.5 L522.5 179.5 L523.1 179.5 L523.7 179.6 L524.3 179.6 L524.9 179.7 L525.5 179.7 L526.1 179.8 L526.6 179.8 L527.2 179.9 L527.8 179.9 L528.4 180 L529 180 L529.6 180.1 L530.2 180.1 L530.7 180.2 L531.3 180.2 L531.9 180.3 L532.5 180.3 L533.1 180.4 L533.7 180.4 L534.3 180.5 L534.8 180.6 L535.4 180.6 L536 180.7 L536.6 180.7 L537.2 180.8 L537.8 180.9 L538.4 180.9 L538.9 181 L539.5 181.1 L540.1 181.1 L540.7 181.2 L541.3 181.3 L541.9 181.4 L542.5 181.4 L543 181.5 L543.6 181.6 L544.2 181.7 L544.8 181.8 L545.4 181.8 L546 181.9 L546.6 182 L547.1 182.1 L547.7 182.2 L548.3 182.3 L548.9 182.4 L549.5 182.5 L550.1 182.6 L550.7 182.7 L551.3 182.8 L551.8 182.9 L552.4 183 L553 183.1 L553.6 183.2 L554.2 183.3 L554.8 183.4 L555.4 183.5 L555.9 183.6 L556.5 183.7 L557.1 183.8 L557.7 184 L558.3 184.1 L558.9 184.2 L559.5 184.3 L560 184.5 L560.6 184.6 L561.2 184.7 L561.8 184.9 L562.4 185 L563 185.1 L563.6 185.3 L564.1 185.4 L564.7 185.6 L565.3 185.7 L565.9 185.9 L566.5 186 L567.1 186.2 L567.7 186.3 L568.2 186.5 L568.8 186.7 L569.4 186.8 L570 187 L570.6 187.2 L571.2 187.3 L571.8 187.5 L572.3 187.7 L572.9 187.9 L573.5 188.1 L574.1 188.3 L574.7 188.5 L575.3 188.7 L575.9 188.9 L576.4 189.1 L577 189.3 L577.6 189.5 L578.2 189.7 L578.8 189.9 L579.4 190.1 L580 190.3 L580.5 190.6 L581.1 190.8 L581.7 191 L582.3 191.3 L582.9 191.5 L583.5 191.8 L584.1 192 L584.6 192.3 L585.2 192.5 L585.8 192.8 L586.4 193 L587 193.3 L587.6 193.6 L588.2 193.8 L588.8 194.1 L589.3 194.4 L589.9 194.7 L590.5 195 L591.1 195.3 L591.7 195.6 L592.3 195.9 L592.9 196.2 L593.4 196.5 L594 196.8 L594.6 197.2 L595.2 197.5 L595.8 197.8 L596.4 198.1 L597 198.5 L597.5 198.8 L598.1 199.2 L598.7 199.5 L599.3 199.9 L599.9 200.3 L600.5 200.6 L601.1 201 L601.6 201.4 L602.2 201.8 L602.8 202.2 L603.4 202.5 L604 202.9 L604.6 203.4 L605.2 203.8 L605.7 204.2 L606.3 204.6 L606.9 205 L607.5 205.4 L608.1 205.9 L608.7 206.3 L609.3 206.8 L609.8 207.2 L610.4 207.7 L611 208.1 L611.6 208.6 L612.2 209.1 L612.8 209.6 L613.4 210 L613.9 210.5 L614.5 211 L615.1 211.5 L615.7 212 L616.3 212.5 L616.9 213.1 L617.5 213.6 L618 214.1 L618.6 214.6 L619.2 215.2 L619.8 215.7 L620.4 216.3 L621 216.8 L621.6 217.4 L622.1 218 L622.7 218.5 L623.3 219.1 L623.9 219.7 L624.5 220.3 L625.1 220.9 L625.7 221.5 L626.3 222.1 L626.8 222.7 L627.4 223.3 L628 223.9 L628.6 224.6 L629.2 225.2 L629.8 225.8 L630.4 226.5 L630.9 227.1 L631.5 227.8 L632.1 228.5 L632.7 229.1 L633.3 229.8 L633.9 230.5 L634.5 231.2 L635 231.9 L635.6 232.6 L636.2 233.3 L636.8 234 L637.4 234.7 L638 235.4 L638.6 236.1 L639.1 236.9 L639.7 237.6 L640.3 238.3 L640.9 239.1 L641.5 239.8 L642.1 240.6 L642.7 241.4 L643.2 242.1 L643.8 242.9 L644.4 243.7 L645 244.5 L645.6 245.2 L646.2 246 L646.8 246.8 L647.3 247.6 L647.9 248.4 L648.5 249.3 L649.1 250.1 L649.7 250.9 L650.3 251.7 L650.9 252.6 L651.4 253.4 L652 254.2 L652.6 255.1 L653.2 255.9 L653.8 256.8 L654.4 257.7 L655 258.5 L655.5 259.4 L656.1 260.3" fill="none" stroke="#f0f" stroke-width="2.0" stroke-linejoin="round" stroke-linecap="round" />
<path d="M422.3 193 L656.1 193" fill="none" stroke="#008000" stroke-width="2.0" stroke-linejoin="round" stroke-linecap="round" />
</g>
<g clip-path="url(#cC)">
<path d="M91.6 295 L325.5 451.6" fill="none" stroke="#000" stroke-width="2.0" stroke-linejoin="round" stroke-linecap="round" />
<path d="M91.6 302.2 L325.5 459.1" fill="none" stroke="#f00" stroke-width="2.0" stroke-linejoin="round" stroke-linecap="round" />
<path d="M91.6 311 L325.5 469" fill="none" stroke="#00f" stroke-width="2.0" stroke-linejoin="round" stroke-linecap="round" />
</g>
<path d="M422.3 317.2 L422.9 317.2 L423.5 317.2 L424.1 317.2 L424.7 317.2 L425.3 317.2 L425.9 317.2 L426.4 317.3 L427 317.3 L427.6 317.3 L428.2 317.3 L428.8 317.3 L429.4 317.3 L430 317.3 L430.5 317.3 L431.1 317.3 L431.7 317.3 L432.3 317.3 L432.9 317.3 L433.5 317.3 L434.1 317.3 L434.6 317.4 L435.2 317.4 L435.8 317.4 L436.4 317.4 L437 317.4 L437.6 317.4 L438.2 317.4 L438.8 317.4 L439.3 317.4 L439.9 317.4 L440.5 317.5 L441.1 317.5 L441.7 317.5 L442.3 317.5 L442.9 317.5 L443.4 317.5 L444 317.5 L444.6 317.5 L445.2 317.5 L445.8 317.6 L446.4 317.6 L447 317.6 L447.5 317.6 L448.1 317.6 L448.7 317.6 L449.3 317.6 L449.9 317.7 L450.5 317.7 L451.1 317.7 L451.6 317.7 L452.2 317.7 L452.8 317.7 L453.4 317.8 L454 317.8 L454.6 317.8 L455.2 317.8 L455.7 317.8 L456.3 317.8 L456.9 317.9 L457.5 317.9 L458.1 317.9 L458.7 317.9 L459.3 318 L459.8 318 L460.4 318 L461 318 L461.6 318 L462.2 318.1 L462.8 318.1 L463.4 318.1 L463.9 318.1 L464.5 318.2 L465.1 318.2 L465.7 318.2 L466.3 318.2 L466.9 318.3 L467.5 318.3 L468 318.3 L468.6 318.4 L469.2 318.4 L469.8 318.4 L470.4 318.5 L471 318.5 L471.6 318.5 L472.1 318.6 L472.7 318.6 L473.3 318.6 L473.9 318.7 L474.5 318.7 L475.1 318.7 L475.7 318.8 L476.3 318.8 L476.8 318.9 L477.4 318.9 L478 318.9 L478.6 319 L479.2 319 L479.8 319.1 L480.4 319.1 L480.9 319.2 L481.5 319.2 L482.1 319.3 L482.7 319.3 L483.3 319.4 L483.9 319.4 L484.5 319.5 L485 319.5 L485.6 319.6 L486.2 319.6 L486.8 319.7 L487.4 319.7 L488 319.8 L488.6 319.9 L489.1 319.9 L489.7 320 L490.3 320.1 L490.9 320.1 L491.5 320.2 L492.1 320.3 L492.7 320.3 L493.2 320.4 L493.8 320.5 L494.4 320.6 L495 320.6 L495.6 320.7 L496.2 320.8 L496.8 320.9 L497.3 321 L497.9 321 L498.5 321.1 L499.1 321.2 L499.7 321.3 L500.3 321.4 L500.9 321.5 L501.4 321.6 L502 321.7 L502.6 321.8 L503.2 321.9 L503.8 322 L504.4 322.1 L505 322.2 L505.5 322.3 L506.1 322.4 L506.7 322.5 L507.3 322.6 L507.9 322.8 L508.5 322.9 L509.1 323 L509.6 323.1 L510.2 323.3 L510.8 323.4 L511.4 323.5 L512 323.7 L512.6 323.8 L513.2 323.9 L513.8 324.1 L514.3 324.2 L514.9 324.4 L515.5 324.5 L516.1 324.7 L516.7 324.8 L517.3 325 L517.9 325.1 L518.4 325.3 L519 325.5 L519.6 325.6 L520.2 325.8 L520.8 326 L521.4 326.2 L522 326.4 L522.5 326.5 L523.1 326.7 L523.7 326.9 L524.3 327.1 L524.9 327.3 L525.5 327.5 L526.1 327.7 L526.6 327.9 L527.2 328.1 L527.8 328.4 L528.4 328.6 L529 328.8 L529.6 329 L530.2 329.3 L530.7 329.5 L531.3 329.7 L531.9 330 L532.5 330.2 L533.1 330.5 L533.7 330.7 L534.3 331 L534.8 331.2 L535.4 331.5 L536 331.8 L536.6 332.1 L537.2 332.3 L537.8 332.6 L538.4 332.9 L538.9 333.2 L539.5 333.5 L540.1 333.8 L540.7 334.1 L541.3 334.4 L541.9 334.7 L542.5 335 L543 335.3 L543.6 335.7 L544.2 336 L544.8 336.3 L545.4 336.7 L546 337 L546.6 337.4 L547.1 337.7 L547.7 338.1 L548.3 338.4 L548.9 338.8 L549.5 339.2 L550.1 339.6 L550.7 339.9 L551.3 340.3 L551.8 340.7 L552.4 341.1 L553 341.5 L553.6 341.9 L554.2 342.3 L554.8 342.7 L555.4 343.2 L555.9 343.6 L556.5 344 L557.1 344.4 L557.7 344.9 L558.3 345.3 L558.9 345.8 L559.5 346.2 L560 346.7 L560.6 347.1 L561.2 347.6 L561.8 348.1 L562.4 348.5 L563 349 L563.6 349.5 L564.1 350 L564.7 350.5 L565.3 351 L565.9 351.5 L566.5 352 L567.1 352.5 L567.7 353 L568.2 353.6 L568.8 354.1 L569.4 354.6 L570 355.1 L570.6 355.7 L571.2 356.2 L571.8 356.8 L572.3 357.3 L572.9 357.9 L573.5 358.4 L574.1 359 L574.7 359.6 L575.3 360.2 L575.9 360.7 L576.4 361.3 L577 361.9 L577.6 362.5 L578.2 363.1 L578.8 363.7 L579.4 364.3 L580 364.9 L580.5 365.5 L581.1 366.1 L581.7 366.7 L582.3 367.4 L582.9 368 L583.5 368.6 L584.1 369.3 L584.6 369.9 L585.2 370.5 L585.8 371.2 L586.4 371.8 L587 372.5 L587.6 373.1 L588.2 373.8 L588.8 374.5 L589.3 375.1 L589.9 375.8 L590.5 376.5 L591.1 377.1 L591.7 377.8 L592.3 378.5 L592.9 379.2 L593.4 379.9 L594 380.6 L594.6 381.3 L595.2 382 L595.8 382.7 L596.4 383.4 L597 384.1 L597.5 384.8 L598.1 385.5 L598.7 386.2 L599.3 386.9 L599.9 387.6 L600.5 388.4 L601.1 389.1 L601.6 389.8 L602.2 390.5 L602.8 391.3 L603.4 392 L604 392.7 L604.6 393.5 L605.2 394.2 L605.7 395 L606.3 395.7 L606.9 396.5 L607.5 397.2 L608.1 398 L608.7 398.7 L609.3 399.5 L609.8 400.2 L610.4 401 L611 401.7 L611.6 402.5 L612.2 403.3 L612.8 404 L613.4 404.8 L613.9 405.6 L614.5 406.4 L615.1 407.1 L615.7 407.9 L616.3 408.7 L616.9 409.5 L617.5 410.3 L618 411 L618.6 411.8 L619.2 412.6 L619.8 413.4 L620.4 414.2 L621 415 L621.6 415.8 L622.1 416.6 L622.7 417.4 L623.3 418.2 L623.9 418.9 L624.5 419.7 L625.1 420.5 L625.7 421.3 L626.3 422.2 L626.8 423 L627.4 423.8 L628 424.6 L628.6 425.4 L629.2 426.2 L629.8 427 L630.4 427.8 L630.9 428.6 L631.5 429.4 L632.1 430.2 L632.7 431.1 L633.3 431.9 L633.9 432.7 L634.5 433.5 L635 434.3 L635.6 435.1 L636.2 436 L636.8 436.8 L637.4 437.6 L638 438.4 L638.6 439.3 L639.1 440.1 L639.7 440.9 L640.3 441.7 L640.9 442.6 L641.5 443.4 L642.1 444.2 L642.7 445 L643.2 445.9 L643.8 446.7 L644.4 447.5 L645 448.4 L645.6 449.2 L646.2 450 L646.8 450.9 L647.3 451.7 L647.9 452.5 L648.5 453.4 L649.1 454.2 L649.7 455 L650.3 455.9 L650.9 456.7 L651.4 457.5 L652 458.4 L652.6 459.2 L653.2 460.1 L653.8 460.9 L654.4 461.7 L655 462.6 L655.5 463.4 L656.1 464.3" fill="none" stroke="#000" stroke-width="2.0" stroke-linejoin="round" stroke-linecap="round" />
<path d="M422.3 325.5 L422.9 325.6 L423.5 325.6 L424.1 325.6 L424.7 325.6 L425.3 325.6 L425.9 325.6 L426.4 325.6 L427 325.6 L427.6 325.6 L428.2 325.6 L428.8 325.6 L429.4 325.6 L430 325.6 L430.5 325.7 L431.1 325.7 L431.7 325.7 L432.3 325.7 L432.9 325.7 L433.5 325.7 L434.1 325.7 L434.6 325.7 L435.2 325.7 L435.8 325.7 L436.4 325.8 L437 325.8 L437.6 325.8 L438.2 325.8 L438.8 325.8 L439.3 325.8 L439.9 325.8 L440.5 325.8 L441.1 325.8 L441.7 325.9 L442.3 325.9 L442.9 325.9 L443.4 325.9 L444 325.9 L444.6 325.9 L445.2 325.9 L445.8 326 L446.4 326 L447 326 L447.5 326 L448.1 326 L448.7 326 L449.3 326.1 L449.9 326.1 L450.5 326.1 L451.1 326.1 L451.6 326.1 L452.2 326.1 L452.8 326.2 L453.4 326.2 L454 326.2 L454.6 326.2 L455.2 326.2 L455.7 326.3 L456.3 326.3 L456.9 326.3 L457.5 326.3 L458.1 326.4 L458.7 326.4 L459.3 326.4 L459.8 326.4 L460.4 326.4 L461 326.5 L461.6 326.5 L462.2 326.5 L462.8 326.6 L463.4 326.6 L463.9 326.6 L464.5 326.6 L465.1 326.7 L465.7 326.7 L466.3 326.7 L466.9 326.8 L467.5 326.8 L468 326.8 L468.6 326.9 L469.2 326.9 L469.8 326.9 L470.4 327 L471 327 L471.6 327 L472.1 327.1 L472.7 327.1 L473.3 327.1 L473.9 327.2 L474.5 327.2 L475.1 327.3 L475.7 327.3 L476.3 327.3 L476.8 327.4 L477.4 327.4 L478 327.5 L478.6 327.5 L479.2 327.6 L479.8 327.6 L480.4 327.7 L480.9 327.7 L481.5 327.8 L482.1 327.8 L482.7 327.9 L483.3 327.9 L483.9 328 L484.5 328 L485 328.1 L485.6 328.2 L486.2 328.2 L486.8 328.3 L487.4 328.3 L488 328.4 L488.6 328.5 L489.1 328.5 L489.7 328.6 L490.3 328.7 L490.9 328.7 L491.5 328.8 L492.1 328.9 L492.7 329 L493.2 329 L493.8 329.1 L494.4 329.2 L495 329.3 L495.6 329.4 L496.2 329.4 L496.8 329.5 L497.3 329.6 L497.9 329.7 L498.5 329.8 L499.1 329.9 L499.7 330 L500.3 330.1 L500.9 330.2 L501.4 330.3 L502 330.4 L502.6 330.5 L503.2 330.6 L503.8 330.7 L504.4 330.8 L505 330.9 L505.5 331 L506.1 331.1 L506.7 331.2 L507.3 331.4 L507.9 331.5 L508.5 331.6 L509.1 331.7 L509.6 331.9 L510.2 332 L510.8 332.1 L511.4 332.3 L512 332.4 L512.6 332.5 L513.2 332.7 L513.8 332.8 L514.3 333 L514.9 333.1 L515.5 333.3 L516.1 333.4 L516.7 333.6 L517.3 333.7 L517.9 333.9 L518.4 334.1 L519 334.2 L519.6 334.4 L520.2 334.6 L520.8 334.8 L521.4 334.9 L522 335.1 L522.5 335.3 L523.1 335.5 L523.7 335.7 L524.3 335.9 L524.9 336.1 L525.5 336.3 L526.1 336.5 L526.6 336.7 L527.2 336.9 L527.8 337.1 L528.4 337.4 L529 337.6 L529.6 337.8 L530.2 338 L530.7 338.3 L531.3 338.5 L531.9 338.8 L532.5 339 L533.1 339.3 L533.7 339.5 L534.3 339.8 L534.8 340 L535.4 340.3 L536 340.6 L536.6 340.8 L537.2 341.1 L537.8 341.4 L538.4 341.7 L538.9 342 L539.5 342.2 L540.1 342.5 L540.7 342.8 L541.3 343.2 L541.9 343.5 L542.5 343.8 L543 344.1 L543.6 344.4 L544.2 344.7 L544.8 345.1 L545.4 345.4 L546 345.7 L546.6 346.1 L547.1 346.4 L547.7 346.8 L548.3 347.1 L548.9 347.5 L549.5 347.9 L550.1 348.2 L550.7 348.6 L551.3 349 L551.8 349.4 L552.4 349.8 L553 350.2 L553.6 350.6 L554.2 351 L554.8 351.4 L555.4 351.8 L555.9 352.2 L556.5 352.6 L557.1 353.1 L557.7 353.5 L558.3 353.9 L558.9 354.4 L559.5 354.8 L560 355.3 L560.6 355.7 L561.2 356.2 L561.8 356.6 L562.4 357.1 L563 357.6 L563.6 358.1 L564.1 358.5 L564.7 359 L565.3 359.5 L565.9 360 L566.5 360.5 L567.1 361 L567.7 361.5 L568.2 362 L568.8 362.6 L569.4 363.1 L570 363.6 L570.6 364.1 L571.2 364.7 L571.8 365.2 L572.3 365.8 L572.9 366.3 L573.5 366.9 L574.1 367.4 L574.7 368 L575.3 368.6 L575.9 369.1 L576.4 369.7 L577 370.3 L577.6 370.9 L578.2 371.5 L578.8 372.1 L579.4 372.7 L580 373.3 L580.5 373.9 L581.1 374.5 L581.7 375.1 L582.3 375.7 L582.9 376.3 L583.5 377 L584.1 377.6 L584.6 378.2 L585.2 378.9 L585.8 379.5 L586.4 380.1 L587 380.8 L587.6 381.4 L588.2 382.1 L588.8 382.8 L589.3 383.4 L589.9 384.1 L590.5 384.8 L591.1 385.4 L591.7 386.1 L592.3 386.8 L592.9 387.5 L593.4 388.2 L594 388.8 L594.6 389.5 L595.2 390.2 L595.8 390.9 L596.4 391.6 L597 392.3 L597.5 393 L598.1 393.8 L598.7 394.5 L599.3 395.2 L599.9 395.9 L600.5 396.6 L601.1 397.4 L601.6 398.1 L602.2 398.8 L602.8 399.6 L603.4 400.3 L604 401 L604.6 401.8 L605.2 402.5 L605.7 403.3 L606.3 404 L606.9 404.8 L607.5 405.5 L608.1 406.3 L608.7 407 L609.3 407.8 L609.8 408.6 L610.4 409.3 L611 410.1 L611.6 410.9 L612.2 411.6 L612.8 412.4 L613.4 413.2 L613.9 414 L614.5 414.8 L615.1 415.5 L615.7 416.3 L616.3 417.1 L616.9 417.9 L617.5 418.7 L618 419.5 L618.6 420.3 L619.2 421.1 L619.8 421.9 L620.4 422.7 L621 423.5 L621.6 424.3 L622.1 425.1 L622.7 425.9 L623.3 426.7 L623.9 427.5 L624.5 428.3 L625.1 429.1 L625.7 429.9 L626.3 430.8 L626.8 431.6 L627.4 432.4 L628 433.2 L628.6 434 L629.2 434.9 L629.8 435.7 L630.4 436.5 L630.9 437.3 L631.5 438.2 L632.1 439 L632.7 439.8 L633.3 440.7 L633.9 441.5 L634.5 442.3 L635 443.1 L635.6 444 L636.2 444.8 L636.8 445.7 L637.4 446.5 L638 447.3 L638.6 448.2 L639.1 449 L639.7 449.9 L640.3 450.7 L640.9 451.5 L641.5 452.4 L642.1 453.2 L642.7 454.1 L643.2 454.9 L643.8 455.8 L644.4 456.6 L645 457.5 L645.6 458.3 L646.2 459.2 L646.8 460 L647.3 460.9 L647.9 461.7 L648.5 462.6 L649.1 463.5 L649.7 464.3 L650.3 465.2 L650.9 466 L651.4 466.9 L652 467.7 L652.6 468.6 L653.2 469.5 L653.8 470.3 L654.4 471.2 L655 472 L655.5 472.9 L656.1 473.8" fill="none" stroke="#f00" stroke-width="2.0" stroke-linejoin="round" stroke-linecap="round" />
<path d="M422.3 329.7 L422.9 329.7 L423.5 329.7 L424.1 329.7 L424.7 329.8 L425.3 329.8 L425.9 329.8 L426.4 329.8 L427 329.8 L427.6 329.8 L428.2 329.8 L428.8 329.8 L429.4 329.8 L430 329.8 L430.5 329.8 L431.1 329.9 L431.7 329.9 L432.3 329.9 L432.9 329.9 L433.5 329.9 L434.1 329.9 L434.6 329.9 L435.2 329.9 L435.8 329.9 L436.4 329.9 L437 330 L437.6 330 L438.2 330 L438.8 330 L439.3 330 L439.9 330 L440.5 330 L441.1 330 L441.7 330.1 L442.3 330.1 L442.9 330.1 L443.4 330.1 L444 330.1 L444.6 330.1 L445.2 330.1 L445.8 330.2 L446.4 330.2 L447 330.2 L447.5 330.2 L448.1 330.2 L448.7 330.2 L449.3 330.3 L449.9 330.3 L450.5 330.3 L451.1 330.3 L451.6 330.3 L452.2 330.3 L452.8 330.4 L453.4 330.4 L454 330.4 L454.6 330.4 L455.2 330.5 L455.7 330.5 L456.3 330.5 L456.9 330.5 L457.5 330.5 L458.1 330.6 L458.7 330.6 L459.3 330.6 L459.8 330.6 L460.4 330.7 L461 330.7 L461.6 330.7 L462.2 330.7 L462.8 330.8 L463.4 330.8 L463.9 330.8 L464.5 330.9 L465.1 330.9 L465.7 330.9 L466.3 330.9 L466.9 331 L467.5 331 L468 331 L468.6 331.1 L469.2 331.1 L469.8 331.1 L470.4 331.2 L471 331.2 L471.6 331.3 L472.1 331.3 L472.7 331.3 L473.3 331.4 L473.9 331.4 L474.5 331.4 L475.1 331.5 L475.7 331.5 L476.3 331.6 L476.8 331.6 L477.4 331.7 L478 331.7 L478.6 331.8 L479.2 331.8 L479.8 331.9 L480.4 331.9 L480.9 332 L481.5 332 L482.1 332.1 L482.7 332.1 L483.3 332.2 L483.9 332.2 L484.5 332.3 L485 332.3 L485.6 332.4 L486.2 332.4 L486.8 332.5 L487.4 332.6 L488 332.6 L488.6 332.7 L489.1 332.8 L489.7 332.8 L490.3 332.9 L490.9 333 L491.5 333 L492.1 333.1 L492.7 333.2 L493.2 333.3 L493.8 333.3 L494.4 333.4 L495 333.5 L495.6 333.6 L496.2 333.7 L496.8 333.7 L497.3 333.8 L497.9 333.9 L498.5 334 L499.1 334.1 L499.7 334.2 L500.3 334.3 L500.9 334.4 L501.4 334.5 L502 334.6 L502.6 334.7 L503.2 334.8 L503.8 334.9 L504.4 335 L505 335.1 L505.5 335.2 L506.1 335.3 L506.7 335.4 L507.3 335.5 L507.9 335.6 L508.5 335.8 L509.1 335.9 L509.6 336 L510.2 336.1 L510.8 336.3 L511.4 336.4 L512 336.5 L512.6 336.7 L513.2 336.8 L513.8 336.9 L514.3 337.1 L514.9 337.2 L515.5 337.4 L516.1 337.5 L516.7 337.7 L517.3 337.8 L517.9 338 L518.4 338.2 L519 338.3 L519.6 338.5 L520.2 338.7 L520.8 338.8 L521.4 339 L522 339.2 L522.5 339.4 L523.1 339.5 L523.7 339.7 L524.3 339.9 L524.9 340.1 L525.5 340.3 L526.1 340.5 L526.6 340.7 L527.2 340.9 L527.8 341.1 L528.4 341.3 L529 341.5 L529.6 341.8 L530.2 342 L530.7 342.2 L531.3 342.4 L531.9 342.7 L532.5 342.9 L533.1 343.1 L533.7 343.4 L534.3 343.6 L534.8 343.9 L535.4 344.1 L536 344.4 L536.6 344.6 L537.2 344.9 L537.8 345.2 L538.4 345.5 L538.9 345.7 L539.5 346 L540.1 346.3 L540.7 346.6 L541.3 346.9 L541.9 347.2 L542.5 347.5 L543 347.8 L543.6 348.1 L544.2 348.4 L544.8 348.7 L545.4 349 L546 349.4 L546.6 349.7 L547.1 350 L547.7 350.4 L548.3 350.7 L548.9 351 L549.5 351.4 L550.1 351.7 L550.7 352.1 L551.3 352.5 L551.8 352.8 L552.4 353.2 L553 353.6 L553.6 354 L554.2 354.4 L554.8 354.8 L555.4 355.1 L555.9 355.5 L556.5 356 L557.1 356.4 L557.7 356.8 L558.3 357.2 L558.9 357.6 L559.5 358 L560 358.5 L560.6 358.9 L561.2 359.4 L561.8 359.8 L562.4 360.2 L563 360.7 L563.6 361.2 L564.1 361.6 L564.7 362.1 L565.3 362.6 L565.9 363.1 L566.5 363.5 L567.1 364 L567.7 364.5 L568.2 365 L568.8 365.5 L569.4 366 L570 366.5 L570.6 367 L571.2 367.6 L571.8 368.1 L572.3 368.6 L572.9 369.1 L573.5 369.7 L574.1 370.2 L574.7 370.8 L575.3 371.3 L575.9 371.9 L576.4 372.4 L577 373 L577.6 373.6 L578.2 374.1 L578.8 374.7 L579.4 375.3 L580 375.9 L580.5 376.5 L581.1 377.1 L581.7 377.7 L582.3 378.3 L582.9 378.9 L583.5 379.5 L584.1 380.1 L584.6 380.7 L585.2 381.3 L585.8 382 L586.4 382.6 L587 383.2 L587.6 383.9 L588.2 384.5 L588.8 385.2 L589.3 385.8 L589.9 386.5 L590.5 387.1 L591.1 387.8 L591.7 388.4 L592.3 389.1 L592.9 389.8 L593.4 390.5 L594 391.1 L594.6 391.8 L595.2 392.5 L595.8 393.2 L596.4 393.9 L597 394.6 L597.5 395.3 L598.1 396 L598.7 396.7 L599.3 397.4 L599.9 398.1 L600.5 398.8 L601.1 399.5 L601.6 400.3 L602.2 401 L602.8 401.7 L603.4 402.5 L604 403.2 L604.6 403.9 L605.2 404.7 L605.7 405.4 L606.3 406.1 L606.9 406.9 L607.5 407.6 L608.1 408.4 L608.7 409.2 L609.3 409.9 L609.8 410.7 L610.4 411.4 L611 412.2 L611.6 413 L612.2 413.7 L612.8 414.5 L613.4 415.3 L613.9 416.1 L614.5 416.8 L615.1 417.6 L615.7 418.4 L616.3 419.2 L616.9 420 L617.5 420.8 L618 421.6 L618.6 422.4 L619.2 423.2 L619.8 424 L620.4 424.8 L621 425.6 L621.6 426.4 L622.1 427.2 L622.7 428 L623.3 428.8 L623.9 429.6 L624.5 430.4 L625.1 431.2 L625.7 432.1 L626.3 432.9 L626.8 433.7 L627.4 434.5 L628 435.3 L628.6 436.2 L629.2 437 L629.8 437.8 L630.4 438.6 L630.9 439.5 L631.5 440.3 L632.1 441.1 L632.7 442 L633.3 442.8 L633.9 443.7 L634.5 444.5 L635 445.3 L635.6 446.2 L636.2 447 L636.8 447.9 L637.4 448.7 L638 449.6 L638.6 450.4 L639.1 451.3 L639.7 452.1 L640.3 453 L640.9 453.8 L641.5 454.7 L642.1 455.5 L642.7 456.4 L643.2 457.2 L643.8 458.1 L644.4 459 L645 459.8 L645.6 460.7 L646.2 461.5 L646.8 462.4 L647.3 463.3 L647.9 464.1 L648.5 465 L649.1 465.9 L649.7 466.7 L650.3 467.6 L650.9 468.5 L651.4 469.3 L652 470.2 L652.6 471.1 L653.2 472 L653.8 472.8 L654.4 473.7 L655 474.6 L655.5 475.5 L656.1 476.3" fill="none" stroke="#00f" stroke-width="2.0" stroke-linejoin="round" stroke-linecap="round" />
<path d="M91.8 607.8 L92.4 607.8 L93 607.8 L93.6 607.8 L94.2 607.8 L94.8 607.8 L95.4 607.8 L95.9 607.8 L96.5 607.8 L97.1 607.8 L97.7 607.8 L98.3 607.8 L98.9 607.8 L99.5 607.8 L100 607.8 L100.6 607.8 L101.2 607.8 L101.8 607.9 L102.4 607.9 L103 607.9 L103.6 607.9 L104.1 607.9 L104.7 607.9 L105.3 607.9 L105.9 607.9 L106.5 607.9 L107.1 607.9 L107.7 607.9 L108.2 607.9 L108.8 607.9 L109.4 607.9 L110 607.9 L110.6 607.9 L111.2 607.9 L111.8 607.9 L112.3 607.9 L112.9 607.9 L113.5 607.9 L114.1 607.9 L114.7 607.9 L115.3 607.9 L115.9 607.9 L116.4 607.9 L117 607.9 L117.6 607.9 L118.2 607.9 L118.8 607.9 L119.4 608 L120 608 L120.5 608 L121.1 608 L121.7 608 L122.3 608 L122.9 608 L123.5 608 L124.1 608 L124.6 608 L125.2 608 L125.8 608 L126.4 608 L127 608 L127.6 608 L128.2 608 L128.7 608 L129.3 608 L129.9 608 L130.5 608.1 L131.1 608.1 L131.7 608.1 L132.3 608.1 L132.8 608.1 L133.4 608.1 L134 608.1 L134.6 608.1 L135.2 608.1 L135.8 608.1 L136.4 608.1 L136.9 608.1 L137.5 608.1 L138.1 608.1 L138.7 608.2 L139.3 608.2 L139.9 608.2 L140.5 608.2 L141 608.2 L141.6 608.2 L142.2 608.2 L142.8 608.2 L143.4 608.2 L144 608.2 L144.6 608.2 L145.1 608.3 L145.7 608.3 L146.3 608.3 L146.9 608.3 L147.5 608.3 L148.1 608.3 L148.7 608.3 L149.2 608.3 L149.8 608.3 L150.4 608.4 L151 608.4 L151.6 608.4 L152.2 608.4 L152.8 608.4 L153.3 608.4 L153.9 608.4 L154.5 608.4 L155.1 608.5 L155.7 608.5 L156.3 608.5 L156.9 608.5 L157.4 608.5 L158 608.5 L158.6 608.5 L159.2 608.6 L159.8 608.6 L160.4 608.6 L161 608.6 L161.5 608.6 L162.1 608.6 L162.7 608.7 L163.3 608.7 L163.9 608.7 L164.5 608.7 L165.1 608.7 L165.6 608.8 L166.2 608.8 L166.8 608.8 L167.4 608.8 L168 608.8 L168.6 608.9 L169.2 608.9 L169.7 608.9 L170.3 608.9 L170.9 608.9 L171.5 609 L172.1 609 L172.7 609 L173.3 609 L173.8 609.1 L174.4 609.1 L175 609.1 L175.6 609.1 L176.2 609.2 L176.8 609.2 L177.4 609.2 L177.9 609.3 L178.5 609.3 L179.1 609.3 L179.7 609.3 L180.3 609.4 L180.9 609.4 L181.5 609.4 L182 609.5 L182.6 609.5 L183.2 609.5 L183.8 609.6 L184.4 609.6 L185 609.6 L185.6 609.7 L186.1 609.7 L186.7 609.8 L187.3 609.8 L187.9 609.8 L188.5 609.9 L189.1 609.9 L189.7 610 L190.2 610 L190.8 610 L191.4 610.1 L192 610.1 L192.6 610.2 L193.2 610.2 L193.8 610.3 L194.3 610.3 L194.9 610.4 L195.5 610.4 L196.1 610.5 L196.7 610.5 L197.3 610.6 L197.9 610.6 L198.4 610.7 L199 610.7 L199.6 610.8 L200.2 610.8 L200.8 610.9 L201.4 611 L202 611 L202.5 611.1 L203.1 611.2 L203.7 611.2 L204.3 611.3 L204.9 611.3 L205.5 611.4 L206.1 611.5 L206.6 611.6 L207.2 611.6 L207.8 611.7 L208.4 611.8 L209 611.8 L209.6 611.9 L210.2 612 L210.7 612.1 L211.3 612.2 L211.9 612.2 L212.5 612.3 L213.1 612.4 L213.7 612.5 L214.3 612.6 L214.8 612.7 L215.4 612.8 L216 612.9 L216.6 613 L217.2 613.1 L217.8 613.2 L218.4 613.3 L218.9 613.4 L219.5 613.5 L220.1 613.6 L220.7 613.7 L221.3 613.8 L221.9 613.9 L222.5 614 L223 614.1 L223.6 614.3 L224.2 614.4 L224.8 614.5 L225.4 614.6 L226 614.7 L226.6 614.9 L227.1 615 L227.7 615.1 L228.3 615.3 L228.9 615.4 L229.5 615.5 L230.1 615.7 L230.7 615.8 L231.2 616 L231.8 616.1 L232.4 616.3 L233 616.4 L233.6 616.6 L234.2 616.8 L234.8 616.9 L235.3 617.1 L235.9 617.3 L236.5 617.4 L237.1 617.6 L237.7 617.8 L238.3 618 L238.9 618.1 L239.4 618.3 L240 618.5 L240.6 618.7 L241.2 618.9 L241.8 619.1 L242.4 619.3 L243 619.5 L243.5 619.7 L244.1 619.9 L244.7 620.1 L245.3 620.4 L245.9 620.6 L246.5 620.8 L247.1 621 L247.6 621.3 L248.2 621.5 L248.8 621.7 L249.4 622 L250 622.2 L250.6 622.5 L251.2 622.7 L251.7 623 L252.3 623.3 L252.9 623.5 L253.5 623.8 L254.1 624.1 L254.7 624.4 L255.3 624.6 L255.8 624.9 L256.4 625.2 L257 625.5 L257.6 625.8 L258.2 626.1 L258.8 626.4 L259.4 626.7 L259.9 627.1 L260.5 627.4 L261.1 627.7 L261.7 628 L262.3 628.4 L262.9 628.7 L263.5 629.1 L264 629.4 L264.6 629.8 L265.2 630.1 L265.8 630.5 L266.4 630.9 L267 631.3 L267.6 631.6 L268.1 632 L268.7 632.4 L269.3 632.8 L269.9 633.2 L270.5 633.6 L271.1 634 L271.7 634.5 L272.2 634.9 L272.8 635.3 L273.4 635.8 L274 636.2 L274.6 636.6 L275.2 637.1 L275.8 637.6 L276.3 638 L276.9 638.5 L277.5 639 L278.1 639.4 L278.7 639.9 L279.3 640.4 L279.9 640.9 L280.4 641.4 L281 641.9 L281.6 642.5 L282.2 643 L282.8 643.5 L283.4 644 L284 644.6 L284.5 645.1 L285.1 645.7 L285.7 646.2 L286.3 646.8 L286.9 647.4 L287.5 648 L288.1 648.5 L288.6 649.1 L289.2 649.7 L289.8 650.3 L290.4 650.9 L291 651.5 L291.6 652.2 L292.2 652.8 L292.7 653.4 L293.3 654.1 L293.9 654.7 L294.5 655.4 L295.1 656 L295.7 656.7 L296.3 657.3 L296.8 658 L297.4 658.7 L298 659.4 L298.6 660.1 L299.2 660.8 L299.8 661.5 L300.4 662.2 L300.9 662.9 L301.5 663.7 L302.1 664.4 L302.7 665.1 L303.3 665.9 L303.9 666.6 L304.5 667.4 L305 668.1 L305.6 668.9 L306.2 669.7 L306.8 670.5 L307.4 671.2 L308 672 L308.6 672.8 L309.1 673.6 L309.7 674.4 L310.3 675.3 L310.9 676.1 L311.5 676.9 L312.1 677.7 L312.7 678.6 L313.2 679.4 L313.8 680.3 L314.4 681.1 L315 682 L315.6 682.9 L316.2 683.7 L316.8 684.6 L317.3 685.5 L317.9 686.4 L318.5 687.3 L319.1 688.2 L319.7 689.1 L320.3 690 L320.9 690.9 L321.4 691.8 L322 692.8 L322.6 693.7 L323.2 694.6 L323.8 695.6 L324.4 696.5 L325 697.5 L325.5 698.4" fill="none" stroke="#000" stroke-width="2.0" stroke-linejoin="round" stroke-linecap="round" />
<path d="M91.8 616.1 L92.4 616.1 L93 616.1 L93.6 616.1 L94.2 616.1 L94.8 616.1 L95.4 616.1 L95.9 616.1 L96.5 616.1 L97.1 616.1 L97.7 616.1 L98.3 616.1 L98.9 616.1 L99.5 616.1 L100 616.1 L100.6 616.1 L101.2 616.2 L101.8 616.2 L102.4 616.2 L103 616.2 L103.6 616.2 L104.1 616.2 L104.7 616.2 L105.3 616.2 L105.9 616.2 L106.5 616.2 L107.1 616.2 L107.7 616.2 L108.2 616.2 L108.8 616.2 L109.4 616.2 L110 616.2 L110.6 616.2 L111.2 616.2 L111.8 616.2 L112.3 616.2 L112.9 616.2 L113.5 616.2 L114.1 616.2 L114.7 616.3 L115.3 616.3 L115.9 616.3 L116.4 616.3 L117 616.3 L117.6 616.3 L118.2 616.3 L118.8 616.3 L119.4 616.3 L120 616.3 L120.5 616.3 L121.1 616.3 L121.7 616.3 L122.3 616.3 L122.9 616.3 L123.5 616.3 L124.1 616.4 L124.6 616.4 L125.2 616.4 L125.8 616.4 L126.4 616.4 L127 616.4 L127.6 616.4 L128.2 616.4 L128.7 616.4 L129.3 616.4 L129.9 616.4 L130.5 616.4 L131.1 616.4 L131.7 616.5 L132.3 616.5 L132.8 616.5 L133.4 616.5 L134 616.5 L134.6 616.5 L135.2 616.5 L135.8 616.5 L136.4 616.5 L136.9 616.5 L137.5 616.6 L138.1 616.6 L138.7 616.6 L139.3 616.6 L139.9 616.6 L140.5 616.6 L141 616.6 L141.6 616.6 L142.2 616.7 L142.8 616.7 L143.4 616.7 L144 616.7 L144.6 616.7 L145.1 616.7 L145.7 616.7 L146.3 616.7 L146.9 616.8 L147.5 616.8 L148.1 616.8 L148.7 616.8 L149.2 616.8 L149.8 616.8 L150.4 616.9 L151 616.9 L151.6 616.9 L152.2 616.9 L152.8 616.9 L153.3 616.9 L153.9 617 L154.5 617 L155.1 617 L155.7 617 L156.3 617 L156.9 617.1 L157.4 617.1 L158 617.1 L158.6 617.1 L159.2 617.1 L159.8 617.2 L160.4 617.2 L161 617.2 L161.5 617.2 L162.1 617.3 L162.7 617.3 L163.3 617.3 L163.9 617.3 L164.5 617.4 L165.1 617.4 L165.6 617.4 L166.2 617.4 L166.8 617.5 L167.4 617.5 L168 617.5 L168.6 617.6 L169.2 617.6 L169.7 617.6 L170.3 617.7 L170.9 617.7 L171.5 617.7 L172.1 617.7 L172.7 617.8 L173.3 617.8 L173.8 617.9 L174.4 617.9 L175 617.9 L175.6 618 L176.2 618 L176.8 618 L177.4 618.1 L177.9 618.1 L178.5 618.2 L179.1 618.2 L179.7 618.2 L180.3 618.3 L180.9 618.3 L181.5 618.4 L182 618.4 L182.6 618.5 L183.2 618.5 L183.8 618.6 L184.4 618.6 L185 618.7 L185.6 618.7 L186.1 618.8 L186.7 618.8 L187.3 618.9 L187.9 618.9 L188.5 619 L189.1 619 L189.7 619.1 L190.2 619.1 L190.8 619.2 L191.4 619.3 L192 619.3 L192.6 619.4 L193.2 619.5 L193.8 619.5 L194.3 619.6 L194.9 619.7 L195.5 619.7 L196.1 619.8 L196.7 619.9 L197.3 619.9 L197.9 620 L198.4 620.1 L199 620.2 L199.6 620.2 L200.2 620.3 L200.8 620.4 L201.4 620.5 L202 620.6 L202.5 620.7 L203.1 620.7 L203.7 620.8 L204.3 620.9 L204.9 621 L205.5 621.1 L206.1 621.2 L206.6 621.3 L207.2 621.4 L207.8 621.5 L208.4 621.6 L209 621.7 L209.6 621.8 L210.2 621.9 L210.7 622 L211.3 622.1 L211.9 622.3 L212.5 622.4 L213.1 622.5 L213.7 622.6 L214.3 622.7 L214.8 622.9 L215.4 623 L216 623.1 L216.6 623.2 L217.2 623.4 L217.8 623.5 L218.4 623.6 L218.9 623.8 L219.5 623.9 L220.1 624.1 L220.7 624.2 L221.3 624.4 L221.9 624.5 L222.5 624.7 L223 624.8 L223.6 625 L224.2 625.2 L224.8 625.3 L225.4 625.5 L226 625.7 L226.6 625.8 L227.1 626 L227.7 626.2 L228.3 626.4 L228.9 626.6 L229.5 626.8 L230.1 627 L230.7 627.1 L231.2 627.3 L231.8 627.5 L232.4 627.8 L233 628 L233.6 628.2 L234.2 628.4 L234.8 628.6 L235.3 628.8 L235.9 629.1 L236.5 629.3 L237.1 629.5 L237.7 629.8 L238.3 630 L238.9 630.3 L239.4 630.5 L240 630.8 L240.6 631 L241.2 631.3 L241.8 631.6 L242.4 631.8 L243 632.1 L243.5 632.4 L244.1 632.7 L244.7 633 L245.3 633.2 L245.9 633.5 L246.5 633.8 L247.1 634.1 L247.6 634.5 L248.2 634.8 L248.8 635.1 L249.4 635.4 L250 635.8 L250.6 636.1 L251.2 636.4 L251.7 636.8 L252.3 637.1 L252.9 637.5 L253.5 637.8 L254.1 638.2 L254.7 638.6 L255.3 639 L255.8 639.3 L256.4 639.7 L257 640.1 L257.6 640.5 L258.2 640.9 L258.8 641.3 L259.4 641.7 L259.9 642.2 L260.5 642.6 L261.1 643 L261.7 643.5 L262.3 643.9 L262.9 644.4 L263.5 644.8 L264 645.3 L264.6 645.7 L265.2 646.2 L265.8 646.7 L266.4 647.2 L267 647.7 L267.6 648.2 L268.1 648.7 L268.7 649.2 L269.3 649.7 L269.9 650.3 L270.5 650.8 L271.1 651.3 L271.7 651.9 L272.2 652.4 L272.8 653 L273.4 653.5 L274 654.1 L274.6 654.7 L275.2 655.3 L275.8 655.9 L276.3 656.5 L276.9 657.1 L277.5 657.7 L278.1 658.3 L278.7 659 L279.3 659.6 L279.9 660.2 L280.4 660.9 L281 661.5 L281.6 662.2 L282.2 662.9 L282.8 663.5 L283.4 664.2 L284 664.9 L284.5 665.6 L285.1 666.3 L285.7 667 L286.3 667.8 L286.9 668.5 L287.5 669.2 L288.1 670 L288.6 670.7 L289.2 671.5 L289.8 672.2 L290.4 673 L291 673.8 L291.6 674.6 L292.2 675.4 L292.7 676.2 L293.3 677 L293.9 677.8 L294.5 678.6 L295.1 679.4 L295.7 680.3 L296.3 681.1 L296.8 682 L297.4 682.8 L298 683.7 L298.6 684.5 L299.2 685.4 L299.8 686.3 L300.4 687.2 L300.9 688.1 L301.5 689 L302.1 689.9 L302.7 690.8 L303.3 691.8 L303.9 692.7 L304.5 693.6 L305 694.6 L305.6 695.5 L306.2 696.5 L306.8 697.5 L307.4 698.4 L308 699.4 L308.6 700.4 L309.1 701.4 L309.7 702.4 L310.3 703.4 L310.9 704.4 L311.5 705.4 L312.1 706.5 L312.7 707.5 L313.2 708.5 L313.8 709.6 L314.4 710.6 L315 711.7 L315.6 712.8 L316.2 713.8 L316.8 714.9 L317.3 716 L317.9 717.1 L318.5 718.2 L319.1 719.3 L319.7 720.4 L320.3 721.5 L320.9 722.6 L321.4 723.7 L322 724.8 L322.6 726 L323.2 727.1 L323.8 728.3 L324.4 729.4 L325 730.6 L325.5 731.7" fill="none" stroke="#f00" stroke-width="2.0" stroke-linejoin="round" stroke-linecap="round" />
<path d="M91.8 641.5 L92.4 641.5 L93 641.5 L93.6 641.5 L94.2 641.5 L94.8 641.5 L95.4 641.5 L95.9 641.5 L96.5 641.5 L97.1 641.5 L97.7 641.5 L98.3 641.5 L98.9 641.5 L99.5 641.5 L100 641.5 L100.6 641.5 L101.2 641.5 L101.8 641.5 L102.4 641.5 L103 641.6 L103.6 641.6 L104.1 641.6 L104.7 641.6 L105.3 641.6 L105.9 641.6 L106.5 641.6 L107.1 641.6 L107.7 641.6 L108.2 641.6 L108.8 641.6 L109.4 641.6 L110 641.6 L110.6 641.6 L111.2 641.6 L111.8 641.6 L112.3 641.6 L112.9 641.6 L113.5 641.6 L114.1 641.6 L114.7 641.6 L115.3 641.6 L115.9 641.6 L116.4 641.6 L117 641.6 L117.6 641.6 L118.2 641.6 L118.8 641.6 L119.4 641.6 L120 641.6 L120.5 641.6 L121.1 641.7 L121.7 641.7 L122.3 641.7 L122.9 641.7 L123.5 641.7 L124.1 641.7 L124.6 641.7 L125.2 641.7 L125.8 641.7 L126.4 641.7 L127 641.7 L127.6 641.7 L128.2 641.7 L128.7 641.7 L129.3 641.7 L129.9 641.7 L130.5 641.7 L131.1 641.7 L131.7 641.7 L132.3 641.7 L132.8 641.8 L133.4 641.8 L134 641.8 L134.6 641.8 L135.2 641.8 L135.8 641.8 L136.4 641.8 L136.9 641.8 L137.5 641.8 L138.1 641.8 L138.7 641.8 L139.3 641.8 L139.9 641.8 L140.5 641.8 L141 641.9 L141.6 641.9 L142.2 641.9 L142.8 641.9 L143.4 641.9 L144 641.9 L144.6 641.9 L145.1 641.9 L145.7 641.9 L146.3 641.9 L146.9 641.9 L147.5 641.9 L148.1 642 L148.7 642 L149.2 642 L149.8 642 L150.4 642 L151 642 L151.6 642 L152.2 642 L152.8 642 L153.3 642.1 L153.9 642.1 L154.5 642.1 L155.1 642.1 L155.7 642.1 L156.3 642.1 L156.9 642.1 L157.4 642.1 L158 642.2 L158.6 642.2 L159.2 642.2 L159.8 642.2 L160.4 642.2 L161 642.2 L161.5 642.2 L162.1 642.3 L162.7 642.3 L163.3 642.3 L163.9 642.3 L164.5 642.3 L165.1 642.3 L165.6 642.3 L166.2 642.4 L166.8 642.4 L167.4 642.4 L168 642.4 L168.6 642.4 L169.2 642.5 L169.7 642.5 L170.3 642.5 L170.9 642.5 L171.5 642.5 L172.1 642.6 L172.7 642.6 L173.3 642.6 L173.8 642.6 L174.4 642.6 L175 642.7 L175.6 642.7 L176.2 642.7 L176.8 642.7 L177.4 642.8 L177.9 642.8 L178.5 642.8 L179.1 642.8 L179.7 642.9 L180.3 642.9 L180.9 642.9 L181.5 642.9 L182 643 L182.6 643 L183.2 643 L183.8 643.1 L184.4 643.1 L185 643.1 L185.6 643.1 L186.1 643.2 L186.7 643.2 L187.3 643.2 L187.9 643.3 L188.5 643.3 L189.1 643.3 L189.7 643.4 L190.2 643.4 L190.8 643.5 L191.4 643.5 L192 643.5 L192.6 643.6 L193.2 643.6 L193.8 643.6 L194.3 643.7 L194.9 643.7 L195.5 643.8 L196.1 643.8 L196.7 643.9 L197.3 643.9 L197.9 643.9 L198.4 644 L199 644 L199.6 644.1 L200.2 644.1 L200.8 644.2 L201.4 644.2 L202 644.3 L202.5 644.3 L203.1 644.4 L203.7 644.4 L204.3 644.5 L204.9 644.6 L205.5 644.6 L206.1 644.7 L206.6 644.7 L207.2 644.8 L207.8 644.8 L208.4 644.9 L209 645 L209.6 645 L210.2 645.1 L210.7 645.2 L211.3 645.2 L211.9 645.3 L212.5 645.4 L213.1 645.4 L213.7 645.5 L214.3 645.6 L214.8 645.7 L215.4 645.7 L216 645.8 L216.6 645.9 L217.2 646 L217.8 646.1 L218.4 646.1 L218.9 646.2 L219.5 646.3 L220.1 646.4 L220.7 646.5 L221.3 646.6 L221.9 646.7 L222.5 646.8 L223 646.9 L223.6 647 L224.2 647.1 L224.8 647.2 L225.4 647.3 L226 647.4 L226.6 647.5 L227.1 647.6 L227.7 647.7 L228.3 647.8 L228.9 647.9 L229.5 648 L230.1 648.2 L230.7 648.3 L231.2 648.4 L231.8 648.5 L232.4 648.7 L233 648.8 L233.6 648.9 L234.2 649.1 L234.8 649.2 L235.3 649.3 L235.9 649.5 L236.5 649.6 L237.1 649.8 L237.7 649.9 L238.3 650.1 L238.9 650.2 L239.4 650.4 L240 650.5 L240.6 650.7 L241.2 650.8 L241.8 651 L242.4 651.2 L243 651.3 L243.5 651.5 L244.1 651.7 L244.7 651.9 L245.3 652.1 L245.9 652.2 L246.5 652.4 L247.1 652.6 L247.6 652.8 L248.2 653 L248.8 653.2 L249.4 653.4 L250 653.6 L250.6 653.8 L251.2 654.1 L251.7 654.3 L252.3 654.5 L252.9 654.7 L253.5 655 L254.1 655.2 L254.7 655.4 L255.3 655.7 L255.8 655.9 L256.4 656.2 L257 656.4 L257.6 656.7 L258.2 656.9 L258.8 657.2 L259.4 657.5 L259.9 657.7 L260.5 658 L261.1 658.3 L261.7 658.6 L262.3 658.9 L262.9 659.2 L263.5 659.5 L264 659.8 L264.6 660.1 L265.2 660.4 L265.8 660.7 L266.4 661 L267 661.3 L267.6 661.7 L268.1 662 L268.7 662.4 L269.3 662.7 L269.9 663.1 L270.5 663.4 L271.1 663.8 L271.7 664.1 L272.2 664.5 L272.8 664.9 L273.4 665.3 L274 665.7 L274.6 666.1 L275.2 666.5 L275.8 666.9 L276.3 667.3 L276.9 667.7 L277.5 668.1 L278.1 668.6 L278.7 669 L279.3 669.4 L279.9 669.9 L280.4 670.3 L281 670.8 L281.6 671.3 L282.2 671.7 L282.8 672.2 L283.4 672.7 L284 673.2 L284.5 673.7 L285.1 674.2 L285.7 674.7 L286.3 675.2 L286.9 675.8 L287.5 676.3 L288.1 676.8 L288.6 677.4 L289.2 677.9 L289.8 678.5 L290.4 679.1 L291 679.6 L291.6 680.2 L292.2 680.8 L292.7 681.4 L293.3 682 L293.9 682.6 L294.5 683.2 L295.1 683.9 L295.7 684.5 L296.3 685.1 L296.8 685.8 L297.4 686.4 L298 687.1 L298.6 687.8 L299.2 688.4 L299.8 689.1 L300.4 689.8 L300.9 690.5 L301.5 691.2 L302.1 692 L302.7 692.7 L303.3 693.4 L303.9 694.2 L304.5 694.9 L305 695.7 L305.6 696.4 L306.2 697.2 L306.8 698 L307.4 698.8 L308 699.6 L308.6 700.4 L309.1 701.2 L309.7 702 L310.3 702.8 L310.9 703.7 L311.5 704.5 L312.1 705.4 L312.7 706.2 L313.2 707.1 L313.8 708 L314.4 708.9 L315 709.8 L315.6 710.7 L316.2 711.6 L316.8 712.5 L317.3 713.4 L317.9 714.4 L318.5 715.3 L319.1 716.2 L319.7 717.2 L320.3 718.2 L320.9 719.1 L321.4 720.1 L322 721.1 L322.6 722.1 L323.2 723.1 L323.8 724.1 L324.4 725.2 L325 726.2 L325.5 727.2" fill="none" stroke="#00f" stroke-width="2.0" stroke-linejoin="round" stroke-linecap="round" />
<path d="M73.6 25.5H343.3V234H73.6Z" fill="none" stroke="#000" stroke-width="2"/>
<path d="M65.4 234H73.6M69.1 221.4H73.6M69.1 214.1H73.6M69.1 208.9H73.6M69.1 204.9H73.6M69.1 201.6H73.6M69.1 198.8H73.6M69.1 196.3H73.6M69.1 194.2H73.6M65.4 192.3H73.6M69.1 179.7H73.6M69.1 172.4H73.6M69.1 167.2H73.6M69.1 163.2H73.6M69.1 159.9H73.6M69.1 157.1H73.6M69.1 154.6H73.6M69.1 152.5H73.6M65.4 150.6H73.6M69.1 138H73.6M69.1 130.7H73.6M69.1 125.5H73.6M69.1 121.5H73.6M69.1 118.2H73.6M69.1 115.4H73.6M69.1 112.9H73.6M69.1 110.8H73.6M65.4 108.9H73.6M69.1 96.3H73.6M69.1 89H73.6M69.1 83.8H73.6M69.1 79.8H73.6M69.1 76.5H73.6M69.1 73.7H73.6M69.1 71.2H73.6M69.1 69.1H73.6M65.4 67.2H73.6M69.1 54.6H73.6M69.1 47.3H73.6M69.1 42.1H73.6M69.1 38.1H73.6M69.1 34.8H73.6M69.1 32H73.6M69.1 29.5H73.6M69.1 27.4H73.6M65.4 25.5H73.6M73.6 234V238.5M88.8 234V238.5M100.5 234V238.5M110.1 234V238.5M118.3 234V238.5M125.3 234V238.5M131.5 234V238.5M137.1 234V242.2M173.6 234V238.5M195 234V238.5M210.2 234V238.5M221.9 234V238.5M231.5 234V238.5M239.7 234V238.5M246.7 234V238.5M252.9 234V238.5M258.5 234V242.2M295 234V238.5M316.4 234V238.5M331.5 234V238.5M343.3 234V238.5" stroke="#000" stroke-width="1.8" fill="none"/>
<text x="60.6" y="31.5" font-family="Liberation Serif" font-weight="bold" font-size="17" text-anchor="end">10<tspan font-size="11" dy="-8.3">4</tspan></text>
<text x="60.6" y="73.2" font-family="Liberation Serif" font-weight="bold" font-size="17" text-anchor="end">10<tspan font-size="11" dy="-8.3">3</tspan></text>
<text x="60.6" y="114.9" font-family="Liberation Serif" font-weight="bold" font-size="17" text-anchor="end">10<tspan font-size="11" dy="-8.3">2</tspan></text>
<text x="60.6" y="156.6" font-family="Liberation Serif" font-weight="bold" font-size="17" text-anchor="end">10<tspan font-size="11" dy="-8.3">1</tspan></text>
<text x="60.6" y="198.3" font-family="Liberation Serif" font-weight="bold" font-size="17" text-anchor="end">10<tspan font-size="11" dy="-8.3">0</tspan></text>
<text x="60.6" y="240" font-family="Liberation Serif" font-weight="bold" font-size="17" text-anchor="end">10<tspan font-size="11" dy="-8.3">-1</tspan></text>
<text x="137.1" y="260.9" font-family="Liberation Serif" font-weight="bold" font-size="17" text-anchor="middle">0.01</text>
<text x="258.5" y="260.9" font-family="Liberation Serif" font-weight="bold" font-size="17" text-anchor="middle">0.1</text>
<text transform="translate(19.3 129.8) rotate(-90)" font-family="Liberation Serif" font-weight="bold" font-size="20.8" text-anchor="middle">I(Q) (cm<tspan font-size="12" dy="-9.7">-1</tspan><tspan dy="9.7">)</tspan></text>
<path d="M404.1 25.5H673.9V234H404.1Z" fill="none" stroke="#000" stroke-width="2"/>
<path d="M399.6 234H404.1M399.6 226.2H404.1M399.6 220.6H404.1M399.6 216.3H404.1M399.6 212.8H404.1M399.6 209.9H404.1M399.6 207.3H404.1M399.6 205H404.1M395.9 203H404.1M399.6 189.6H404.1M399.6 181.8H404.1M399.6 176.3H404.1M399.6 172H404.1M399.6 168.5H404.1M399.6 165.5H404.1M399.6 162.9H404.1M399.6 160.6H404.1M395.9 158.6H404.1M399.6 145.3H404.1M399.6 137.4H404.1M399.6 131.9H404.1M399.6 127.6H404.1M399.6 124.1H404.1M399.6 121.1H404.1M399.6 118.5H404.1M399.6 116.3H404.1M395.9 114.2H404.1M399.6 100.9H404.1M399.6 93.1H404.1M399.6 87.5H404.1M399.6 83.2H404.1M399.6 79.7H404.1M399.6 76.7H404.1M399.6 74.2H404.1M399.6 71.9H404.1M395.9 69.9H404.1M399.6 56.5H404.1M399.6 48.7H404.1M399.6 43.2H404.1M399.6 38.9H404.1M399.6 35.3H404.1M399.6 32.4H404.1M399.6 29.8H404.1M399.6 27.5H404.1M395.9 25.5H404.1M404.1 234V238.5M419.3 234V238.5M431 234V238.5M440.7 234V238.5M448.8 234V238.5M455.8 234V238.5M462 234V238.5M467.6 234V242.2M504.1 234V238.5M525.5 234V238.5M540.7 234V238.5M552.5 234V238.5M562.1 234V238.5M570.2 234V238.5M577.3 234V238.5M583.5 234V238.5M589 234V242.2M625.6 234V238.5M647 234V238.5M662.1 234V238.5M673.9 234V238.5" stroke="#000" stroke-width="1.8" fill="none"/>
<text x="391.1" y="31.5" font-family="Liberation Serif" font-weight="bold" font-size="17" text-anchor="end">10<tspan font-size="11" dy="-8.3">4</tspan></text>
<text x="391.1" y="75.9" font-family="Liberation Serif" font-weight="bold" font-size="17" text-anchor="end">10<tspan font-size="11" dy="-8.3">3</tspan></text>
<text x="391.1" y="120.2" font-family="Liberation Serif" font-weight="bold" font-size="17" text-anchor="end">10<tspan font-size="11" dy="-8.3">2</tspan></text>
<text x="391.1" y="164.6" font-family="Liberation Serif" font-weight="bold" font-size="17" text-anchor="end">10<tspan font-size="11" dy="-8.3">1</tspan></text>
<text x="391.1" y="209" font-family="Liberation Serif" font-weight="bold" font-size="17" text-anchor="end">10<tspan font-size="11" dy="-8.3">0</tspan></text>
<text x="467.6" y="260.9" font-family="Liberation Serif" font-weight="bold" font-size="17" text-anchor="middle">0.01</text>
<text x="589" y="260.9" font-family="Liberation Serif" font-weight="bold" font-size="17" text-anchor="middle">0.1</text>
<path d="M73.6 282.1H343.3V490.3H73.6Z" fill="none" stroke="#000" stroke-width="2"/>
<path d="M65.4 490.3H73.6M69.1 481.3H73.6M69.1 476.1H73.6M69.1 472.4H73.6M69.1 469.5H73.6M69.1 467.2H73.6M69.1 465.2H73.6M69.1 463.4H73.6M69.1 461.9H73.6M65.4 460.6H73.6M69.1 451.6H73.6M69.1 446.4H73.6M69.1 442.7H73.6M69.1 439.8H73.6M69.1 437.4H73.6M69.1 435.4H73.6M69.1 433.7H73.6M69.1 432.2H73.6M65.4 430.8H73.6M69.1 421.9H73.6M69.1 416.6H73.6M69.1 412.9H73.6M69.1 410H73.6M69.1 407.7H73.6M69.1 405.7H73.6M69.1 404H73.6M69.1 402.4H73.6M65.4 401.1H73.6M69.1 392.1H73.6M69.1 386.9H73.6M69.1 383.2H73.6M69.1 380.3H73.6M69.1 377.9H73.6M69.1 375.9H73.6M69.1 374.2H73.6M69.1 372.7H73.6M65.4 371.3H73.6M69.1 362.4H73.6M69.1 357.1H73.6M69.1 353.4H73.6M69.1 350.5H73.6M69.1 348.2H73.6M69.1 346.2H73.6M69.1 344.5H73.6M69.1 342.9H73.6M65.4 341.6H73.6M69.1 332.6H73.6M69.1 327.4H73.6M69.1 323.7H73.6M69.1 320.8H73.6M69.1 318.4H73.6M69.1 316.5H73.6M69.1 314.7H73.6M69.1 313.2H73.6M65.4 311.8H73.6M69.1 302.9H73.6M69.1 297.7H73.6M69.1 293.9H73.6M69.1 291.1H73.6M69.1 288.7H73.6M69.1 286.7H73.6M69.1 285H73.6M69.1 283.5H73.6M65.4 282.1H73.6M73.6 490.3V494.8M88.8 490.3V494.8M100.5 490.3V494.8M110.1 490.3V494.8M118.3 490.3V494.8M125.3 490.3V494.8M131.5 490.3V494.8M137.1 490.3V498.5M173.6 490.3V494.8M195 490.3V494.8M210.2 490.3V494.8M221.9 490.3V494.8M231.5 490.3V494.8M239.7 490.3V494.8M246.7 490.3V494.8M252.9 490.3V494.8M258.5 490.3V498.5M295 490.3V494.8M316.4 490.3V494.8M331.5 490.3V494.8M343.3 490.3V494.8" stroke="#000" stroke-width="1.8" fill="none"/>
<text x="60.6" y="288.1" font-family="Liberation Serif" font-weight="bold" font-size="17" text-anchor="end">10<tspan font-size="11" dy="-8.3">4</tspan></text>
<text x="60.6" y="317.8" font-family="Liberation Serif" font-weight="bold" font-size="17" text-anchor="end">10<tspan font-size="11" dy="-8.3">3</tspan></text>
<text x="60.6" y="347.6" font-family="Liberation Serif" font-weight="bold" font-size="17" text-anchor="end">10<tspan font-size="11" dy="-8.3">2</tspan></text>
<text x="60.6" y="377.3" font-family="Liberation Serif" font-weight="bold" font-size="17" text-anchor="end">10<tspan font-size="11" dy="-8.3">1</tspan></text>
<text x="60.6" y="407.1" font-family="Liberation Serif" font-weight="bold" font-size="17" text-anchor="end">10<tspan font-size="11" dy="-8.3">0</tspan></text>
<text x="60.6" y="436.8" font-family="Liberation Serif" font-weight="bold" font-size="17" text-anchor="end">10<tspan font-size="11" dy="-8.3">-1</tspan></text>
<text x="60.6" y="466.6" font-family="Liberation Serif" font-weight="bold" font-size="17" text-anchor="end">10<tspan font-size="11" dy="-8.3">-2</tspan></text>
<text x="60.6" y="496.3" font-family="Liberation Serif" font-weight="bold" font-size="17" text-anchor="end">10<tspan font-size="11" dy="-8.3">-3</tspan></text>
<text x="137.1" y="517.2" font-family="Liberation Serif" font-weight="bold" font-size="17" text-anchor="middle">0.01</text>
<text x="258.5" y="517.2" font-family="Liberation Serif" font-weight="bold" font-size="17" text-anchor="middle">0.1</text>
<text transform="translate(19.3 386.2) rotate(-90)" font-family="Liberation Serif" font-weight="bold" font-size="20.8" text-anchor="middle">I(Q) (cm<tspan font-size="12" dy="-9.7">-1</tspan><tspan dy="9.7">)</tspan></text>
<path d="M404.1 282.1H673.9V490.3H404.1Z" fill="none" stroke="#000" stroke-width="2"/>
<path d="M399.6 490.3H404.1M399.6 487.2H404.1M399.6 484.6H404.1M399.6 482.3H404.1M399.6 480.3H404.1M395.9 478.5H404.1M399.6 466.7H404.1M399.6 459.7H404.1M399.6 454.8H404.1M399.6 451H404.1M399.6 447.9H404.1M399.6 445.3H404.1M399.6 443H404.1M399.6 441H404.1M395.9 439.2H404.1M399.6 427.4H404.1M399.6 420.5H404.1M399.6 415.6H404.1M399.6 411.7H404.1M399.6 408.6H404.1M399.6 406H404.1M399.6 403.7H404.1M399.6 401.7H404.1M395.9 399.9H404.1M399.6 388.1H404.1M399.6 381.2H404.1M399.6 376.3H404.1M399.6 372.5H404.1M399.6 369.4H404.1M399.6 366.7H404.1M399.6 364.5H404.1M399.6 362.4H404.1M395.9 360.7H404.1M399.6 348.8H404.1M399.6 341.9H404.1M399.6 337H404.1M399.6 333.2H404.1M399.6 330.1H404.1M399.6 327.5H404.1M399.6 325.2H404.1M399.6 323.2H404.1M395.9 321.4H404.1M399.6 309.6H404.1M399.6 302.6H404.1M399.6 297.7H404.1M399.6 293.9H404.1M399.6 290.8H404.1M399.6 288.2H404.1M399.6 285.9H404.1M399.6 283.9H404.1M395.9 282.1H404.1M404.1 490.3V494.8M419.3 490.3V494.8M431 490.3V494.8M440.7 490.3V494.8M448.8 490.3V494.8M455.8 490.3V494.8M462 490.3V494.8M467.6 490.3V498.5M504.1 490.3V494.8M525.5 490.3V494.8M540.7 490.3V494.8M552.5 490.3V494.8M562.1 490.3V494.8M570.2 490.3V494.8M577.3 490.3V494.8M583.5 490.3V494.8M589 490.3V498.5M625.6 490.3V494.8M647 490.3V494.8M662.1 490.3V494.8M673.9 490.3V494.8" stroke="#000" stroke-width="1.8" fill="none"/>
<text x="391.1" y="288.1" font-family="Liberation Serif" font-weight="bold" font-size="17" text-anchor="end">10<tspan font-size="11" dy="-8.3">3</tspan></text>
<text x="391.1" y="327.4" font-family="Liberation Serif" font-weight="bold" font-size="17" text-anchor="end">10<tspan font-size="11" dy="-8.3">2</tspan></text>
<text x="391.1" y="366.7" font-family="Liberation Serif" font-weight="bold" font-size="17" text-anchor="end">10<tspan font-size="11" dy="-8.3">1</tspan></text>
<text x="391.1" y="405.9" font-family="Liberation Serif" font-weight="bold" font-size="17" text-anchor="end">10<tspan font-size="11" dy="-8.3">0</tspan></text>
<text x="391.1" y="445.2" font-family="Liberation Serif" font-weight="bold" font-size="17" text-anchor="end">10<tspan font-size="11" dy="-8.3">-1</tspan></text>
<text x="391.1" y="484.5" font-family="Liberation Serif" font-weight="bold" font-size="17" text-anchor="end">10<tspan font-size="11" dy="-8.3">-2</tspan></text>
<text x="467.6" y="517.2" font-family="Liberation Serif" font-weight="bold" font-size="17" text-anchor="middle">0.01</text>
<text x="589" y="517.2" font-family="Liberation Serif" font-weight="bold" font-size="17" text-anchor="middle">0.1</text>
<text x="539" y="540.7" font-family="Liberation Serif" font-size="21" text-anchor="middle"><tspan font-weight="bold">Q</tspan> (Å<tspan font-size="12.5" font-weight="bold" dy="-9.8">-1</tspan><tspan dy="9.8">)</tspan></text>
<path d="M73.6 538.8H343.3V747.4H73.6Z" fill="none" stroke="#000" stroke-width="2"/>
<path d="M69.1 747.4H73.6M69.1 743.6H73.6M69.1 740.3H73.6M69.1 737.5H73.6M69.1 735H73.6M65.4 732.8H73.6M69.1 718.2H73.6M69.1 709.7H73.6M69.1 703.6H73.6M69.1 698.9H73.6M69.1 695.1H73.6M69.1 691.8H73.6M69.1 689H73.6M69.1 686.5H73.6M65.4 684.3H73.6M69.1 669.7H73.6M69.1 661.2H73.6M69.1 655.1H73.6M69.1 650.4H73.6M69.1 646.6H73.6M69.1 643.3H73.6M69.1 640.5H73.6M69.1 638H73.6M65.4 635.8H73.6M69.1 621.2H73.6M69.1 612.7H73.6M69.1 606.6H73.6M69.1 601.9H73.6M69.1 598.1H73.6M69.1 594.8H73.6M69.1 592H73.6M69.1 589.5H73.6M65.4 587.3H73.6M69.1 572.7H73.6M69.1 564.2H73.6M69.1 558.1H73.6M69.1 553.4H73.6M69.1 549.6H73.6M69.1 546.3H73.6M69.1 543.5H73.6M69.1 541H73.6M65.4 538.8H73.6M73.6 747.4V751.9M88.8 747.4V751.9M100.5 747.4V751.9M110.1 747.4V751.9M118.3 747.4V751.9M125.3 747.4V751.9M131.5 747.4V751.9M137.1 747.4V755.6M173.6 747.4V751.9M195 747.4V751.9M210.2 747.4V751.9M221.9 747.4V751.9M231.5 747.4V751.9M239.7 747.4V751.9M246.7 747.4V751.9M252.9 747.4V751.9M258.5 747.4V755.6M295 747.4V751.9M316.4 747.4V751.9M331.5 747.4V751.9M343.3 747.4V751.9" stroke="#000" stroke-width="1.8" fill="none"/>
<text x="60.6" y="544.8" font-family="Liberation Serif" font-weight="bold" font-size="17" text-anchor="end">10<tspan font-size="11" dy="-8.3">2</tspan></text>
<text x="60.6" y="593.3" font-family="Liberation Serif" font-weight="bold" font-size="17" text-anchor="end">10<tspan font-size="11" dy="-8.3">1</tspan></text>
<text x="60.6" y="641.8" font-family="Liberation Serif" font-weight="bold" font-size="17" text-anchor="end">10<tspan font-size="11" dy="-8.3">0</tspan></text>
<text x="60.6" y="690.3" font-family="Liberation Serif" font-weight="bold" font-size="17" text-anchor="end">10<tspan font-size="11" dy="-8.3">-1</tspan></text>
<text x="60.6" y="738.8" font-family="Liberation Serif" font-weight="bold" font-size="17" text-anchor="end">10<tspan font-size="11" dy="-8.3">-2</tspan></text>
<text x="137.1" y="774.3" font-family="Liberation Serif" font-weight="bold" font-size="17" text-anchor="middle">0.01</text>
<text x="258.5" y="774.3" font-family="Liberation Serif" font-weight="bold" font-size="17" text-anchor="middle">0.1</text>
<text transform="translate(19.3 643.1) rotate(-90)" font-family="Liberation Serif" font-weight="bold" font-size="20.8" text-anchor="middle">I(Q) (cm<tspan font-size="12" dy="-9.7">-1</tspan><tspan dy="9.7">)</tspan></text>
<text x="208.4" y="797.8" font-family="Liberation Serif" font-size="21" text-anchor="middle"><tspan font-weight="bold">Q</tspan> (Å<tspan font-size="12.5" font-weight="bold" dy="-9.8">-1</tspan><tspan dy="9.8">)</tspan></text>
<rect x="233.4" y="37.5" width="105.9" height="53.1" fill="#000"/><rect x="227.4" y="31.5" width="105.9" height="53.1" fill="#fff" stroke="#000" stroke-width="1"/>
<path d="M240.8 36.9h8.4v8.4h-8.4z" fill="#000"/>
<text x="261.1" y="46" font-family="Liberation Serif" font-weight="bold" font-size="13.5">Untreated</text>
<path d="M240 57.9a5 5 0 1 0 10 0a5 5 0 1 0 -10 0z" fill="#f00"/>
<text x="261.1" y="62.8" font-family="Liberation Serif" font-weight="bold" font-size="13.5">Treated #8</text>
<path d="M245 70.2l5.8 9.6h-11.5z" fill="#00f"/>
<text x="261.1" y="79.6" font-family="Liberation Serif" font-weight="bold" font-size="13.5">Treated #11</text>
<rect x="230.1" y="293.8" width="109" height="52.4" fill="#000"/><rect x="224.1" y="287.8" width="109" height="52.4" fill="#fff" stroke="#000" stroke-width="1"/>
<path d="M226.1 296.9H257.1" stroke="#000" stroke-width="2"/>
<text x="260.9" y="302.3" font-family="Liberation Serif" font-weight="bold" font-size="13.5">Untreated</text>
<path d="M226.1 313.7H257.1" stroke="#f00" stroke-width="2"/>
<text x="260.9" y="319.1" font-family="Liberation Serif" font-weight="bold" font-size="13.5">Treated #8</text>
<path d="M226.1 330.5H257.1" stroke="#00f" stroke-width="2"/>
<text x="260.9" y="335.9" font-family="Liberation Serif" font-weight="bold" font-size="13.5">Treated #11</text>
<rect x="560.6" y="292.8" width="108.9" height="52.4" fill="#000"/><rect x="554.6" y="286.8" width="108.9" height="52.4" fill="#fff" stroke="#000" stroke-width="1"/>
<path d="M556.6 295.9H587.6" stroke="#000" stroke-width="2"/>
<text x="591.4" y="301.3" font-family="Liberation Serif" font-weight="bold" font-size="13.5">Untreated</text>
<path d="M556.6 312.7H587.6" stroke="#f00" stroke-width="2"/>
<text x="591.4" y="318.1" font-family="Liberation Serif" font-weight="bold" font-size="13.5">Treated #8</text>
<path d="M556.6 329.5H587.6" stroke="#00f" stroke-width="2"/>
<text x="591.4" y="334.9" font-family="Liberation Serif" font-weight="bold" font-size="13.5">Treated #11</text>
<rect x="230.1" y="550.4" width="109" height="52.4" fill="#000"/><rect x="224.1" y="544.4" width="109" height="52.4" fill="#fff" stroke="#000" stroke-width="1"/>
<path d="M226.1 553.5H257.1" stroke="#000" stroke-width="2"/>
<text x="260.9" y="558.9" font-family="Liberation Serif" font-weight="bold" font-size="13.5">Untreated</text>
<path d="M226.1 570.3H257.1" stroke="#f00" stroke-width="2"/>
<text x="260.9" y="575.7" font-family="Liberation Serif" font-weight="bold" font-size="13.5">Treated #8</text>
<path d="M226.1 587.1H257.1" stroke="#00f" stroke-width="2"/>
<text x="260.9" y="592.5" font-family="Liberation Serif" font-weight="bold" font-size="13.5">Treated #11</text>
<rect x="574.1" y="36.9" width="93.4" height="86.7" fill="#000"/><rect x="568.1" y="30.9" width="93.4" height="86.7" fill="#fff" stroke="#000" stroke-width="1"/>
<path d="M578.7 35.6h8v8h-8z" fill="#fff" stroke="#8c8c8c" stroke-width="1"/>
<text x="598.7" y="42.7" font-family="Liberation Serif" font-weight="bold" font-size="11.2">Exp</text>
<path d="M568.6 53.3H595.7" stroke="#000" stroke-width="2"/>
<text x="598.7" y="57.3" font-family="Liberation Serif" font-weight="bold" font-size="11.2">Mod_tot</text>
<path d="M568.6 67.4H595.7" stroke="#f00" stroke-width="2"/>
<text x="598.7" y="71.4" font-family="Liberation Serif" font-weight="bold" font-size="11.2">Mod_macro</text>
<path d="M568.6 81.5H595.7" stroke="#00f" stroke-width="2"/>
<text x="598.7" y="85.5" font-family="Liberation Serif" font-weight="bold" font-size="11.2">Mod_meso</text>
<path d="M568.6 95.6H595.7" stroke="#f0f" stroke-width="2"/>
<text x="598.7" y="99.6" font-family="Liberation Serif" font-weight="bold" font-size="11.2">Mod_micro</text>
<path d="M568.6 109.7H595.7" stroke="#008000" stroke-width="2"/>
<text x="598.7" y="113.7" font-family="Liberation Serif" font-weight="bold" font-size="11.2">Mod_back</text>
<text x="74.4" y="19" font-family="Liberation Serif" font-weight="bold" font-size="28">A</text>
<text x="405.6" y="18.7" font-family="Liberation Serif" font-weight="bold" font-size="28">B</text>
<text x="73.8" y="275" font-family="Liberation Serif" font-weight="bold" font-size="28">C</text>
<text x="404" y="275" font-family="Liberation Serif" font-weight="bold" font-size="28">D</text>
<text x="74.8" y="532" font-family="Liberation Serif" font-weight="bold" font-size="28">E</text>
<text x="102.8" y="458.5" font-family="Liberation Serif" font-weight="bold" font-size="18.6">Macropore</text>
<text x="438.9" y="458.7" font-family="Liberation Serif" font-weight="bold" font-size="18.6">Mesopore</text>
<text x="105.1" y="715.3" font-family="Liberation Serif" font-weight="bold" font-size="18.6">Micropore</text>
<text x="419.1" y="220.5" font-family="Liberation Serif" font-weight="bold" font-size="18.6">Untreated</text>
</svg>
</body></html>
